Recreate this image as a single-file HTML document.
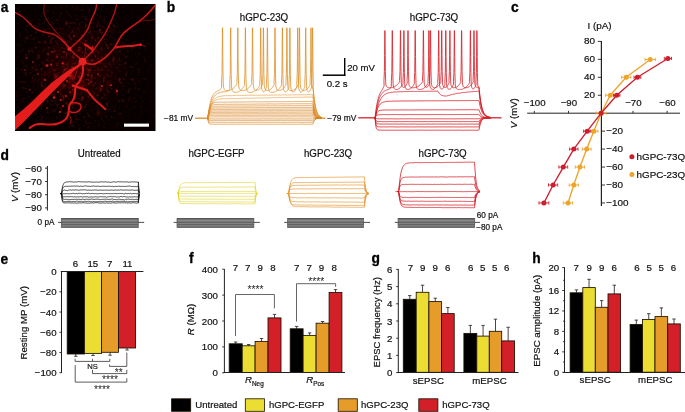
<!DOCTYPE html>
<html><head><meta charset="utf-8"><title>Figure</title>
<style>
html,body{margin:0;padding:0;background:#fff;}
svg{display:block;font-family:"Liberation Sans",sans-serif;}
text{stroke:#111;stroke-width:0.2px;paint-order:stroke;}
</style></head><body>
<svg width="685" height="412" viewBox="0 0 685 412">
<rect x="0" y="0" width="685" height="412" fill="#fff"/>
<defs>
<radialGradient id="glow" cx="80" cy="66" r="58" gradientUnits="userSpaceOnUse"><stop offset="0" stop-color="#4a0000" stop-opacity="0.6"/><stop offset="0.5" stop-color="#300000" stop-opacity="0.4"/><stop offset="1" stop-color="#100000" stop-opacity="0"/></radialGradient>
<filter id="b1" x="-5%" y="-5%" width="110%" height="110%"><feGaussianBlur stdDeviation="0.5"/></filter>
<filter id="b2" x="-5%" y="-5%" width="110%" height="110%"><feGaussianBlur stdDeviation="0.8"/></filter>
<filter id="grain" x="0" y="0" width="100%" height="100%"><feTurbulence type="fractalNoise" baseFrequency="0.32" numOctaves="2" seed="3" result="n"/><feColorMatrix in="n" type="matrix" values="0 0 0 0 0.7  0 0 0 0 0.03  0 0 0 0 0.03  3.2 0 0 0 -1.75"/></filter>
<radialGradient id="gmg" cx="78" cy="70" r="75" gradientUnits="userSpaceOnUse"><stop offset="0" stop-color="#fff"/><stop offset="0.55" stop-color="#999"/><stop offset="1" stop-color="#222"/></radialGradient><mask id="gm"><rect x="15" y="4" width="141" height="127" fill="url(#gmg)"/></mask>
<clipPath id="ca"><rect x="15" y="4" width="140.5" height="127"/></clipPath>
</defs>
<rect x="15" y="4" width="140.5" height="127" fill="#080000"/>
<g clip-path="url(#ca)">
<rect x="15" y="4" width="140.5" height="127" fill="url(#glow)"/>
<rect x="15" y="4" width="140.5" height="127" filter="url(#grain)" opacity="0.5" mask="url(#gm)"/>
<g filter="url(#b2)" fill="#c81818">
<circle cx="65.88" cy="71.01" r="0.4" opacity="0.7"/>
<circle cx="81.72" cy="82.84" r="0.9" opacity="0.28"/>
<circle cx="63.03" cy="78.68" r="0.4" opacity="0.38"/>
<circle cx="69.66" cy="75.9" r="0.4" opacity="0.7"/>
<circle cx="60.27" cy="67.28" r="0.4" opacity="0.57"/>
<circle cx="59.03" cy="83.24" r="0.5" opacity="0.28"/>
<circle cx="78.87" cy="85.84" r="0.4" opacity="0.56"/>
<circle cx="53.53" cy="70.3" r="1.1" opacity="0.35"/>
<circle cx="46.13" cy="97.45" r="0.9" opacity="0.64"/>
<circle cx="52.23" cy="69.39" r="0.9" opacity="0.36"/>
<circle cx="65.16" cy="85.88" r="0.9" opacity="0.76"/>
<circle cx="52.96" cy="93.55" r="0.5" opacity="0.69"/>
<circle cx="64.19" cy="73.45" r="0.9" opacity="0.52"/>
<circle cx="59.14" cy="90.19" r="0.7" opacity="0.41"/>
<circle cx="58.05" cy="81.87" r="0.6" opacity="0.33"/>
<circle cx="68.29" cy="76.1" r="0.4" opacity="0.78"/>
<circle cx="77.58" cy="49.72" r="0.6" opacity="0.44"/>
<circle cx="60.27" cy="87.62" r="0.7" opacity="0.57"/>
<circle cx="117.81" cy="60.94" r="0.7" opacity="0.63"/>
<circle cx="83.18" cy="80.96" r="1.1" opacity="0.64"/>
<circle cx="92.9" cy="34.98" r="0.6" opacity="0.64"/>
<circle cx="122.72" cy="36.62" r="0.6" opacity="0.26"/>
<circle cx="82.05" cy="85.49" r="0.4" opacity="0.37"/>
<circle cx="69.07" cy="79.37" r="1.1" opacity="0.39"/>
<circle cx="107.85" cy="94.25" r="0.7" opacity="0.47"/>
<circle cx="63.84" cy="106.29" r="0.5" opacity="0.7"/>
<circle cx="57.39" cy="82.46" r="0.6" opacity="0.63"/>
<circle cx="57.71" cy="85.98" r="0.5" opacity="0.33"/>
<circle cx="70.94" cy="83.75" r="0.7" opacity="0.71"/>
<circle cx="77.4" cy="90.21" r="0.6" opacity="0.25"/>
<circle cx="48.85" cy="67.86" r="0.5" opacity="0.63"/>
<circle cx="57.14" cy="74.91" r="0.9" opacity="0.61"/>
<circle cx="71.35" cy="74.77" r="1.1" opacity="0.69"/>
<circle cx="46.27" cy="92.56" r="0.7" opacity="0.47"/>
<circle cx="80.11" cy="98.45" r="0.5" opacity="0.49"/>
<circle cx="72.49" cy="77.79" r="0.9" opacity="0.28"/>
<circle cx="82.7" cy="84.18" r="0.6" opacity="0.59"/>
<circle cx="70.02" cy="76.01" r="0.5" opacity="0.59"/>
<circle cx="62.81" cy="84.91" r="0.6" opacity="0.51"/>
<circle cx="82.66" cy="85.75" r="0.7" opacity="0.8"/>
<circle cx="96.61" cy="89.86" r="0.4" opacity="0.66"/>
<circle cx="69.59" cy="70.16" r="0.7" opacity="0.71"/>
<circle cx="73" cy="75.17" r="0.9" opacity="0.45"/>
<circle cx="68.14" cy="71.9" r="0.4" opacity="0.67"/>
<circle cx="79.91" cy="81.55" r="0.6" opacity="0.54"/>
<circle cx="101.7" cy="58.08" r="0.6" opacity="0.67"/>
<circle cx="47.46" cy="111.82" r="0.5" opacity="0.59"/>
<circle cx="72.33" cy="67.76" r="0.5" opacity="0.69"/>
<circle cx="72.75" cy="92.22" r="0.9" opacity="0.52"/>
<circle cx="65.1" cy="40.44" r="0.4" opacity="0.68"/>
<circle cx="55.92" cy="66.48" r="0.6" opacity="0.5"/>
<circle cx="72.9" cy="74.95" r="0.6" opacity="0.78"/>
<circle cx="71.86" cy="87.05" r="0.5" opacity="0.44"/>
<circle cx="55.45" cy="77.38" r="0.9" opacity="0.71"/>
<circle cx="82.22" cy="43.04" r="0.4" opacity="0.71"/>
<circle cx="73.77" cy="79.07" r="0.7" opacity="0.68"/>
<circle cx="70.01" cy="76.02" r="1.1" opacity="0.43"/>
<circle cx="79.88" cy="50.02" r="1.1" opacity="0.47"/>
<circle cx="61.42" cy="29.26" r="0.5" opacity="0.8"/>
<circle cx="108.24" cy="81.81" r="0.9" opacity="0.75"/>
<circle cx="72.49" cy="71.84" r="0.7" opacity="0.61"/>
<circle cx="61.42" cy="86.22" r="0.9" opacity="0.55"/>
<circle cx="62.75" cy="33.84" r="0.4" opacity="0.54"/>
<circle cx="76.06" cy="73.66" r="0.7" opacity="0.79"/>
<circle cx="88.8" cy="78.9" r="0.5" opacity="0.41"/>
<circle cx="73.14" cy="121.85" r="0.9" opacity="0.43"/>
<circle cx="116.67" cy="92.33" r="1.1" opacity="0.44"/>
<circle cx="56.1" cy="79.25" r="0.9" opacity="0.7"/>
<circle cx="107.08" cy="45.02" r="0.5" opacity="0.54"/>
<circle cx="64.62" cy="75.3" r="0.4" opacity="0.73"/>
<circle cx="71.02" cy="70.62" r="0.5" opacity="0.34"/>
<circle cx="33.24" cy="81.37" r="1.1" opacity="0.32"/>
<circle cx="32.03" cy="69.54" r="0.7" opacity="0.68"/>
<circle cx="82.43" cy="84.5" r="0.9" opacity="0.28"/>
<circle cx="72.39" cy="77.46" r="0.7" opacity="0.56"/>
<circle cx="70.47" cy="69.44" r="0.4" opacity="0.49"/>
<circle cx="45.17" cy="74.35" r="1.1" opacity="0.4"/>
<circle cx="48.75" cy="75.05" r="0.7" opacity="0.53"/>
<circle cx="70.35" cy="75.7" r="0.6" opacity="0.76"/>
<circle cx="96.25" cy="57.77" r="0.5" opacity="0.71"/>
<circle cx="61.45" cy="78.83" r="0.4" opacity="0.62"/>
<circle cx="60.4" cy="80.04" r="0.5" opacity="0.62"/>
<circle cx="77.04" cy="84.94" r="1.1" opacity="0.6"/>
<circle cx="31.64" cy="113.27" r="0.6" opacity="0.74"/>
<circle cx="88.19" cy="71.13" r="0.7" opacity="0.74"/>
<circle cx="72.05" cy="78.92" r="1.1" opacity="0.71"/>
<circle cx="54.59" cy="74.68" r="0.6" opacity="0.48"/>
<circle cx="54.53" cy="92.98" r="0.4" opacity="0.65"/>
<circle cx="37.59" cy="87.06" r="0.4" opacity="0.46"/>
<circle cx="65.74" cy="75.59" r="0.6" opacity="0.53"/>
<circle cx="87.57" cy="13.85" r="0.4" opacity="0.3"/>
<circle cx="65.68" cy="103.1" r="0.5" opacity="0.4"/>
<circle cx="86.85" cy="66.88" r="0.6" opacity="0.47"/>
<circle cx="49.53" cy="71.83" r="0.9" opacity="0.56"/>
<circle cx="73.43" cy="77.13" r="1.1" opacity="0.35"/>
<circle cx="79" cy="69.95" r="0.6" opacity="0.77"/>
<circle cx="98.5" cy="90.39" r="0.5" opacity="0.29"/>
<circle cx="94.16" cy="51.49" r="0.7" opacity="0.26"/>
<circle cx="94.73" cy="63.36" r="0.9" opacity="0.32"/>
<circle cx="68.99" cy="75.85" r="0.5" opacity="0.77"/>
<circle cx="78.85" cy="92.66" r="0.6" opacity="0.6"/>
<circle cx="65.94" cy="75.3" r="0.5" opacity="0.41"/>
<circle cx="60.11" cy="88.32" r="0.4" opacity="0.8"/>
<circle cx="70.01" cy="76" r="0.4" opacity="0.65"/>
<circle cx="53.24" cy="78.33" r="0.7" opacity="0.31"/>
<circle cx="72.37" cy="71.55" r="0.7" opacity="0.61"/>
<circle cx="124.49" cy="67.06" r="0.6" opacity="0.63"/>
<circle cx="86.35" cy="74.42" r="0.6" opacity="0.36"/>
<circle cx="91" cy="97.99" r="0.6" opacity="0.79"/>
<circle cx="85.66" cy="53.62" r="0.4" opacity="0.29"/>
<circle cx="70.63" cy="76.9" r="0.4" opacity="0.62"/>
<circle cx="54.49" cy="88.53" r="0.9" opacity="0.62"/>
<circle cx="68.91" cy="79.43" r="0.7" opacity="0.35"/>
<circle cx="67.6" cy="93.39" r="0.4" opacity="0.39"/>
<circle cx="1.21" cy="57.77" r="0.5" opacity="0.27"/>
<circle cx="83.01" cy="65.69" r="0.5" opacity="0.45"/>
<circle cx="43.28" cy="79.73" r="0.9" opacity="0.61"/>
<circle cx="70" cy="76.16" r="0.4" opacity="0.3"/>
<circle cx="64.62" cy="73.16" r="0.7" opacity="0.26"/>
<circle cx="65.31" cy="87.51" r="0.5" opacity="0.3"/>
<circle cx="99.25" cy="113.56" r="1.1" opacity="0.68"/>
<circle cx="58.32" cy="68.95" r="0.6" opacity="0.65"/>
<circle cx="53.43" cy="62.69" r="0.5" opacity="0.27"/>
<circle cx="70.42" cy="75.38" r="0.9" opacity="0.6"/>
<circle cx="73.28" cy="79.41" r="0.9" opacity="0.66"/>
<circle cx="24.36" cy="57.79" r="0.4" opacity="0.7"/>
<circle cx="49.38" cy="36.03" r="1.1" opacity="0.6"/>
<circle cx="95.29" cy="89.02" r="0.4" opacity="0.32"/>
<circle cx="74.28" cy="69.79" r="0.9" opacity="0.28"/>
<circle cx="79.91" cy="77.02" r="0.9" opacity="0.62"/>
<circle cx="70.66" cy="74.14" r="1.1" opacity="0.76"/>
<circle cx="70.12" cy="75.92" r="0.4" opacity="0.61"/>
<circle cx="69.43" cy="111.88" r="0.4" opacity="0.72"/>
<circle cx="71.74" cy="91.74" r="0.5" opacity="0.38"/>
<circle cx="80.18" cy="63.06" r="0.4" opacity="0.51"/>
<circle cx="59.97" cy="56.28" r="0.4" opacity="0.59"/>
<circle cx="74.16" cy="80.81" r="0.6" opacity="0.61"/>
<circle cx="66.96" cy="68.95" r="0.9" opacity="0.56"/>
<circle cx="68.85" cy="84.41" r="1.1" opacity="0.3"/>
<circle cx="70.15" cy="76.65" r="0.7" opacity="0.41"/>
<circle cx="40" cy="81.6" r="0.4" opacity="0.8"/>
<circle cx="66.95" cy="75.16" r="0.6" opacity="0.79"/>
<circle cx="65.38" cy="77.06" r="0.9" opacity="0.78"/>
<circle cx="68.08" cy="76.55" r="0.6" opacity="0.46"/>
<circle cx="119.23" cy="97.68" r="0.4" opacity="0.33"/>
<circle cx="38.45" cy="71.82" r="0.6" opacity="0.32"/>
<circle cx="80.65" cy="68.03" r="1.1" opacity="0.45"/>
<circle cx="40.25" cy="76.34" r="0.7" opacity="0.47"/>
<circle cx="54.78" cy="47.13" r="0.7" opacity="0.42"/>
<circle cx="106.02" cy="114.21" r="0.6" opacity="0.46"/>
<circle cx="61.89" cy="89.93" r="0.6" opacity="0.71"/>
<circle cx="82.43" cy="86.15" r="0.5" opacity="0.64"/>
<circle cx="57.08" cy="87.64" r="0.7" opacity="0.46"/>
<circle cx="79.06" cy="67.61" r="0.4" opacity="0.45"/>
<circle cx="89.01" cy="81.17" r="0.4" opacity="0.28"/>
<circle cx="64.92" cy="68.84" r="1.1" opacity="0.76"/>
<circle cx="69.91" cy="75.99" r="0.5" opacity="0.68"/>
<circle cx="74.75" cy="57.59" r="0.7" opacity="0.74"/>
<circle cx="82.66" cy="69.34" r="0.9" opacity="0.55"/>
<circle cx="63.15" cy="45.22" r="0.4" opacity="0.76"/>
<circle cx="90.82" cy="97.48" r="0.6" opacity="0.52"/>
<circle cx="87.23" cy="66.74" r="0.9" opacity="0.32"/>
<circle cx="62.63" cy="96.72" r="1.1" opacity="0.66"/>
<circle cx="67.47" cy="72.86" r="0.7" opacity="0.61"/>
<circle cx="61.28" cy="81.93" r="0.5" opacity="0.6"/>
<circle cx="99.79" cy="89.23" r="0.9" opacity="0.75"/>
<circle cx="86.18" cy="66.6" r="0.7" opacity="0.49"/>
<circle cx="69.66" cy="75.91" r="0.5" opacity="0.3"/>
<circle cx="70.45" cy="81.72" r="0.6" opacity="0.7"/>
<circle cx="72.99" cy="84.39" r="0.4" opacity="0.66"/>
<circle cx="45.93" cy="72.8" r="0.7" opacity="0.4"/>
<circle cx="70.2" cy="63.08" r="0.7" opacity="0.4"/>
<circle cx="55.98" cy="75.74" r="1.1" opacity="0.68"/>
<circle cx="71.68" cy="73.96" r="0.4" opacity="0.4"/>
<circle cx="69.74" cy="76.08" r="0.6" opacity="0.72"/>
<circle cx="89.45" cy="58.63" r="0.4" opacity="0.32"/>
<circle cx="83.97" cy="41.74" r="0.9" opacity="0.52"/>
<circle cx="89.03" cy="84.19" r="0.9" opacity="0.72"/>
<circle cx="85.91" cy="87.3" r="0.5" opacity="0.33"/>
<circle cx="73.56" cy="75.45" r="0.4" opacity="0.77"/>
<circle cx="70.65" cy="69.9" r="0.7" opacity="0.3"/>
<circle cx="76.59" cy="42.38" r="0.4" opacity="0.68"/>
<circle cx="65.86" cy="71.33" r="0.6" opacity="0.78"/>
<circle cx="26.81" cy="37.74" r="0.9" opacity="0.6"/>
<circle cx="73.86" cy="77.59" r="0.9" opacity="0.77"/>
<circle cx="74.57" cy="86.36" r="0.6" opacity="0.37"/>
<circle cx="68.97" cy="78.66" r="0.7" opacity="0.4"/>
<circle cx="69.04" cy="77.89" r="0.5" opacity="0.51"/>
<circle cx="71.93" cy="75.58" r="1.1" opacity="0.61"/>
<circle cx="89.46" cy="82.13" r="0.5" opacity="0.52"/>
<circle cx="69.4" cy="87.44" r="1.1" opacity="0.48"/>
<circle cx="52.43" cy="92.22" r="0.7" opacity="0.27"/>
<circle cx="63.77" cy="63.99" r="0.5" opacity="0.25"/>
<circle cx="63.58" cy="96.59" r="0.9" opacity="0.29"/>
<circle cx="71.84" cy="60.03" r="0.5" opacity="0.38"/>
<circle cx="70.09" cy="76.43" r="0.6" opacity="0.31"/>
<circle cx="91.5" cy="61.77" r="0.7" opacity="0.48"/>
<circle cx="56.53" cy="56.11" r="0.9" opacity="0.33"/>
<circle cx="84.78" cy="73.89" r="0.5" opacity="0.48"/>
<circle cx="67.04" cy="66.02" r="0.5" opacity="0.47"/>
<circle cx="139.95" cy="115.45" r="0.9" opacity="0.15"/>
<circle cx="26.95" cy="25.7" r="0.5" opacity="0.16"/>
<circle cx="145.15" cy="98.29" r="0.5" opacity="0.19"/>
<circle cx="116.1" cy="109.89" r="0.7" opacity="0.22"/>
<circle cx="31.04" cy="14.78" r="0.5" opacity="0.2"/>
<circle cx="147.86" cy="20.46" r="0.5" opacity="0.21"/>
<circle cx="122.09" cy="43.59" r="0.7" opacity="0.14"/>
<circle cx="113.33" cy="29.46" r="0.9" opacity="0.33"/>
<circle cx="42.64" cy="50.53" r="0.7" opacity="0.13"/>
<circle cx="72.69" cy="106.48" r="0.7" opacity="0.13"/>
<circle cx="20.81" cy="12.82" r="0.5" opacity="0.18"/>
<circle cx="119.13" cy="117.32" r="0.7" opacity="0.2"/>
<circle cx="62.23" cy="124.22" r="0.5" opacity="0.18"/>
<circle cx="114.9" cy="44.56" r="0.7" opacity="0.19"/>
<circle cx="115.58" cy="79.45" r="0.9" opacity="0.34"/>
<circle cx="25.02" cy="108.25" r="0.5" opacity="0.23"/>
<circle cx="148.04" cy="124.24" r="0.7" opacity="0.3"/>
<circle cx="142.07" cy="106.85" r="0.5" opacity="0.33"/>
<circle cx="41.25" cy="105.32" r="0.9" opacity="0.19"/>
<circle cx="111.51" cy="23.91" r="0.5" opacity="0.2"/>
<circle cx="60.1" cy="50.23" r="0.9" opacity="0.14"/>
<circle cx="43.23" cy="99.11" r="0.5" opacity="0.21"/>
<circle cx="105.64" cy="65.21" r="0.9" opacity="0.19"/>
<circle cx="151.28" cy="115.43" r="0.5" opacity="0.18"/>
<circle cx="27.6" cy="17.05" r="0.7" opacity="0.35"/>
<circle cx="150.15" cy="26.65" r="0.5" opacity="0.22"/>
<circle cx="101.6" cy="89.26" r="0.9" opacity="0.24"/>
<circle cx="122.79" cy="99.95" r="0.7" opacity="0.19"/>
<circle cx="94.23" cy="51.62" r="0.9" opacity="0.18"/>
<circle cx="76.64" cy="28.22" r="0.5" opacity="0.16"/>
<circle cx="138.02" cy="77.29" r="0.7" opacity="0.13"/>
<circle cx="50.73" cy="35.74" r="0.9" opacity="0.17"/>
<circle cx="127.57" cy="86.67" r="0.5" opacity="0.14"/>
<circle cx="81.52" cy="107.39" r="0.7" opacity="0.33"/>
<circle cx="21.57" cy="41.71" r="0.5" opacity="0.13"/>
<circle cx="98.87" cy="108.49" r="0.5" opacity="0.33"/>
<circle cx="67.37" cy="113.27" r="0.7" opacity="0.26"/>
<circle cx="122.95" cy="88.09" r="0.5" opacity="0.14"/>
<circle cx="98.27" cy="82.49" r="0.5" opacity="0.13"/>
<circle cx="62.92" cy="10.52" r="0.7" opacity="0.13"/>
<circle cx="117.05" cy="119.24" r="0.5" opacity="0.31"/>
<circle cx="72.44" cy="51.48" r="0.9" opacity="0.19"/>
<circle cx="44.07" cy="104.41" r="0.9" opacity="0.23"/>
<circle cx="72.33" cy="104.48" r="0.9" opacity="0.25"/>
<circle cx="104.21" cy="16.39" r="0.5" opacity="0.21"/>
<circle cx="53.42" cy="128.53" r="0.9" opacity="0.19"/>
<circle cx="147.54" cy="44.05" r="0.9" opacity="0.32"/>
<circle cx="73.14" cy="7.28" r="0.7" opacity="0.27"/>
<circle cx="69.92" cy="55.62" r="0.5" opacity="0.22"/>
<circle cx="37.61" cy="19.19" r="0.5" opacity="0.21"/>
<circle cx="137.83" cy="62.61" r="0.5" opacity="0.15"/>
<circle cx="23.13" cy="22.81" r="0.7" opacity="0.14"/>
<circle cx="101.86" cy="51.36" r="0.9" opacity="0.16"/>
<circle cx="64.02" cy="25.23" r="0.5" opacity="0.33"/>
<circle cx="31.01" cy="66.31" r="0.5" opacity="0.19"/>
<circle cx="131.55" cy="10.44" r="0.7" opacity="0.19"/>
<circle cx="99.85" cy="84.55" r="0.5" opacity="0.33"/>
<circle cx="101.61" cy="108.07" r="0.5" opacity="0.27"/>
<circle cx="134.21" cy="82.63" r="0.9" opacity="0.31"/>
<circle cx="130.43" cy="27.87" r="0.5" opacity="0.13"/>
<circle cx="145.52" cy="24.56" r="0.7" opacity="0.15"/>
<circle cx="50.09" cy="95.61" r="0.5" opacity="0.13"/>
<circle cx="93.6" cy="99.68" r="0.5" opacity="0.27"/>
<circle cx="60.74" cy="53.73" r="0.7" opacity="0.25"/>
<circle cx="102.53" cy="43.28" r="0.7" opacity="0.19"/>
<circle cx="50.4" cy="53.65" r="0.7" opacity="0.22"/>
<circle cx="76.49" cy="7.92" r="0.9" opacity="0.35"/>
<circle cx="80.21" cy="60.85" r="0.9" opacity="0.3"/>
<circle cx="79.24" cy="27.45" r="0.7" opacity="0.21"/>
<circle cx="25.26" cy="49.82" r="0.7" opacity="0.14"/>
</g>
<g filter="url(#b1)">
<path d="M15 12.5 Q20 15 22.15 16.5 Q24.3 18 26.15 20 Q28 22 29.25 23.1 Q30.5 24.2 32.25 26.1 Q34 28 36.15 29.2 Q38.3 30.4 42.15 31.45 Q46 32.5 49.9 33.25 Q53.8 34 55.9 35.5 Q58 37 59.8 38.35 Q61.6 39.7 64.7 42.85 Q67.8 46 68.55 47.5 Q69.3 49 72.65 52 Q76 55 79.25 58 L82.5 61" fill="none" stroke="#dc1a1a" stroke-width="1.5" stroke-linecap="round" opacity="0.81"/>
<path d="M44.5 4 Q43 10.2 44.5 14.85 Q46 19.5 49.15 23.4 Q52.3 27.3 55.4 31.15 Q58.5 35 61.6 38.15 Q64.7 41.3 67 44.4 L69.3 47.5" fill="none" stroke="#dc1a1a" stroke-width="1.12" stroke-linecap="round" opacity="0.49"/>
<path d="M69.3 49 Q75 44 77.75 41.5 Q80.5 39 82.75 36.25 Q85 33.5 86.55 31.15 Q88.1 28.8 89.65 24.15 Q91.2 19.5 93.55 14.85 Q95.9 10.2 96.25 7.1 L96.6 4" fill="none" stroke="#dc1a1a" stroke-width="1.5" stroke-linecap="round" opacity="0.86"/>
<path d="M84 60 Q88 56 90.4 53.3 Q92.8 50.6 95.9 46.7 Q99 42.8 102.1 38.15 Q105.2 33.5 107.5 28.85 Q109.8 24.2 112.15 18.75 Q114.5 13.3 115.65 8.65 L116.8 4" fill="none" stroke="#dc1a1a" stroke-width="1.38" stroke-linecap="round" opacity="0.81"/>
<path d="M85 62.5 Q91.2 65.5 95.85 63.5 Q100.5 61.5 105.15 57.6 Q109.8 53.7 112.9 49.85 Q116 46 118.35 40.75 Q120.7 35.5 124.6 32.15 Q128.5 28.8 133.15 25.7 Q137.8 22.6 142.4 18.75 Q147 14.9 151 10.2 L155 5.5" fill="none" stroke="#dc1a1a" stroke-width="1.62" stroke-linecap="round" opacity="0.92"/>
<path d="M116 47.5 Q124 45.8 128 46 Q132 46.2 135 45.5 Q138 44.8 139.5 44.75 L141 44.7" fill="none" stroke="#dc1a1a" stroke-width="1.88" stroke-linecap="round" opacity="0.97"/>
<path d="M136 23 Q144 20 147 20.25 Q150 20.5 152 20 L154 19.5" fill="none" stroke="#dc1a1a" stroke-width="1" stroke-linecap="round" opacity="0.43"/>
<path d="M141 44.7 L145 46.5" fill="none" stroke="#dc1a1a" stroke-width="1.12" stroke-linecap="round" opacity="0.54"/>
<path d="M85 44.4 Q89 47 90.9 48.4 L92.8 49.8" fill="none" stroke="#dc1a1a" stroke-width="2.25" stroke-linecap="round" opacity="1"/>
<path d="M92.6 46.5 Q92.8 49.8 92.7 50.9 L92.6 52" fill="none" stroke="#dc1a1a" stroke-width="1.38" stroke-linecap="round" opacity="0.86"/>
<path d="M84.5 57 Q86 50 85.5 47.2 L85 44.4" fill="none" stroke="#dc1a1a" stroke-width="0.88" stroke-linecap="round" opacity="0.49"/>
<path d="M82.8 64 Q83.05 69.01 82.89 71.76 Q82.73 74.51 81.7 76.6 Q80.67 78.69 80.14 80.25 Q79.62 81.81 78.13 83.16 Q76.64 84.5 76.17 85.63 Q75.7 86.76 75.31 88.52 Q74.91 90.29 75.05 91.69 Q75.2 93.09 74.72 94.92 Q74.25 96.75 73.82 98.47 Q73.39 100.19 72.13 101.51 Q70.87 102.83 69.95 104.03 Q69.03 105.23 68.99 108.09 Q68.94 110.95 68.16 113.98 Q67.38 117 66.3 118.36 Q65.23 119.72 63.92 120.68 Q62.62 121.65 60.67 122.53 Q58.71 123.4 56.83 123.88 Q54.94 124.37 51.37 124.49 Q47.81 124.6 44.63 124.22 Q41.46 123.83 38.6 124.08 Q35.75 124.33 34.25 125.09 Q32.75 125.84 31.22 126.87 L29.7 127.9" fill="none" stroke="#dc1a1a" stroke-width="2.12" stroke-linecap="round" opacity="1"/>
<path d="M72.6 85.5 Q76 86.6 78.5 87.4 Q81 88.2 83.9 89.15 L86.8 90.1" fill="none" stroke="#dc1a1a" stroke-width="2.38" stroke-linecap="round" opacity="1"/>
<path d="M86.8 90.1 Q90.24 94.3 92.2 96.69 Q94.17 99.07 95.84 100.73 Q97.52 102.38 99.22 103.8 Q100.92 105.22 103.21 107.21 L105.5 109.2" fill="none" stroke="#dc1a1a" stroke-width="2" stroke-linecap="round" opacity="0.97"/>
<path d="M70.5 103 Q78.5 102.1 79.9 104.05 Q81.3 106 80.9 108 Q80.5 110 77.65 111.55 Q74.8 113.1 71.7 112.2 L68.6 111.3" fill="none" stroke="#dc1a1a" stroke-width="1.5" stroke-linecap="round" opacity="0.92"/>
<path d="M78.5 64 Q77 72 75.5 75.5 L74 79" fill="none" stroke="#dc1a1a" stroke-width="1" stroke-linecap="round" opacity="0.49"/>
<path d="M69.8 116 Q72 120 71 122 L70 124" fill="none" stroke="#dc1a1a" stroke-width="1" stroke-linecap="round" opacity="0.65"/>
</g>
<g filter="url(#b1)" fill="#e62020">
<polygon points="15,116.3 23.2,109.5 32.4,101.2 41.6,91.9 50.9,83.6 60.1,76.3 69.3,69.8 75.8,66.1 80.4,63.2 82,64.6 75.8,69.3 69.3,75.4 60.1,84.6 50.9,93.8 41.6,103.6 32.4,113.1 23.2,122.4 15.8,129.6 15,130.4" fill="#e41d1d"/>
<circle cx="82.6" cy="61.6" r="3.9"/>
<circle cx="69.5" cy="49" r="2.1"/>
<circle cx="140.5" cy="44.7" r="1.3"/>
<circle cx="47.1" cy="65.5" r="1.3" opacity="0.9"/>
<circle cx="51.2" cy="64.4" r="1" opacity="0.9"/>
<circle cx="62.6" cy="63.4" r="1.1" opacity="0.9"/>
<circle cx="33" cy="62" r="0.8" opacity="0.9"/>
<circle cx="57" cy="57" r="0.8" opacity="0.9"/>
<circle cx="64" cy="52" r="0.8" opacity="0.9"/>
<circle cx="54" cy="97.5" r="1.3" opacity="0.9"/>
<circle cx="58" cy="92" r="1" opacity="0.9"/>
<circle cx="60.5" cy="100" r="0.9" opacity="0.9"/>
<circle cx="66" cy="96" r="0.9" opacity="0.9"/>
<circle cx="63" cy="106" r="1" opacity="0.9"/>
<circle cx="70" cy="92" r="0.8" opacity="0.9"/>
<circle cx="45" cy="80" r="0.9" opacity="0.9"/>
<circle cx="38" cy="74" r="0.8" opacity="0.9"/>
<circle cx="27" cy="58" r="0.7" opacity="0.9"/>
<circle cx="52" cy="52" r="0.8" opacity="0.9"/>
<circle cx="102" cy="86" r="0.9" opacity="0.9"/>
<circle cx="111" cy="85" r="0.9" opacity="0.9"/>
<circle cx="117" cy="91" r="1.1" opacity="0.9"/>
<circle cx="98" cy="74" r="0.8" opacity="0.9"/>
<circle cx="91" cy="82" r="0.8" opacity="0.9"/>
<circle cx="74" cy="36" r="0.8" opacity="0.9"/>
<circle cx="100" cy="30" r="0.7" opacity="0.9"/>
<circle cx="60" cy="112" r="1" opacity="0.9"/>
<circle cx="47" cy="108" r="0.8" opacity="0.9"/>
<circle cx="67" cy="81" r="0.9" opacity="0.9"/>
<circle cx="70" cy="76" r="0.8" opacity="0.9"/>
<circle cx="88" cy="75" r="0.8" opacity="0.9"/>
<circle cx="90" cy="70" r="0.7" opacity="0.9"/>
<circle cx="30" cy="90" r="0.7" opacity="0.9"/>
<circle cx="25" cy="70" r="0.7" opacity="0.9"/>
</g>
</g>
<rect x="124" y="123.6" width="25" height="3.1" fill="#fff"/>
<text transform="translate(0.7 11.6) scale(1.0 1)" font-size="13.8" font-weight="bold" fill="#000" style="stroke:#000;stroke-width:0.3px">a</text>
<text transform="translate(166.7 11.8) scale(1.0 1)" font-size="13.8" font-weight="bold" fill="#000" style="stroke:#000;stroke-width:0.3px">b</text>
<text transform="translate(239.8 20.7) scale(1 1.03)" font-size="9.8" fill="#111">hGPC-23Q</text>
<text transform="translate(409.8 20.7) scale(1 1.03)" font-size="9.8" fill="#111">hGPC-73Q</text>
<g opacity="0.95">
<path d="M207.3 118.16 L207.8 118.16 L208.3 121.77 L208.8 123.21 L209.3 123.85 L209.8 124.06 L210.3 124.1 L210.8 124.19 L211.3 124.19 L211.8 124.3 L212.3 124.23 L212.8 124.2 L213.3 124.21 L213.8 124.17 L214.3 124.21 L214.8 124.25 L215.3 124.29 L215.8 124.28 L216.3 124.24 L216.8 124.28 L217.3 124.29 L217.8 124.25 L218.3 124.21 L218.8 124.18 L219.3 124.2 L219.8 124.2 L220.3 124.23 L220.8 124.26 L221.3 124.2 L221.8 124.21 L222.3 124.22 L222.8 124.2 L223.3 124.21 L223.8 124.26 L224.3 124.24 L224.8 124.22 L225.3 124.2 L225.8 124.21 L226.3 124.19 L226.8 124.22 L227.3 124.17 L227.8 124.16 L228.3 124.19 L228.8 124.24 L229.3 124.21 L229.8 124.21 L230.3 124.23 L230.8 124.21 L231.3 124.21 L231.8 124.22 L232.3 124.17 L232.8 124.13 L233.3 124.16 L233.8 124.14 L234.3 124.17 L234.8 124.18 L235.3 124.16 L235.8 124.14 L236.3 124.14 L236.8 124.2 L237.3 124.12 L237.8 124.18 L238.3 124.19 L238.8 124.17 L239.3 124.19 L239.8 124.19 L240.3 124.16 L240.8 124.17 L241.3 124.18 L241.8 124.2 L242.3 124.2 L242.8 124.2 L243.3 124.12 L243.8 124.12 L244.3 124.17 L244.8 124.2 L245.3 124.17 L245.8 124.15 L246.3 124.13 L246.8 124.11 L247.3 124.16 L247.8 124.2 L248.3 124.2 L248.8 124.21 L249.3 124.25 L249.8 124.19 L250.3 124.19 L250.8 124.19 L251.3 124.23 L251.8 124.17 L252.3 124.13 L252.8 124.17 L253.3 124.16 L253.8 124.18 L254.3 124.21 L254.8 124.22 L255.3 124.24 L255.8 124.23 L256.3 124.22 L256.8 124.16 L257.3 124.21 L257.8 124.16 L258.3 124.17 L258.8 124.23 L259.3 124.16 L259.8 124.2 L260.3 124.17 L260.8 124.18 L261.3 124.13 L261.8 124.09 L262.3 124.15 L262.8 124.24 L263.3 124.25 L263.8 124.23 L264.3 124.22 L264.8 124.27 L265.3 124.3 L265.8 124.24 L266.3 124.19 L266.8 124.26 L267.3 124.22 L267.8 124.24 L268.3 124.26 L268.8 124.21 L269.3 124.19 L269.8 124.14 L270.3 124.21 L270.8 124.2 L271.3 124.23 L271.8 124.17 L272.3 124.21 L272.8 124.17 L273.3 124.18 L273.8 124.14 L274.3 124.16 L274.8 124.2 L275.3 124.19 L275.8 124.18 L276.3 124.21 L276.8 124.19 L277.3 124.21 L277.8 124.21 L278.3 124.24 L278.8 124.21 L279.3 124.21 L279.8 124.21 L280.3 124.26 L280.8 124.25 L281.3 124.19 L281.8 124.16 L282.3 124.17 L282.8 124.17 L283.3 124.15 L283.8 124.15 L284.3 124.2 L284.8 124.14 L285.3 124.17 L285.8 124.18 L286.3 124.24 L286.8 124.17 L287.3 124.2 L287.8 124.19 L288.3 124.2 L288.8 124.22 L289.3 124.28 L289.8 124.26 L290.3 124.25 L290.8 124.19 L291.3 124.21 L291.8 124.16 L292.3 124.18 L292.8 124.2 L293.3 124.25 L293.8 124.26 L294.3 124.25 L294.8 124.26 L295.3 124.23 L295.8 124.22 L296.3 124.21 L296.8 124.24 L297.3 124.21 L297.8 124.18 L298.3 124.15 L298.8 124.25 L299.3 124.16 L299.8 124.18 L300.3 124.18 L300.8 124.18 L301.3 124.16 L301.8 124.19 L302.3 124.2 L302.8 124.17 L303.3 124.17 L303.8 124.14 L304.3 124.18 L304.8 124.26 L305.3 124.29 L305.8 124.29 L306.3 124.25 L306.8 124.23 L307.3 124.24 L307.8 124.28 L308.3 124.25 L308.8 124.23 L309.3 124.18 L309.8 124.19 L310.3 124.2 L310.8 124.18 L311.3 124.15 L311.8 124.17 L312.3 124.2 L312.8 124.17 L313.3 123.19 L313.8 121.84 L314.3 120.87 L314.8 120.21 L315.3 119.64 L315.8 119.25 L316.3 118.96 L316.8 118.75 L317.3 118.61 L317.8 118.45 L318.3 118.4 L318.8 118.3 L319.3 118.26 L319.8 118.28 L320.3 118.2 L320.8 118.25 L321.3 118.3 L321.8 118.3" fill="none" stroke="#D67A10" stroke-width="0.68" stroke-linejoin="round"/>
<path d="M207.3 118.22 L207.8 118.22 L208.3 120.65 L208.8 121.71 L209.3 122.04 L209.8 122.2 L210.3 122.28 L210.8 122.28 L211.3 122.25 L211.8 122.28 L212.3 122.29 L212.8 122.24 L213.3 122.24 L213.8 122.24 L214.3 122.25 L214.8 122.29 L215.3 122.32 L215.8 122.27 L216.3 122.28 L216.8 122.27 L217.3 122.22 L217.8 122.28 L218.3 122.27 L218.8 122.27 L219.3 122.21 L219.8 122.27 L220.3 122.28 L220.8 122.31 L221.3 122.29 L221.8 122.35 L222.3 122.34 L222.8 122.31 L223.3 122.32 L223.8 122.33 L224.3 122.3 L224.8 122.34 L225.3 122.34 L225.8 122.35 L226.3 122.37 L226.8 122.43 L227.3 122.37 L227.8 122.33 L228.3 122.33 L228.8 122.32 L229.3 122.23 L229.8 122.33 L230.3 122.33 L230.8 122.26 L231.3 122.26 L231.8 122.28 L232.3 122.28 L232.8 122.28 L233.3 122.29 L233.8 122.33 L234.3 122.35 L234.8 122.34 L235.3 122.34 L235.8 122.27 L236.3 122.23 L236.8 122.26 L237.3 122.26 L237.8 122.28 L238.3 122.26 L238.8 122.25 L239.3 122.27 L239.8 122.2 L240.3 122.2 L240.8 122.26 L241.3 122.28 L241.8 122.25 L242.3 122.28 L242.8 122.34 L243.3 122.37 L243.8 122.3 L244.3 122.28 L244.8 122.22 L245.3 122.23 L245.8 122.21 L246.3 122.22 L246.8 122.26 L247.3 122.27 L247.8 122.27 L248.3 122.23 L248.8 122.29 L249.3 122.28 L249.8 122.24 L250.3 122.26 L250.8 122.32 L251.3 122.26 L251.8 122.29 L252.3 122.25 L252.8 122.3 L253.3 122.32 L253.8 122.3 L254.3 122.27 L254.8 122.23 L255.3 122.23 L255.8 122.28 L256.3 122.3 L256.8 122.3 L257.3 122.28 L257.8 122.28 L258.3 122.31 L258.8 122.22 L259.3 122.24 L259.8 122.26 L260.3 122.24 L260.8 122.24 L261.3 122.26 L261.8 122.23 L262.3 122.22 L262.8 122.2 L263.3 122.2 L263.8 122.24 L264.3 122.29 L264.8 122.28 L265.3 122.28 L265.8 122.25 L266.3 122.27 L266.8 122.27 L267.3 122.31 L267.8 122.3 L268.3 122.33 L268.8 122.33 L269.3 122.31 L269.8 122.31 L270.3 122.27 L270.8 122.3 L271.3 122.29 L271.8 122.26 L272.3 122.28 L272.8 122.31 L273.3 122.3 L273.8 122.22 L274.3 122.23 L274.8 122.25 L275.3 122.28 L275.8 122.26 L276.3 122.28 L276.8 122.3 L277.3 122.31 L277.8 122.25 L278.3 122.24 L278.8 122.24 L279.3 122.24 L279.8 122.25 L280.3 122.3 L280.8 122.29 L281.3 122.26 L281.8 122.22 L282.3 122.27 L282.8 122.25 L283.3 122.26 L283.8 122.32 L284.3 122.36 L284.8 122.38 L285.3 122.31 L285.8 122.36 L286.3 122.33 L286.8 122.35 L287.3 122.33 L287.8 122.36 L288.3 122.33 L288.8 122.32 L289.3 122.31 L289.8 122.28 L290.3 122.29 L290.8 122.32 L291.3 122.28 L291.8 122.29 L292.3 122.26 L292.8 122.24 L293.3 122.21 L293.8 122.31 L294.3 122.31 L294.8 122.3 L295.3 122.33 L295.8 122.25 L296.3 122.28 L296.8 122.27 L297.3 122.3 L297.8 122.26 L298.3 122.28 L298.8 122.29 L299.3 122.34 L299.8 122.31 L300.3 122.31 L300.8 122.32 L301.3 122.33 L301.8 122.34 L302.3 122.33 L302.8 122.28 L303.3 122.33 L303.8 122.38 L304.3 122.36 L304.8 122.31 L305.3 122.34 L305.8 122.3 L306.3 122.31 L306.8 122.25 L307.3 122.32 L307.8 122.27 L308.3 122.3 L308.8 122.28 L309.3 122.27 L309.8 122.24 L310.3 122.26 L310.8 122.24 L311.3 122.3 L311.8 122.27 L312.3 122.28 L312.8 122.31 L313.3 121.63 L313.8 120.74 L314.3 120.09 L314.8 119.59 L315.3 119.23 L315.8 118.98 L316.3 118.72 L316.8 118.58 L317.3 118.48 L317.8 118.4 L318.3 118.37 L318.8 118.29 L319.3 118.22 L319.8 118.2 L320.3 118.23 L320.8 118.19 L321.3 118.12 L321.8 118.2" fill="none" stroke="#D67A10" stroke-width="0.68" stroke-linejoin="round"/>
<path d="M207.3 118.24 L207.8 118.25 L208.3 119.54 L208.8 120.05 L209.3 120.22 L209.8 120.29 L210.3 120.37 L210.8 120.37 L211.3 120.43 L211.8 120.41 L212.3 120.33 L212.8 120.37 L213.3 120.43 L213.8 120.43 L214.3 120.4 L214.8 120.38 L215.3 120.41 L215.8 120.38 L216.3 120.35 L216.8 120.37 L217.3 120.39 L217.8 120.37 L218.3 120.35 L218.8 120.38 L219.3 120.33 L219.8 120.33 L220.3 120.34 L220.8 120.43 L221.3 120.38 L221.8 120.41 L222.3 120.4 L222.8 120.44 L223.3 120.48 L223.8 120.44 L224.3 120.43 L224.8 120.39 L225.3 120.38 L225.8 120.42 L226.3 120.37 L226.8 120.35 L227.3 120.37 L227.8 120.38 L228.3 120.37 L228.8 120.31 L229.3 120.34 L229.8 120.36 L230.3 120.37 L230.8 120.39 L231.3 120.42 L231.8 120.49 L232.3 120.41 L232.8 120.37 L233.3 120.4 L233.8 120.33 L234.3 120.32 L234.8 120.32 L235.3 120.31 L235.8 120.31 L236.3 120.3 L236.8 120.31 L237.3 120.36 L237.8 120.43 L238.3 120.36 L238.8 120.39 L239.3 120.41 L239.8 120.42 L240.3 120.47 L240.8 120.46 L241.3 120.48 L241.8 120.42 L242.3 120.37 L242.8 120.43 L243.3 120.43 L243.8 120.37 L244.3 120.38 L244.8 120.42 L245.3 120.38 L245.8 120.41 L246.3 120.36 L246.8 120.4 L247.3 120.41 L247.8 120.4 L248.3 120.39 L248.8 120.39 L249.3 120.44 L249.8 120.47 L250.3 120.37 L250.8 120.35 L251.3 120.36 L251.8 120.38 L252.3 120.35 L252.8 120.4 L253.3 120.49 L253.8 120.42 L254.3 120.37 L254.8 120.39 L255.3 120.43 L255.8 120.45 L256.3 120.44 L256.8 120.44 L257.3 120.43 L257.8 120.42 L258.3 120.4 L258.8 120.39 L259.3 120.41 L259.8 120.4 L260.3 120.41 L260.8 120.39 L261.3 120.45 L261.8 120.44 L262.3 120.43 L262.8 120.47 L263.3 120.45 L263.8 120.44 L264.3 120.43 L264.8 120.36 L265.3 120.41 L265.8 120.36 L266.3 120.42 L266.8 120.44 L267.3 120.41 L267.8 120.37 L268.3 120.41 L268.8 120.39 L269.3 120.45 L269.8 120.42 L270.3 120.42 L270.8 120.41 L271.3 120.37 L271.8 120.33 L272.3 120.38 L272.8 120.4 L273.3 120.4 L273.8 120.38 L274.3 120.41 L274.8 120.38 L275.3 120.42 L275.8 120.42 L276.3 120.38 L276.8 120.37 L277.3 120.37 L277.8 120.37 L278.3 120.39 L278.8 120.36 L279.3 120.35 L279.8 120.33 L280.3 120.33 L280.8 120.37 L281.3 120.4 L281.8 120.32 L282.3 120.36 L282.8 120.33 L283.3 120.36 L283.8 120.39 L284.3 120.45 L284.8 120.42 L285.3 120.43 L285.8 120.39 L286.3 120.32 L286.8 120.29 L287.3 120.36 L287.8 120.33 L288.3 120.35 L288.8 120.4 L289.3 120.43 L289.8 120.39 L290.3 120.38 L290.8 120.34 L291.3 120.42 L291.8 120.37 L292.3 120.38 L292.8 120.39 L293.3 120.39 L293.8 120.43 L294.3 120.36 L294.8 120.34 L295.3 120.37 L295.8 120.38 L296.3 120.42 L296.8 120.36 L297.3 120.4 L297.8 120.37 L298.3 120.37 L298.8 120.45 L299.3 120.45 L299.8 120.38 L300.3 120.42 L300.8 120.39 L301.3 120.43 L301.8 120.44 L302.3 120.43 L302.8 120.4 L303.3 120.4 L303.8 120.32 L304.3 120.36 L304.8 120.42 L305.3 120.4 L305.8 120.36 L306.3 120.38 L306.8 120.42 L307.3 120.41 L307.8 120.34 L308.3 120.35 L308.8 120.37 L309.3 120.41 L309.8 120.35 L310.3 120.37 L310.8 120.43 L311.3 120.48 L311.8 120.4 L312.3 120.36 L312.8 120.37 L313.3 119.99 L313.8 119.5 L314.3 119.16 L314.8 118.93 L315.3 118.72 L315.8 118.55 L316.3 118.43 L316.8 118.36 L317.3 118.3 L317.8 118.28 L318.3 118.38 L318.8 118.35 L319.3 118.29 L319.8 118.27 L320.3 118.2 L320.8 118.16 L321.3 118.2 L321.8 118.24" fill="none" stroke="#D67A10" stroke-width="0.68" stroke-linejoin="round"/>
<path d="M195 118.18 L195.5 118.22 L196 118.22 L196.5 118.21 L197 118.28 L197.5 118.24 L198 118.18 L198.5 118.19 L199 118.19 L199.5 118.26 L200 118.16 L200.5 118.21 L201 118.21 L201.5 118.14 L202 118.19 L202.5 118.19 L203 118.22 L203.5 118.22 L204 118.22 L204.5 118.22 L205 118.26 L205.5 118.25 L206 118.26 L206.5 118.2 L207 118.28 L207.5 118.22 L208 118.47 L208.5 118.76 L209 118.84 L209.5 118.89 L210 118.93 L210.5 118.91 L211 118.86 L211.5 118.86 L212 118.92 L212.5 118.9 L213 118.87 L213.5 118.91 L214 118.95 L214.5 119.01 L215 118.99 L215.5 118.95 L216 118.96 L216.5 118.94 L217 118.88 L217.5 118.95 L218 118.98 L218.5 118.91 L219 118.97 L219.5 118.96 L220 118.92 L220.5 118.86 L221 118.89 L221.5 118.89 L222 118.93 L222.5 118.97 L223 118.99 L223.5 118.93 L224 118.91 L224.5 118.95 L225 118.93 L225.5 118.9 L226 118.89 L226.5 118.92 L227 118.94 L227.5 118.95 L228 118.94 L228.5 118.95 L229 118.96 L229.5 118.98 L230 119 L230.5 118.97 L231 118.94 L231.5 118.93 L232 118.94 L232.5 118.91 L233 118.97 L233.5 118.92 L234 118.92 L234.5 118.9 L235 118.89 L235.5 118.9 L236 118.96 L236.5 118.91 L237 118.88 L237.5 118.86 L238 118.84 L238.5 118.92 L239 118.86 L239.5 118.88 L240 118.91 L240.5 118.92 L241 118.97 L241.5 118.96 L242 118.92 L242.5 118.9 L243 118.92 L243.5 118.89 L244 118.88 L244.5 118.9 L245 118.89 L245.5 118.96 L246 118.93 L246.5 118.93 L247 118.89 L247.5 118.9 L248 118.91 L248.5 118.9 L249 118.91 L249.5 118.9 L250 118.94 L250.5 118.89 L251 118.91 L251.5 118.94 L252 118.92 L252.5 118.94 L253 118.93 L253.5 118.95 L254 119.05 L254.5 118.99 L255 118.97 L255.5 118.93 L256 118.9 L256.5 118.97 L257 119 L257.5 118.98 L258 118.92 L258.5 119.01 L259 119.03 L259.5 118.98 L260 118.94 L260.5 118.94 L261 118.99 L261.5 118.95 L262 118.91 L262.5 118.9 L263 118.83 L263.5 118.89 L264 118.9 L264.5 118.95 L265 118.94 L265.5 118.94 L266 118.93 L266.5 118.86 L267 118.88 L267.5 118.9 L268 118.94 L268.5 118.95 L269 118.9 L269.5 118.9 L270 118.91 L270.5 118.96 L271 118.92 L271.5 118.85 L272 118.85 L272.5 118.86 L273 118.93 L273.5 118.94 L274 118.88 L274.5 118.92 L275 118.97 L275.5 118.96 L276 118.9 L276.5 118.96 L277 118.96 L277.5 118.91 L278 118.98 L278.5 118.96 L279 118.86 L279.5 118.89 L280 118.89 L280.5 118.92 L281 118.93 L281.5 118.89 L282 118.91 L282.5 118.93 L283 118.92 L283.5 118.91 L284 118.87 L284.5 118.88 L285 118.87 L285.5 118.88 L286 118.87 L286.5 118.82 L287 118.87 L287.5 118.86 L288 118.87 L288.5 118.85 L289 118.87 L289.5 118.87 L290 118.94 L290.5 118.86 L291 118.84 L291.5 118.86 L292 118.84 L292.5 118.85 L293 118.96 L293.5 118.95 L294 118.93 L294.5 118.94 L295 118.95 L295.5 118.94 L296 118.93 L296.5 118.91 L297 118.95 L297.5 118.96 L298 118.94 L298.5 118.93 L299 118.88 L299.5 118.86 L300 118.82 L300.5 118.85 L301 118.92 L301.5 118.96 L302 118.93 L302.5 118.91 L303 118.93 L303.5 118.95 L304 118.9 L304.5 118.9 L305 118.93 L305.5 118.94 L306 118.95 L306.5 118.97 L307 118.95 L307.5 118.92 L308 118.86 L308.5 118.85 L309 118.9 L309.5 118.96 L310 118.97 L310.5 118.93 L311 118.86 L311.5 118.91 L312 118.87 L312.5 118.88 L313 118.94 L313.5 118.72 L314 118.56 L314.5 118.49 L315 118.39 L315.5 118.37 L316 118.39 L316.5 118.32 L317 118.34 L317.5 118.26 L318 118.25 L318.5 118.22 L319 118.13 L319.5 118.15 L320 118.2 L320.5 118.19 L321 118.15 L321.5 118.19 L322 118.17 L322.5 118.21 L323 118.24 L323.5 118.24 L324 118.22 L324.5 118.21 L325 118.27 L325.5 118.31" fill="none" stroke="#D67A10" stroke-width="0.68" stroke-linejoin="round"/>
<path d="M207.3 118.21 L207.8 118.13 L208.3 117.41 L208.8 117.08 L209.3 117.02 L209.8 116.91 L210.3 116.95 L210.8 116.93 L211.3 116.91 L211.8 116.96 L212.3 116.93 L212.8 116.96 L213.3 116.98 L213.8 116.93 L214.3 116.92 L214.8 116.95 L215.3 116.85 L215.8 116.91 L216.3 116.9 L216.8 116.93 L217.3 116.91 L217.8 116.89 L218.3 116.82 L218.8 116.8 L219.3 116.81 L219.8 116.85 L220.3 116.83 L220.8 116.86 L221.3 116.89 L221.8 116.91 L222.3 116.92 L222.8 116.94 L223.3 116.9 L223.8 116.91 L224.3 116.91 L224.8 116.92 L225.3 116.85 L225.8 116.85 L226.3 116.83 L226.8 116.83 L227.3 116.85 L227.8 116.85 L228.3 116.86 L228.8 116.84 L229.3 116.82 L229.8 116.84 L230.3 116.83 L230.8 116.86 L231.3 116.88 L231.8 116.91 L232.3 116.87 L232.8 116.88 L233.3 116.88 L233.8 116.89 L234.3 116.85 L234.8 116.93 L235.3 116.92 L235.8 116.96 L236.3 116.9 L236.8 116.9 L237.3 116.93 L237.8 116.92 L238.3 116.91 L238.8 116.89 L239.3 116.96 L239.8 116.96 L240.3 116.93 L240.8 116.92 L241.3 116.88 L241.8 116.91 L242.3 116.91 L242.8 116.89 L243.3 116.91 L243.8 116.99 L244.3 116.95 L244.8 116.91 L245.3 116.89 L245.8 116.92 L246.3 116.89 L246.8 116.85 L247.3 116.91 L247.8 116.85 L248.3 116.81 L248.8 116.84 L249.3 116.86 L249.8 116.82 L250.3 116.79 L250.8 116.84 L251.3 116.85 L251.8 116.79 L252.3 116.89 L252.8 116.94 L253.3 116.98 L253.8 116.95 L254.3 116.9 L254.8 116.88 L255.3 116.93 L255.8 116.91 L256.3 116.85 L256.8 116.9 L257.3 116.93 L257.8 116.89 L258.3 116.86 L258.8 116.9 L259.3 116.85 L259.8 116.88 L260.3 116.88 L260.8 116.92 L261.3 116.88 L261.8 116.88 L262.3 116.86 L262.8 116.93 L263.3 116.94 L263.8 116.89 L264.3 116.87 L264.8 116.89 L265.3 116.89 L265.8 116.91 L266.3 116.87 L266.8 116.86 L267.3 116.94 L267.8 116.97 L268.3 116.91 L268.8 116.97 L269.3 116.99 L269.8 116.88 L270.3 116.9 L270.8 116.93 L271.3 116.92 L271.8 116.91 L272.3 116.95 L272.8 116.94 L273.3 116.85 L273.8 116.87 L274.3 116.89 L274.8 116.85 L275.3 116.91 L275.8 116.91 L276.3 116.85 L276.8 116.86 L277.3 116.85 L277.8 116.89 L278.3 116.87 L278.8 116.86 L279.3 116.93 L279.8 116.9 L280.3 116.88 L280.8 116.89 L281.3 116.87 L281.8 116.91 L282.3 116.86 L282.8 116.86 L283.3 116.94 L283.8 116.86 L284.3 116.84 L284.8 116.87 L285.3 116.8 L285.8 116.76 L286.3 116.79 L286.8 116.87 L287.3 116.89 L287.8 116.87 L288.3 116.84 L288.8 116.95 L289.3 116.95 L289.8 116.89 L290.3 116.95 L290.8 116.98 L291.3 116.92 L291.8 116.85 L292.3 116.95 L292.8 116.92 L293.3 116.9 L293.8 116.91 L294.3 116.89 L294.8 116.94 L295.3 116.9 L295.8 116.9 L296.3 116.92 L296.8 116.96 L297.3 116.91 L297.8 116.89 L298.3 116.94 L298.8 116.92 L299.3 116.95 L299.8 116.94 L300.3 116.93 L300.8 116.89 L301.3 116.89 L301.8 116.89 L302.3 116.87 L302.8 116.95 L303.3 116.88 L303.8 116.86 L304.3 116.89 L304.8 116.93 L305.3 116.89 L305.8 116.89 L306.3 116.87 L306.8 116.85 L307.3 116.91 L307.8 116.91 L308.3 116.89 L308.8 116.9 L309.3 116.93 L309.8 116.97 L310.3 116.95 L310.8 116.94 L311.3 116.95 L311.8 116.96 L312.3 116.96 L312.8 116.89 L313.3 117.11 L313.8 117.38 L314.3 117.66 L314.8 117.8 L315.3 117.87 L315.8 118.01 L316.3 118.04 L316.8 118.09 L317.3 118.12 L317.8 118.15 L318.3 118.2 L318.8 118.17 L319.3 118.15 L319.8 118.2 L320.3 118.19 L320.8 118.2 L321.3 118.23 L321.8 118.19" fill="none" stroke="#D67A10" stroke-width="0.68" stroke-linejoin="round"/>
<path d="M207.3 118.24 L207.8 118.21 L208.3 116.8 L208.8 116.06 L209.3 115.77 L209.8 115.57 L210.3 115.47 L210.8 115.37 L211.3 115.39 L211.8 115.31 L212.3 115.29 L212.8 115.34 L213.3 115.36 L213.8 115.33 L214.3 115.34 L214.8 115.32 L215.3 115.27 L215.8 115.32 L216.3 115.31 L216.8 115.34 L217.3 115.35 L217.8 115.3 L218.3 115.31 L218.8 115.28 L219.3 115.3 L219.8 115.33 L220.3 115.35 L220.8 115.42 L221.3 115.36 L221.8 115.38 L222.3 115.38 L222.8 115.38 L223.3 115.32 L223.8 115.33 L224.3 115.34 L224.8 115.33 L225.3 115.33 L225.8 115.29 L226.3 115.3 L226.8 115.32 L227.3 115.31 L227.8 115.33 L228.3 115.37 L228.8 115.35 L229.3 115.32 L229.8 115.33 L230.3 115.31 L230.8 115.29 L231.3 115.29 L231.8 115.36 L232.3 115.36 L232.8 115.36 L233.3 115.37 L233.8 115.29 L234.3 115.31 L234.8 115.33 L235.3 115.31 L235.8 115.28 L236.3 115.31 L236.8 115.3 L237.3 115.34 L237.8 115.31 L238.3 115.31 L238.8 115.35 L239.3 115.36 L239.8 115.38 L240.3 115.34 L240.8 115.4 L241.3 115.33 L241.8 115.3 L242.3 115.3 L242.8 115.35 L243.3 115.35 L243.8 115.4 L244.3 115.39 L244.8 115.38 L245.3 115.32 L245.8 115.31 L246.3 115.31 L246.8 115.27 L247.3 115.26 L247.8 115.24 L248.3 115.25 L248.8 115.3 L249.3 115.32 L249.8 115.32 L250.3 115.33 L250.8 115.29 L251.3 115.29 L251.8 115.28 L252.3 115.26 L252.8 115.26 L253.3 115.25 L253.8 115.27 L254.3 115.31 L254.8 115.32 L255.3 115.31 L255.8 115.33 L256.3 115.31 L256.8 115.28 L257.3 115.22 L257.8 115.3 L258.3 115.31 L258.8 115.23 L259.3 115.27 L259.8 115.27 L260.3 115.28 L260.8 115.3 L261.3 115.28 L261.8 115.24 L262.3 115.24 L262.8 115.29 L263.3 115.27 L263.8 115.23 L264.3 115.26 L264.8 115.34 L265.3 115.3 L265.8 115.34 L266.3 115.33 L266.8 115.33 L267.3 115.37 L267.8 115.31 L268.3 115.3 L268.8 115.29 L269.3 115.32 L269.8 115.31 L270.3 115.32 L270.8 115.34 L271.3 115.32 L271.8 115.32 L272.3 115.29 L272.8 115.34 L273.3 115.35 L273.8 115.39 L274.3 115.31 L274.8 115.28 L275.3 115.29 L275.8 115.33 L276.3 115.3 L276.8 115.27 L277.3 115.35 L277.8 115.33 L278.3 115.32 L278.8 115.29 L279.3 115.36 L279.8 115.35 L280.3 115.32 L280.8 115.31 L281.3 115.3 L281.8 115.32 L282.3 115.32 L282.8 115.29 L283.3 115.34 L283.8 115.3 L284.3 115.34 L284.8 115.35 L285.3 115.29 L285.8 115.33 L286.3 115.33 L286.8 115.29 L287.3 115.37 L287.8 115.39 L288.3 115.28 L288.8 115.32 L289.3 115.29 L289.8 115.24 L290.3 115.29 L290.8 115.25 L291.3 115.26 L291.8 115.28 L292.3 115.28 L292.8 115.25 L293.3 115.19 L293.8 115.23 L294.3 115.3 L294.8 115.34 L295.3 115.38 L295.8 115.36 L296.3 115.35 L296.8 115.3 L297.3 115.21 L297.8 115.22 L298.3 115.22 L298.8 115.22 L299.3 115.25 L299.8 115.28 L300.3 115.27 L300.8 115.31 L301.3 115.31 L301.8 115.34 L302.3 115.36 L302.8 115.38 L303.3 115.33 L303.8 115.3 L304.3 115.3 L304.8 115.34 L305.3 115.25 L305.8 115.3 L306.3 115.28 L306.8 115.31 L307.3 115.32 L307.8 115.3 L308.3 115.27 L308.8 115.27 L309.3 115.3 L309.8 115.26 L310.3 115.28 L310.8 115.26 L311.3 115.26 L311.8 115.23 L312.3 115.2 L312.8 115.26 L313.3 115.74 L313.8 116.34 L314.3 116.8 L314.8 117.18 L315.3 117.44 L315.8 117.64 L316.3 117.77 L316.8 117.9 L317.3 117.96 L317.8 117.98 L318.3 118.06 L318.8 118.12 L319.3 118.1 L319.8 118.14 L320.3 118.16 L320.8 118.18 L321.3 118.29 L321.8 118.26" fill="none" stroke="#D67A10" stroke-width="0.68" stroke-linejoin="round"/>
<path d="M207.3 118.2 L207.8 118.19 L208.3 116.26 L208.8 115.1 L209.3 114.52 L209.8 114.2 L210.3 113.99 L210.8 113.91 L211.3 113.87 L211.8 113.88 L212.3 113.93 L212.8 113.88 L213.3 113.82 L213.8 113.77 L214.3 113.83 L214.8 113.8 L215.3 113.8 L215.8 113.83 L216.3 113.82 L216.8 113.82 L217.3 113.82 L217.8 113.75 L218.3 113.76 L218.8 113.8 L219.3 113.76 L219.8 113.72 L220.3 113.77 L220.8 113.77 L221.3 113.8 L221.8 113.73 L222.3 113.76 L222.8 113.74 L223.3 113.79 L223.8 113.86 L224.3 113.82 L224.8 113.84 L225.3 113.79 L225.8 113.79 L226.3 113.8 L226.8 113.78 L227.3 113.83 L227.8 113.83 L228.3 113.77 L228.8 113.74 L229.3 113.74 L229.8 113.69 L230.3 113.77 L230.8 113.77 L231.3 113.76 L231.8 113.78 L232.3 113.77 L232.8 113.83 L233.3 113.86 L233.8 113.86 L234.3 113.86 L234.8 113.87 L235.3 113.86 L235.8 113.83 L236.3 113.85 L236.8 113.84 L237.3 113.85 L237.8 113.88 L238.3 113.91 L238.8 113.87 L239.3 113.88 L239.8 113.8 L240.3 113.77 L240.8 113.8 L241.3 113.78 L241.8 113.75 L242.3 113.74 L242.8 113.78 L243.3 113.74 L243.8 113.78 L244.3 113.82 L244.8 113.75 L245.3 113.78 L245.8 113.82 L246.3 113.77 L246.8 113.8 L247.3 113.78 L247.8 113.81 L248.3 113.83 L248.8 113.84 L249.3 113.73 L249.8 113.78 L250.3 113.85 L250.8 113.79 L251.3 113.88 L251.8 113.84 L252.3 113.77 L252.8 113.74 L253.3 113.81 L253.8 113.83 L254.3 113.79 L254.8 113.78 L255.3 113.71 L255.8 113.71 L256.3 113.69 L256.8 113.74 L257.3 113.76 L257.8 113.8 L258.3 113.81 L258.8 113.8 L259.3 113.82 L259.8 113.86 L260.3 113.82 L260.8 113.82 L261.3 113.79 L261.8 113.77 L262.3 113.75 L262.8 113.75 L263.3 113.73 L263.8 113.75 L264.3 113.75 L264.8 113.78 L265.3 113.82 L265.8 113.88 L266.3 113.83 L266.8 113.81 L267.3 113.83 L267.8 113.79 L268.3 113.83 L268.8 113.84 L269.3 113.83 L269.8 113.86 L270.3 113.81 L270.8 113.8 L271.3 113.78 L271.8 113.78 L272.3 113.74 L272.8 113.76 L273.3 113.81 L273.8 113.82 L274.3 113.85 L274.8 113.85 L275.3 113.86 L275.8 113.8 L276.3 113.79 L276.8 113.73 L277.3 113.84 L277.8 113.9 L278.3 113.85 L278.8 113.82 L279.3 113.83 L279.8 113.79 L280.3 113.83 L280.8 113.9 L281.3 113.8 L281.8 113.78 L282.3 113.83 L282.8 113.86 L283.3 113.86 L283.8 113.85 L284.3 113.82 L284.8 113.82 L285.3 113.79 L285.8 113.78 L286.3 113.77 L286.8 113.84 L287.3 113.76 L287.8 113.81 L288.3 113.75 L288.8 113.72 L289.3 113.68 L289.8 113.7 L290.3 113.75 L290.8 113.76 L291.3 113.77 L291.8 113.75 L292.3 113.78 L292.8 113.73 L293.3 113.77 L293.8 113.76 L294.3 113.74 L294.8 113.8 L295.3 113.86 L295.8 113.82 L296.3 113.86 L296.8 113.85 L297.3 113.86 L297.8 113.86 L298.3 113.84 L298.8 113.81 L299.3 113.85 L299.8 113.81 L300.3 113.8 L300.8 113.83 L301.3 113.75 L301.8 113.79 L302.3 113.78 L302.8 113.78 L303.3 113.8 L303.8 113.81 L304.3 113.81 L304.8 113.78 L305.3 113.76 L305.8 113.77 L306.3 113.77 L306.8 113.75 L307.3 113.81 L307.8 113.86 L308.3 113.79 L308.8 113.78 L309.3 113.82 L309.8 113.73 L310.3 113.79 L310.8 113.8 L311.3 113.82 L311.8 113.85 L312.3 113.87 L312.8 113.8 L313.3 114.49 L313.8 115.38 L314.3 116.08 L314.8 116.53 L315.3 116.91 L315.8 117.25 L316.3 117.52 L316.8 117.73 L317.3 117.78 L317.8 117.92 L318.3 117.97 L318.8 118.02 L319.3 118.05 L319.8 118.11 L320.3 118.17 L320.8 118.14 L321.3 118.17 L321.8 118.18" fill="none" stroke="#D67A10" stroke-width="0.68" stroke-linejoin="round"/>
<path d="M207.3 118.17 L207.8 118.52 L208.3 116.1 L208.8 114.63 L209.3 113.76 L209.8 113.23 L210.3 112.87 L210.8 112.67 L211.3 112.6 L211.8 112.52 L212.3 112.48 L212.8 112.44 L213.3 112.45 L213.8 112.47 L214.3 112.43 L214.8 112.44 L215.3 112.39 L215.8 112.39 L216.3 112.34 L216.8 112.34 L217.3 112.46 L217.8 112.4 L218.3 112.43 L218.8 112.42 L219.3 112.41 L219.8 112.32 L220.3 112.35 L220.8 112.31 L221.3 112.31 L221.8 112.3 L222.3 112.31 L222.8 112.39 L223.3 112.44 L223.8 112.35 L224.3 112.34 L224.8 112.32 L225.3 112.34 L225.8 112.28 L226.3 112.26 L226.8 112.29 L227.3 112.29 L227.8 112.35 L228.3 112.33 L228.8 112.34 L229.3 112.33 L229.8 112.36 L230.3 112.39 L230.8 112.37 L231.3 112.34 L231.8 112.35 L232.3 112.35 L232.8 112.37 L233.3 112.36 L233.8 112.35 L234.3 112.37 L234.8 112.32 L235.3 112.28 L235.8 112.31 L236.3 112.31 L236.8 112.33 L237.3 112.35 L237.8 112.35 L238.3 112.32 L238.8 112.37 L239.3 112.27 L239.8 112.26 L240.3 112.24 L240.8 112.33 L241.3 112.31 L241.8 112.3 L242.3 112.32 L242.8 112.35 L243.3 112.37 L243.8 112.34 L244.3 112.33 L244.8 112.28 L245.3 112.29 L245.8 112.28 L246.3 112.21 L246.8 112.25 L247.3 112.26 L247.8 112.3 L248.3 112.31 L248.8 112.3 L249.3 112.29 L249.8 112.34 L250.3 112.32 L250.8 112.34 L251.3 112.33 L251.8 112.35 L252.3 112.35 L252.8 112.28 L253.3 112.3 L253.8 112.34 L254.3 112.36 L254.8 112.31 L255.3 112.35 L255.8 112.34 L256.3 112.33 L256.8 112.28 L257.3 112.29 L257.8 112.29 L258.3 112.21 L258.8 112.21 L259.3 112.18 L259.8 112.15 L260.3 112.2 L260.8 112.25 L261.3 112.25 L261.8 112.2 L262.3 112.17 L262.8 112.23 L263.3 112.23 L263.8 112.24 L264.3 112.23 L264.8 112.24 L265.3 112.22 L265.8 112.2 L266.3 112.17 L266.8 112.19 L267.3 112.21 L267.8 112.25 L268.3 112.32 L268.8 112.29 L269.3 112.17 L269.8 112.15 L270.3 112.22 L270.8 112.24 L271.3 112.23 L271.8 112.19 L272.3 112.22 L272.8 112.23 L273.3 112.26 L273.8 112.29 L274.3 112.31 L274.8 112.3 L275.3 112.23 L275.8 112.24 L276.3 112.19 L276.8 112.17 L277.3 112.16 L277.8 112.13 L278.3 112.13 L278.8 112.21 L279.3 112.2 L279.8 112.25 L280.3 112.23 L280.8 112.16 L281.3 112.15 L281.8 112.22 L282.3 112.24 L282.8 112.22 L283.3 112.2 L283.8 112.23 L284.3 112.23 L284.8 112.2 L285.3 112.23 L285.8 112.21 L286.3 112.16 L286.8 112.12 L287.3 112.07 L287.8 112.19 L288.3 112.19 L288.8 112.24 L289.3 112.22 L289.8 112.2 L290.3 112.19 L290.8 112.19 L291.3 112.13 L291.8 112.14 L292.3 112.18 L292.8 112.25 L293.3 112.2 L293.8 112.19 L294.3 112.2 L294.8 112.23 L295.3 112.22 L295.8 112.18 L296.3 112.23 L296.8 112.2 L297.3 112.18 L297.8 112.27 L298.3 112.17 L298.8 112.16 L299.3 112.11 L299.8 112.17 L300.3 112.13 L300.8 112.14 L301.3 112.15 L301.8 112.13 L302.3 112.13 L302.8 112.12 L303.3 112.1 L303.8 112.08 L304.3 112.11 L304.8 112.1 L305.3 112.08 L305.8 112.08 L306.3 112.17 L306.8 112.11 L307.3 112.09 L307.8 112.08 L308.3 112.09 L308.8 112.13 L309.3 112.1 L309.8 112.11 L310.3 112.13 L310.8 112.17 L311.3 112.13 L311.8 112.09 L312.3 112.12 L312.8 112.11 L313.3 112.98 L313.8 114.18 L314.3 115.15 L314.8 115.8 L315.3 116.35 L315.8 116.84 L316.3 117.16 L316.8 117.37 L317.3 117.54 L317.8 117.73 L318.3 117.85 L318.8 117.91 L319.3 117.96 L319.8 117.98 L320.3 117.99 L320.8 118.07 L321.3 118.12 L321.8 118.12" fill="none" stroke="#D67A10" stroke-width="0.68" stroke-linejoin="round"/>
<path d="M207.3 118.22 L207.8 118.57 L208.3 115.85 L208.8 114.03 L209.3 112.96 L209.8 112.31 L210.3 111.85 L210.8 111.53 L211.3 111.34 L211.8 111.21 L212.3 111.12 L212.8 111.06 L213.3 111.04 L213.8 111 L214.3 110.98 L214.8 110.95 L215.3 110.98 L215.8 111.01 L216.3 111.01 L216.8 111 L217.3 111.03 L217.8 110.97 L218.3 111.03 L218.8 110.93 L219.3 110.95 L219.8 110.95 L220.3 110.96 L220.8 110.9 L221.3 110.95 L221.8 110.95 L222.3 110.94 L222.8 110.97 L223.3 110.96 L223.8 110.95 L224.3 110.97 L224.8 110.94 L225.3 110.94 L225.8 110.92 L226.3 110.9 L226.8 110.9 L227.3 110.88 L227.8 110.9 L228.3 110.89 L228.8 110.88 L229.3 110.88 L229.8 110.85 L230.3 110.89 L230.8 110.91 L231.3 110.83 L231.8 110.85 L232.3 110.85 L232.8 110.89 L233.3 110.96 L233.8 110.91 L234.3 110.9 L234.8 110.86 L235.3 110.88 L235.8 110.9 L236.3 110.9 L236.8 110.89 L237.3 110.85 L237.8 110.85 L238.3 110.83 L238.8 110.83 L239.3 110.9 L239.8 110.89 L240.3 110.85 L240.8 110.82 L241.3 110.78 L241.8 110.79 L242.3 110.89 L242.8 110.87 L243.3 110.85 L243.8 110.82 L244.3 110.81 L244.8 110.86 L245.3 110.89 L245.8 110.86 L246.3 110.83 L246.8 110.85 L247.3 110.92 L247.8 110.99 L248.3 110.97 L248.8 110.92 L249.3 110.9 L249.8 110.86 L250.3 110.82 L250.8 110.8 L251.3 110.81 L251.8 110.84 L252.3 110.88 L252.8 110.9 L253.3 110.88 L253.8 110.78 L254.3 110.84 L254.8 110.84 L255.3 110.81 L255.8 110.85 L256.3 110.8 L256.8 110.79 L257.3 110.8 L257.8 110.8 L258.3 110.79 L258.8 110.73 L259.3 110.7 L259.8 110.74 L260.3 110.78 L260.8 110.78 L261.3 110.74 L261.8 110.72 L262.3 110.7 L262.8 110.77 L263.3 110.74 L263.8 110.78 L264.3 110.74 L264.8 110.72 L265.3 110.72 L265.8 110.78 L266.3 110.75 L266.8 110.75 L267.3 110.73 L267.8 110.73 L268.3 110.77 L268.8 110.74 L269.3 110.74 L269.8 110.7 L270.3 110.7 L270.8 110.72 L271.3 110.78 L271.8 110.83 L272.3 110.75 L272.8 110.74 L273.3 110.68 L273.8 110.69 L274.3 110.71 L274.8 110.74 L275.3 110.76 L275.8 110.71 L276.3 110.68 L276.8 110.65 L277.3 110.73 L277.8 110.69 L278.3 110.73 L278.8 110.74 L279.3 110.76 L279.8 110.69 L280.3 110.71 L280.8 110.73 L281.3 110.72 L281.8 110.73 L282.3 110.68 L282.8 110.74 L283.3 110.69 L283.8 110.69 L284.3 110.72 L284.8 110.73 L285.3 110.77 L285.8 110.74 L286.3 110.68 L286.8 110.7 L287.3 110.71 L287.8 110.65 L288.3 110.69 L288.8 110.73 L289.3 110.68 L289.8 110.71 L290.3 110.7 L290.8 110.73 L291.3 110.69 L291.8 110.71 L292.3 110.72 L292.8 110.7 L293.3 110.68 L293.8 110.67 L294.3 110.69 L294.8 110.73 L295.3 110.7 L295.8 110.71 L296.3 110.69 L296.8 110.75 L297.3 110.75 L297.8 110.74 L298.3 110.72 L298.8 110.67 L299.3 110.61 L299.8 110.65 L300.3 110.62 L300.8 110.61 L301.3 110.66 L301.8 110.66 L302.3 110.61 L302.8 110.66 L303.3 110.64 L303.8 110.67 L304.3 110.62 L304.8 110.57 L305.3 110.57 L305.8 110.62 L306.3 110.55 L306.8 110.54 L307.3 110.6 L307.8 110.7 L308.3 110.66 L308.8 110.61 L309.3 110.59 L309.8 110.57 L310.3 110.64 L310.8 110.65 L311.3 110.6 L311.8 110.63 L312.3 110.54 L312.8 110.57 L313.3 111.65 L313.8 113.11 L314.3 114.21 L314.8 115.09 L315.3 115.73 L315.8 116.31 L316.3 116.71 L316.8 117.07 L317.3 117.35 L317.8 117.52 L318.3 117.63 L318.8 117.77 L319.3 117.89 L319.8 117.91 L320.3 117.98 L320.8 118 L321.3 118.11 L321.8 118.14" fill="none" stroke="#D67A10" stroke-width="0.68" stroke-linejoin="round"/>
<path d="M207.3 118.14 L207.8 118.61 L208.3 115.57 L208.8 113.53 L209.3 112.18 L209.8 111.29 L210.3 110.68 L210.8 110.26 L211.3 110.04 L211.8 109.87 L212.3 109.71 L212.8 109.61 L213.3 109.53 L213.8 109.45 L214.3 109.43 L214.8 109.43 L215.3 109.42 L215.8 109.39 L216.3 109.29 L216.8 109.28 L217.3 109.36 L217.8 109.32 L218.3 109.38 L218.8 109.41 L219.3 109.41 L219.8 109.41 L220.3 109.43 L220.8 109.42 L221.3 109.41 L221.8 109.43 L222.3 109.41 L222.8 109.47 L223.3 109.4 L223.8 109.38 L224.3 109.37 L224.8 109.38 L225.3 109.36 L225.8 109.43 L226.3 109.43 L226.8 109.34 L227.3 109.35 L227.8 109.38 L228.3 109.42 L228.8 109.41 L229.3 109.36 L229.8 109.39 L230.3 109.33 L230.8 109.34 L231.3 109.31 L231.8 109.37 L232.3 109.39 L232.8 109.45 L233.3 109.39 L233.8 109.37 L234.3 109.34 L234.8 109.38 L235.3 109.32 L235.8 109.35 L236.3 109.33 L236.8 109.36 L237.3 109.35 L237.8 109.31 L238.3 109.3 L238.8 109.25 L239.3 109.24 L239.8 109.25 L240.3 109.31 L240.8 109.3 L241.3 109.31 L241.8 109.3 L242.3 109.26 L242.8 109.3 L243.3 109.36 L243.8 109.36 L244.3 109.38 L244.8 109.36 L245.3 109.37 L245.8 109.41 L246.3 109.3 L246.8 109.27 L247.3 109.22 L247.8 109.25 L248.3 109.25 L248.8 109.23 L249.3 109.27 L249.8 109.33 L250.3 109.36 L250.8 109.38 L251.3 109.34 L251.8 109.33 L252.3 109.35 L252.8 109.35 L253.3 109.35 L253.8 109.3 L254.3 109.27 L254.8 109.24 L255.3 109.29 L255.8 109.24 L256.3 109.25 L256.8 109.26 L257.3 109.25 L257.8 109.23 L258.3 109.25 L258.8 109.22 L259.3 109.23 L259.8 109.27 L260.3 109.24 L260.8 109.27 L261.3 109.3 L261.8 109.33 L262.3 109.25 L262.8 109.3 L263.3 109.3 L263.8 109.32 L264.3 109.31 L264.8 109.26 L265.3 109.27 L265.8 109.25 L266.3 109.22 L266.8 109.19 L267.3 109.18 L267.8 109.18 L268.3 109.13 L268.8 109.17 L269.3 109.13 L269.8 109.17 L270.3 109.23 L270.8 109.25 L271.3 109.28 L271.8 109.29 L272.3 109.33 L272.8 109.26 L273.3 109.2 L273.8 109.18 L274.3 109.14 L274.8 109.2 L275.3 109.1 L275.8 109.13 L276.3 109.17 L276.8 109.19 L277.3 109.2 L277.8 109.15 L278.3 109.13 L278.8 109.13 L279.3 109.16 L279.8 109.17 L280.3 109.21 L280.8 109.14 L281.3 109.15 L281.8 109.22 L282.3 109.23 L282.8 109.2 L283.3 109.2 L283.8 109.16 L284.3 109.2 L284.8 109.15 L285.3 109.17 L285.8 109.16 L286.3 109.11 L286.8 109.12 L287.3 109.12 L287.8 109.09 L288.3 109.1 L288.8 109.07 L289.3 109.13 L289.8 109.13 L290.3 109.15 L290.8 109.16 L291.3 109.14 L291.8 109.07 L292.3 109.07 L292.8 109.08 L293.3 109.06 L293.8 109.07 L294.3 109.06 L294.8 109.05 L295.3 109.03 L295.8 109.03 L296.3 109.01 L296.8 109.07 L297.3 109.08 L297.8 109.09 L298.3 109.11 L298.8 109.08 L299.3 109.11 L299.8 109.03 L300.3 109.02 L300.8 109.03 L301.3 109.1 L301.8 109.12 L302.3 109.12 L302.8 109.12 L303.3 109.07 L303.8 109.05 L304.3 109.02 L304.8 109.03 L305.3 108.99 L305.8 109 L306.3 108.99 L306.8 109.02 L307.3 109 L307.8 109.02 L308.3 109.04 L308.8 109.05 L309.3 109.06 L309.8 109.01 L310.3 109.02 L310.8 109.01 L311.3 109.04 L311.8 109.01 L312.3 109.02 L312.8 108.97 L313.3 110.22 L313.8 111.92 L314.3 113.28 L314.8 114.33 L315.3 115.17 L315.8 115.83 L316.3 116.31 L316.8 116.75 L317.3 117.04 L317.8 117.37 L318.3 117.57 L318.8 117.72 L319.3 117.81 L319.8 117.94 L320.3 117.99 L320.8 117.97 L321.3 118.05 L321.8 118.09" fill="none" stroke="#D67A10" stroke-width="0.68" stroke-linejoin="round"/>
<path d="M207.3 118.12 L207.8 118.63 L208.3 115.4 L208.8 113.11 L209.3 111.5 L209.8 110.34 L210.3 109.57 L210.8 109.12 L211.3 108.67 L211.8 108.46 L212.3 108.38 L212.8 108.23 L213.3 108.1 L213.8 108.06 L214.3 108.03 L214.8 108 L215.3 107.96 L215.8 107.89 L216.3 107.91 L216.8 107.93 L217.3 107.93 L217.8 107.93 L218.3 107.92 L218.8 107.93 L219.3 108.03 L219.8 107.95 L220.3 107.93 L220.8 107.87 L221.3 107.81 L221.8 107.83 L222.3 107.89 L222.8 107.85 L223.3 107.84 L223.8 107.83 L224.3 107.79 L224.8 107.76 L225.3 107.8 L225.8 107.8 L226.3 107.81 L226.8 107.79 L227.3 107.86 L227.8 107.92 L228.3 107.86 L228.8 107.8 L229.3 107.85 L229.8 107.89 L230.3 107.93 L230.8 107.86 L231.3 107.84 L231.8 107.76 L232.3 107.8 L232.8 107.76 L233.3 107.72 L233.8 107.78 L234.3 107.8 L234.8 107.73 L235.3 107.73 L235.8 107.84 L236.3 107.74 L236.8 107.74 L237.3 107.83 L237.8 107.87 L238.3 107.84 L238.8 107.79 L239.3 107.8 L239.8 107.77 L240.3 107.78 L240.8 107.81 L241.3 107.8 L241.8 107.82 L242.3 107.84 L242.8 107.78 L243.3 107.76 L243.8 107.72 L244.3 107.75 L244.8 107.69 L245.3 107.67 L245.8 107.63 L246.3 107.69 L246.8 107.67 L247.3 107.74 L247.8 107.76 L248.3 107.77 L248.8 107.72 L249.3 107.67 L249.8 107.65 L250.3 107.68 L250.8 107.69 L251.3 107.69 L251.8 107.7 L252.3 107.75 L252.8 107.77 L253.3 107.7 L253.8 107.73 L254.3 107.68 L254.8 107.7 L255.3 107.7 L255.8 107.73 L256.3 107.74 L256.8 107.68 L257.3 107.68 L257.8 107.69 L258.3 107.68 L258.8 107.73 L259.3 107.66 L259.8 107.68 L260.3 107.68 L260.8 107.66 L261.3 107.66 L261.8 107.65 L262.3 107.66 L262.8 107.64 L263.3 107.63 L263.8 107.73 L264.3 107.68 L264.8 107.68 L265.3 107.7 L265.8 107.65 L266.3 107.67 L266.8 107.63 L267.3 107.55 L267.8 107.58 L268.3 107.49 L268.8 107.54 L269.3 107.6 L269.8 107.67 L270.3 107.67 L270.8 107.68 L271.3 107.68 L271.8 107.65 L272.3 107.67 L272.8 107.63 L273.3 107.63 L273.8 107.59 L274.3 107.58 L274.8 107.6 L275.3 107.53 L275.8 107.53 L276.3 107.52 L276.8 107.54 L277.3 107.62 L277.8 107.57 L278.3 107.57 L278.8 107.56 L279.3 107.53 L279.8 107.52 L280.3 107.57 L280.8 107.56 L281.3 107.53 L281.8 107.5 L282.3 107.49 L282.8 107.55 L283.3 107.51 L283.8 107.46 L284.3 107.46 L284.8 107.49 L285.3 107.52 L285.8 107.53 L286.3 107.56 L286.8 107.5 L287.3 107.48 L287.8 107.48 L288.3 107.5 L288.8 107.43 L289.3 107.46 L289.8 107.42 L290.3 107.49 L290.8 107.5 L291.3 107.56 L291.8 107.6 L292.3 107.58 L292.8 107.54 L293.3 107.48 L293.8 107.46 L294.3 107.51 L294.8 107.51 L295.3 107.5 L295.8 107.44 L296.3 107.45 L296.8 107.52 L297.3 107.49 L297.8 107.53 L298.3 107.42 L298.8 107.49 L299.3 107.44 L299.8 107.4 L300.3 107.41 L300.8 107.4 L301.3 107.47 L301.8 107.45 L302.3 107.44 L302.8 107.42 L303.3 107.45 L303.8 107.49 L304.3 107.5 L304.8 107.42 L305.3 107.41 L305.8 107.44 L306.3 107.36 L306.8 107.38 L307.3 107.43 L307.8 107.48 L308.3 107.47 L308.8 107.47 L309.3 107.48 L309.8 107.46 L310.3 107.37 L310.8 107.45 L311.3 107.45 L311.8 107.43 L312.3 107.39 L312.8 107.47 L313.3 108.86 L313.8 110.83 L314.3 112.34 L314.8 113.56 L315.3 114.52 L315.8 115.32 L316.3 115.85 L316.8 116.4 L317.3 116.77 L317.8 117.09 L318.3 117.35 L318.8 117.49 L319.3 117.66 L319.8 117.73 L320.3 117.84 L320.8 117.88 L321.3 117.99 L321.8 118.08" fill="none" stroke="#D67A10" stroke-width="0.68" stroke-linejoin="round"/>
<path d="M207.3 118.16 L207.8 118.81 L208.3 115.21 L208.8 112.6 L209.3 110.79 L209.8 109.53 L210.3 108.62 L210.8 107.91 L211.3 107.41 L211.8 107.12 L212.3 106.85 L212.8 106.72 L213.3 106.62 L213.8 106.5 L214.3 106.37 L214.8 106.3 L215.3 106.29 L215.8 106.25 L216.3 106.23 L216.8 106.22 L217.3 106.15 L217.8 106.14 L218.3 106.14 L218.8 106.11 L219.3 106.14 L219.8 106.13 L220.3 106.12 L220.8 106.18 L221.3 106.21 L221.8 106.18 L222.3 106.14 L222.8 106.08 L223.3 106.04 L223.8 106.12 L224.3 106.12 L224.8 106.09 L225.3 106.05 L225.8 106.12 L226.3 106.1 L226.8 106.13 L227.3 106.15 L227.8 106.1 L228.3 106.05 L228.8 106.06 L229.3 106.09 L229.8 106.08 L230.3 106.08 L230.8 106.09 L231.3 106.05 L231.8 106.09 L232.3 106.11 L232.8 106.06 L233.3 106.03 L233.8 106.03 L234.3 106.02 L234.8 106.03 L235.3 106.07 L235.8 106.02 L236.3 106.04 L236.8 106.03 L237.3 106.01 L237.8 105.97 L238.3 105.93 L238.8 105.97 L239.3 106.04 L239.8 106.01 L240.3 106.04 L240.8 105.99 L241.3 106.02 L241.8 106.01 L242.3 106 L242.8 105.95 L243.3 105.95 L243.8 105.96 L244.3 106.02 L244.8 106.03 L245.3 106.03 L245.8 105.99 L246.3 106 L246.8 106.02 L247.3 106.05 L247.8 106.05 L248.3 106.09 L248.8 106.04 L249.3 105.98 L249.8 106.02 L250.3 106.06 L250.8 106.05 L251.3 106.02 L251.8 106 L252.3 105.97 L252.8 105.95 L253.3 105.95 L253.8 105.96 L254.3 105.91 L254.8 105.94 L255.3 105.94 L255.8 105.93 L256.3 105.94 L256.8 105.92 L257.3 105.93 L257.8 105.98 L258.3 105.94 L258.8 105.96 L259.3 105.92 L259.8 105.91 L260.3 105.92 L260.8 105.89 L261.3 105.93 L261.8 105.86 L262.3 105.87 L262.8 105.88 L263.3 105.89 L263.8 105.88 L264.3 105.85 L264.8 105.86 L265.3 105.91 L265.8 105.92 L266.3 105.89 L266.8 105.84 L267.3 105.82 L267.8 105.86 L268.3 105.84 L268.8 105.84 L269.3 105.92 L269.8 105.81 L270.3 105.86 L270.8 105.77 L271.3 105.75 L271.8 105.88 L272.3 105.9 L272.8 105.89 L273.3 105.89 L273.8 105.9 L274.3 105.85 L274.8 105.79 L275.3 105.77 L275.8 105.8 L276.3 105.82 L276.8 105.85 L277.3 105.83 L277.8 105.84 L278.3 105.82 L278.8 105.77 L279.3 105.76 L279.8 105.78 L280.3 105.78 L280.8 105.76 L281.3 105.77 L281.8 105.82 L282.3 105.77 L282.8 105.69 L283.3 105.72 L283.8 105.65 L284.3 105.75 L284.8 105.73 L285.3 105.74 L285.8 105.73 L286.3 105.74 L286.8 105.75 L287.3 105.79 L287.8 105.73 L288.3 105.72 L288.8 105.71 L289.3 105.71 L289.8 105.73 L290.3 105.66 L290.8 105.61 L291.3 105.65 L291.8 105.69 L292.3 105.72 L292.8 105.75 L293.3 105.78 L293.8 105.72 L294.3 105.7 L294.8 105.7 L295.3 105.72 L295.8 105.72 L296.3 105.72 L296.8 105.67 L297.3 105.75 L297.8 105.72 L298.3 105.72 L298.8 105.66 L299.3 105.68 L299.8 105.66 L300.3 105.7 L300.8 105.72 L301.3 105.67 L301.8 105.67 L302.3 105.66 L302.8 105.67 L303.3 105.71 L303.8 105.66 L304.3 105.74 L304.8 105.67 L305.3 105.61 L305.8 105.64 L306.3 105.59 L306.8 105.65 L307.3 105.65 L307.8 105.63 L308.3 105.65 L308.8 105.64 L309.3 105.6 L309.8 105.59 L310.3 105.66 L310.8 105.65 L311.3 105.64 L311.8 105.59 L312.3 105.66 L312.8 105.66 L313.3 107.21 L313.8 109.41 L314.3 111.15 L314.8 112.61 L315.3 113.76 L315.8 114.61 L316.3 115.32 L316.8 115.88 L317.3 116.36 L317.8 116.8 L318.3 117.06 L318.8 117.29 L319.3 117.45 L319.8 117.59 L320.3 117.73 L320.8 117.86 L321.3 117.88 L321.8 117.92" fill="none" stroke="#D67A10" stroke-width="0.68" stroke-linejoin="round"/>
<path d="M207.3 118.19 L207.8 118.88 L208.3 115.13 L208.8 112.33 L209.3 110.28 L209.8 108.74 L210.3 107.55 L210.8 106.75 L211.3 106.12 L211.8 105.64 L212.3 105.28 L212.8 105.01 L213.3 104.83 L213.8 104.72 L214.3 104.67 L214.8 104.56 L215.3 104.54 L215.8 104.5 L216.3 104.48 L216.8 104.44 L217.3 104.37 L217.8 104.41 L218.3 104.41 L218.8 104.34 L219.3 104.34 L219.8 104.33 L220.3 104.41 L220.8 104.43 L221.3 104.4 L221.8 104.36 L222.3 104.37 L222.8 104.36 L223.3 104.36 L223.8 104.33 L224.3 104.28 L224.8 104.22 L225.3 104.2 L225.8 104.18 L226.3 104.22 L226.8 104.27 L227.3 104.33 L227.8 104.32 L228.3 104.38 L228.8 104.39 L229.3 104.34 L229.8 104.29 L230.3 104.29 L230.8 104.26 L231.3 104.24 L231.8 104.25 L232.3 104.26 L232.8 104.19 L233.3 104.21 L233.8 104.22 L234.3 104.25 L234.8 104.21 L235.3 104.24 L235.8 104.2 L236.3 104.17 L236.8 104.16 L237.3 104.19 L237.8 104.18 L238.3 104.24 L238.8 104.24 L239.3 104.22 L239.8 104.24 L240.3 104.28 L240.8 104.25 L241.3 104.29 L241.8 104.26 L242.3 104.24 L242.8 104.18 L243.3 104.22 L243.8 104.23 L244.3 104.22 L244.8 104.23 L245.3 104.28 L245.8 104.29 L246.3 104.21 L246.8 104.17 L247.3 104.21 L247.8 104.22 L248.3 104.23 L248.8 104.14 L249.3 104.16 L249.8 104.17 L250.3 104.13 L250.8 104.19 L251.3 104.19 L251.8 104.2 L252.3 104.22 L252.8 104.17 L253.3 104.16 L253.8 104.14 L254.3 104.16 L254.8 104.17 L255.3 104.11 L255.8 104.07 L256.3 104.04 L256.8 104.07 L257.3 104.03 L257.8 104.02 L258.3 104.09 L258.8 104.05 L259.3 104.08 L259.8 104 L260.3 104.05 L260.8 104.01 L261.3 104.08 L261.8 104.07 L262.3 104.08 L262.8 104.04 L263.3 104.05 L263.8 104.03 L264.3 104.07 L264.8 104.04 L265.3 104.02 L265.8 104 L266.3 103.99 L266.8 104.03 L267.3 104.02 L267.8 104.03 L268.3 103.92 L268.8 103.99 L269.3 103.95 L269.8 103.9 L270.3 103.94 L270.8 103.89 L271.3 103.99 L271.8 103.98 L272.3 103.97 L272.8 104 L273.3 103.98 L273.8 103.98 L274.3 103.98 L274.8 104.04 L275.3 104.04 L275.8 103.99 L276.3 103.98 L276.8 103.91 L277.3 103.97 L277.8 103.92 L278.3 103.91 L278.8 103.91 L279.3 103.93 L279.8 103.9 L280.3 103.89 L280.8 103.87 L281.3 103.8 L281.8 103.82 L282.3 103.88 L282.8 103.93 L283.3 103.89 L283.8 103.86 L284.3 103.9 L284.8 103.88 L285.3 103.93 L285.8 103.88 L286.3 103.9 L286.8 103.89 L287.3 103.89 L287.8 103.91 L288.3 103.9 L288.8 103.88 L289.3 103.87 L289.8 103.92 L290.3 103.91 L290.8 103.89 L291.3 103.82 L291.8 103.85 L292.3 103.82 L292.8 103.77 L293.3 103.8 L293.8 103.78 L294.3 103.8 L294.8 103.82 L295.3 103.81 L295.8 103.79 L296.3 103.79 L296.8 103.89 L297.3 103.82 L297.8 103.78 L298.3 103.76 L298.8 103.73 L299.3 103.75 L299.8 103.73 L300.3 103.77 L300.8 103.78 L301.3 103.81 L301.8 103.8 L302.3 103.8 L302.8 103.8 L303.3 103.69 L303.8 103.72 L304.3 103.72 L304.8 103.71 L305.3 103.73 L305.8 103.71 L306.3 103.75 L306.8 103.76 L307.3 103.71 L307.8 103.74 L308.3 103.68 L308.8 103.72 L309.3 103.79 L309.8 103.8 L310.3 103.73 L310.8 103.78 L311.3 103.81 L311.8 103.78 L312.3 103.76 L312.8 103.8 L313.3 105.53 L313.8 107.92 L314.3 109.91 L314.8 111.52 L315.3 112.84 L315.8 113.94 L316.3 114.77 L316.8 115.46 L317.3 115.93 L317.8 116.34 L318.3 116.71 L318.8 117.02 L319.3 117.33 L319.8 117.53 L320.3 117.6 L320.8 117.75 L321.3 117.8 L321.8 117.87" fill="none" stroke="#D67A10" stroke-width="0.68" stroke-linejoin="round"/>
<path d="M207.3 118.21 L207.8 119.05 L208.3 115 L208.8 111.89 L209.3 109.59 L209.8 107.8 L210.3 106.44 L210.8 105.4 L211.3 104.64 L211.8 104.02 L212.3 103.56 L212.8 103.27 L213.3 103.02 L213.8 102.83 L214.3 102.68 L214.8 102.52 L215.3 102.4 L215.8 102.39 L216.3 102.34 L216.8 102.31 L217.3 102.28 L217.8 102.28 L218.3 102.2 L218.8 102.23 L219.3 102.13 L219.8 102.15 L220.3 102.2 L220.8 102.19 L221.3 102.18 L221.8 102.14 L222.3 102.17 L222.8 102.15 L223.3 102.17 L223.8 102.17 L224.3 102.14 L224.8 102.11 L225.3 102.13 L225.8 102.14 L226.3 102.13 L226.8 102.13 L227.3 102.1 L227.8 102.09 L228.3 102.11 L228.8 102.11 L229.3 102.01 L229.8 102.05 L230.3 102.04 L230.8 102.04 L231.3 102.05 L231.8 102.1 L232.3 102.01 L232.8 101.99 L233.3 102.08 L233.8 102.04 L234.3 102.1 L234.8 102.12 L235.3 102.05 L235.8 102.03 L236.3 102.05 L236.8 102.1 L237.3 102.06 L237.8 102.05 L238.3 102.02 L238.8 102.08 L239.3 101.99 L239.8 102 L240.3 102.02 L240.8 102.02 L241.3 101.99 L241.8 102 L242.3 101.97 L242.8 101.93 L243.3 102.01 L243.8 102.06 L244.3 101.99 L244.8 101.97 L245.3 102.01 L245.8 101.98 L246.3 101.95 L246.8 101.94 L247.3 101.87 L247.8 101.9 L248.3 101.88 L248.8 101.88 L249.3 101.84 L249.8 101.87 L250.3 101.87 L250.8 101.86 L251.3 101.9 L251.8 101.81 L252.3 101.83 L252.8 101.78 L253.3 101.77 L253.8 101.86 L254.3 101.87 L254.8 101.89 L255.3 101.81 L255.8 101.79 L256.3 101.83 L256.8 101.85 L257.3 101.88 L257.8 101.87 L258.3 101.87 L258.8 101.87 L259.3 101.85 L259.8 101.79 L260.3 101.83 L260.8 101.81 L261.3 101.81 L261.8 101.8 L262.3 101.82 L262.8 101.8 L263.3 101.76 L263.8 101.78 L264.3 101.82 L264.8 101.79 L265.3 101.83 L265.8 101.8 L266.3 101.8 L266.8 101.85 L267.3 101.86 L267.8 101.95 L268.3 101.84 L268.8 101.81 L269.3 101.81 L269.8 101.78 L270.3 101.73 L270.8 101.75 L271.3 101.74 L271.8 101.72 L272.3 101.71 L272.8 101.73 L273.3 101.72 L273.8 101.71 L274.3 101.69 L274.8 101.68 L275.3 101.64 L275.8 101.67 L276.3 101.67 L276.8 101.66 L277.3 101.67 L277.8 101.69 L278.3 101.7 L278.8 101.68 L279.3 101.7 L279.8 101.72 L280.3 101.63 L280.8 101.6 L281.3 101.64 L281.8 101.65 L282.3 101.67 L282.8 101.7 L283.3 101.64 L283.8 101.64 L284.3 101.67 L284.8 101.62 L285.3 101.67 L285.8 101.58 L286.3 101.58 L286.8 101.67 L287.3 101.63 L287.8 101.62 L288.3 101.63 L288.8 101.6 L289.3 101.62 L289.8 101.61 L290.3 101.57 L290.8 101.66 L291.3 101.65 L291.8 101.59 L292.3 101.51 L292.8 101.52 L293.3 101.55 L293.8 101.5 L294.3 101.5 L294.8 101.51 L295.3 101.52 L295.8 101.58 L296.3 101.5 L296.8 101.48 L297.3 101.57 L297.8 101.49 L298.3 101.51 L298.8 101.52 L299.3 101.55 L299.8 101.5 L300.3 101.52 L300.8 101.56 L301.3 101.53 L301.8 101.54 L302.3 101.49 L302.8 101.51 L303.3 101.49 L303.8 101.47 L304.3 101.46 L304.8 101.41 L305.3 101.38 L305.8 101.42 L306.3 101.43 L306.8 101.43 L307.3 101.38 L307.8 101.41 L308.3 101.41 L308.8 101.37 L309.3 101.43 L309.8 101.5 L310.3 101.47 L310.8 101.42 L311.3 101.34 L311.8 101.4 L312.3 101.41 L312.8 101.44 L313.3 103.44 L313.8 106.14 L314.3 108.37 L314.8 110.24 L315.3 111.67 L315.8 112.91 L316.3 113.89 L316.8 114.66 L317.3 115.32 L317.8 115.88 L318.3 116.3 L318.8 116.66 L319.3 116.96 L319.8 117.21 L320.3 117.37 L320.8 117.53 L321.3 117.58 L321.8 117.66" fill="none" stroke="#D67A10" stroke-width="0.68" stroke-linejoin="round"/>
<path d="M207.3 118.13 L207.8 120.03 L208.3 116.78 L208.8 113.96 L209.3 111.71 L209.8 109.82 L210.3 108.23 L210.8 106.76 L211.3 105.55 L211.8 104.55 L212.3 103.77 L212.8 102.92 L213.3 102.31 L213.8 101.64 L214.3 101.12 L214.8 100.68 L215.3 100.47 L215.8 100.2 L216.3 99.99 L216.8 99.72 L217.3 99.58 L217.8 99.6 L218.3 99.3 L218.8 99.13 L219.3 99.16 L219.8 99 L220.3 98.97 L220.8 98.94 L221.3 98.77 L221.8 98.75 L222.3 98.75 L222.8 98.77 L223.3 98.79 L223.8 98.75 L224.3 98.71 L224.8 98.67 L225.3 98.66 L225.8 98.7 L226.3 98.6 L226.8 98.36 L227.3 98.48 L227.8 98.51 L228.3 98.72 L228.8 98.56 L229.3 98.58 L229.8 98.61 L230.3 98.49 L230.8 98.48 L231.3 98.4 L231.8 98.47 L232.3 98.46 L232.8 98.48 L233.3 98.5 L233.8 98.5 L234.3 98.56 L234.8 98.56 L235.3 98.47 L235.8 98.38 L236.3 98.41 L236.8 98.27 L237.3 98.26 L237.8 98.37 L238.3 98.43 L238.8 98.56 L239.3 98.44 L239.8 98.38 L240.3 98.42 L240.8 98.47 L241.3 98.3 L241.8 98.38 L242.3 98.35 L242.8 98.46 L243.3 98.39 L243.8 98.29 L244.3 98.22 L244.8 98.2 L245.3 98.17 L245.8 98.04 L246.3 98.12 L246.8 98.09 L247.3 98.22 L247.8 98.27 L248.3 98.18 L248.8 98.15 L249.3 98.19 L249.8 98.26 L250.3 98.3 L250.8 98.29 L251.3 98.22 L251.8 98.23 L252.3 98.09 L252.8 98.13 L253.3 98.1 L253.8 98.07 L254.3 98.05 L254.8 97.99 L255.3 97.98 L255.8 98.11 L256.3 98.03 L256.8 97.92 L257.3 97.99 L257.8 97.96 L258.3 97.92 L258.8 98.05 L259.3 98.01 L259.8 98.03 L260.3 98.02 L260.8 98.12 L261.3 98.1 L261.8 97.91 L262.3 98.05 L262.8 97.95 L263.3 97.9 L263.8 97.96 L264.3 97.92 L264.8 97.87 L265.3 97.83 L265.8 97.82 L266.3 97.91 L266.8 97.91 L267.3 97.98 L267.8 98.06 L268.3 98.02 L268.8 97.86 L269.3 97.84 L269.8 97.85 L270.3 97.72 L270.8 97.73 L271.3 97.65 L271.8 97.78 L272.3 97.62 L272.8 97.63 L273.3 97.69 L273.8 97.71 L274.3 97.63 L274.8 97.71 L275.3 97.69 L275.8 97.8 L276.3 97.75 L276.8 97.78 L277.3 97.6 L277.8 97.63 L278.3 97.63 L278.8 97.54 L279.3 97.39 L279.8 97.53 L280.3 97.65 L280.8 97.57 L281.3 97.64 L281.8 97.66 L282.3 97.57 L282.8 97.51 L283.3 97.73 L283.8 97.7 L284.3 97.66 L284.8 97.57 L285.3 97.43 L285.8 97.47 L286.3 97.46 L286.8 97.49 L287.3 97.48 L287.8 97.33 L288.3 97.34 L288.8 97.39 L289.3 97.37 L289.8 97.41 L290.3 97.43 L290.8 97.41 L291.3 97.36 L291.8 97.5 L292.3 97.47 L292.8 97.45 L293.3 97.45 L293.8 97.43 L294.3 97.24 L294.8 97.24 L295.3 97.29 L295.8 97.34 L296.3 97.33 L296.8 97.22 L297.3 97.22 L297.8 97.27 L298.3 97.27 L298.8 97.48 L299.3 97.43 L299.8 97.39 L300.3 97.31 L300.8 97.1 L301.3 97.21 L301.8 97.15 L302.3 97.27 L302.8 97.2 L303.3 97.16 L303.8 97.25 L304.3 97.18 L304.8 97.03 L305.3 97.11 L305.8 97.15 L306.3 97.17 L306.8 97.13 L307.3 97.14 L307.8 97.05 L308.3 97.06 L308.8 97.12 L309.3 96.86 L309.8 96.98 L310.3 97.09 L310.8 97.19 L311.3 97.1 L311.8 97.11 L312.3 97.06 L312.8 96.96 L313.3 99.71 L313.8 103.54 L314.3 106.58 L314.8 108.77 L315.3 110.69 L315.8 112.22 L316.3 113.46 L316.8 114.31 L317.3 115.29 L317.8 115.74 L318.3 116.18 L318.8 116.75 L319.3 117.06 L319.8 117.22 L320.3 117.37 L320.8 117.61 L321.3 117.68 L321.8 117.85" fill="none" stroke="#E3922A" stroke-width="0.65" stroke-linejoin="round"/>
<path d="M207.3 118.23 L207.8 119.43 L208.3 116.23 L208.8 113.37 L209.3 110.87 L209.8 108.72 L210.3 106.98 L210.8 105.42 L211.3 104.21 L211.8 102.98 L212.3 102.09 L212.8 101.19 L213.3 100.43 L213.8 99.66 L214.3 99.14 L214.8 98.77 L215.3 98.24 L215.8 97.98 L216.3 97.7 L216.8 97.45 L217.3 97.12 L217.8 97.01 L218.3 96.73 L218.8 96.68 L219.3 96.58 L219.8 96.31 L220.3 96.31 L220.8 96.3 L221.3 96.16 L221.8 95.97 L222.3 95.92 L222.8 95.86 L223.3 95.88 L223.8 95.78 L224.3 95.7 L224.8 95.72 L225.3 95.72 L225.8 95.6 L226.3 95.64 L226.8 95.61 L227.3 95.58 L227.8 95.63 L228.3 95.65 L228.8 95.65 L229.3 95.72 L229.8 95.67 L230.3 95.62 L230.8 95.61 L231.3 95.67 L231.8 95.65 L232.3 95.61 L232.8 95.63 L233.3 95.49 L233.8 95.55 L234.3 95.57 L234.8 95.52 L235.3 95.41 L235.8 95.34 L236.3 95.26 L236.8 95.36 L237.3 95.39 L237.8 95.36 L238.3 95.44 L238.8 95.38 L239.3 95.46 L239.8 95.49 L240.3 95.49 L240.8 95.39 L241.3 95.33 L241.8 95.36 L242.3 95.44 L242.8 95.35 L243.3 95.38 L243.8 95.43 L244.3 95.3 L244.8 95.44 L245.3 95.39 L245.8 95.35 L246.3 95.36 L246.8 95.34 L247.3 95.28 L247.8 95.26 L248.3 95.27 L248.8 95.23 L249.3 95.32 L249.8 95.35 L250.3 95.37 L250.8 95.24 L251.3 95.23 L251.8 95.28 L252.3 95.28 L252.8 95.16 L253.3 95.23 L253.8 95.36 L254.3 95.38 L254.8 95.32 L255.3 95.22 L255.8 95.29 L256.3 95.3 L256.8 95.25 L257.3 95.22 L257.8 95.27 L258.3 95.24 L258.8 95.18 L259.3 95.12 L259.8 95.13 L260.3 95.13 L260.8 95.12 L261.3 95.4 L261.8 95.23 L262.3 95.11 L262.8 95.09 L263.3 95.16 L263.8 95.28 L264.3 95.12 L264.8 95.1 L265.3 95.15 L265.8 95.09 L266.3 95.14 L266.8 95.11 L267.3 95.18 L267.8 95.16 L268.3 95.23 L268.8 95.1 L269.3 95.16 L269.8 95.11 L270.3 95.16 L270.8 95.09 L271.3 95.13 L271.8 95.17 L272.3 95.14 L272.8 95.04 L273.3 95 L273.8 94.99 L274.3 94.99 L274.8 95.06 L275.3 94.98 L275.8 94.98 L276.3 95 L276.8 95 L277.3 94.95 L277.8 95.04 L278.3 95.02 L278.8 94.96 L279.3 94.96 L279.8 95.03 L280.3 95.04 L280.8 95.08 L281.3 95.06 L281.8 94.99 L282.3 94.89 L282.8 94.85 L283.3 94.88 L283.8 94.8 L284.3 94.83 L284.8 94.82 L285.3 94.92 L285.8 94.8 L286.3 94.97 L286.8 94.98 L287.3 94.92 L287.8 94.91 L288.3 94.99 L288.8 94.98 L289.3 94.92 L289.8 94.86 L290.3 94.77 L290.8 94.82 L291.3 94.88 L291.8 94.86 L292.3 94.85 L292.8 94.79 L293.3 94.81 L293.8 94.84 L294.3 94.76 L294.8 94.82 L295.3 94.79 L295.8 94.82 L296.3 94.81 L296.8 94.82 L297.3 94.82 L297.8 94.84 L298.3 94.77 L298.8 94.76 L299.3 94.69 L299.8 94.72 L300.3 94.79 L300.8 94.76 L301.3 94.81 L301.8 94.75 L302.3 94.76 L302.8 94.81 L303.3 94.79 L303.8 94.78 L304.3 94.83 L304.8 94.81 L305.3 94.82 L305.8 94.75 L306.3 94.68 L306.8 94.72 L307.3 94.64 L307.8 94.72 L308.3 94.66 L308.8 94.67 L309.3 94.71 L309.8 94.62 L310.3 94.74 L310.8 94.69 L311.3 94.65 L311.8 94.58 L312.3 94.49 L312.8 94.44 L313.3 97.33 L313.8 101.48 L314.3 104.73 L314.8 107.45 L315.3 109.49 L315.8 111.11 L316.3 112.55 L316.8 113.65 L317.3 114.47 L317.8 115.3 L318.3 115.88 L318.8 116.25 L319.3 116.62 L319.8 116.89 L320.3 117.23 L320.8 117.39 L321.3 117.52 L321.8 117.68" fill="none" stroke="#E3922A" stroke-width="0.65" stroke-linejoin="round"/>
<path d="M207.3 118.2 L207.55 118.2 L207.8 118.2 L208.05 116.05 L208.3 114.06 L208.55 112.22 L208.8 110.52 L209.05 108.95 L209.3 107.5 L209.55 106.15 L209.8 104.91 L210.05 103.76 L210.3 102.69 L210.55 101.71 L210.8 100.8 L211.05 99.96 L211.3 99.18 L211.55 98.46 L211.8 97.79 L212.05 97.18 L212.3 96.61 L212.55 96.08 L212.8 95.59 L213.05 95.14 L213.3 94.73 L213.55 94.34 L213.8 93.99 L214.05 93.66 L214.3 93.35 L214.55 93.07 L214.8 92.81 L215.05 92.57 L215.3 92.34 L215.55 92.14 L215.8 91.95 L216.05 91.77 L216.3 91.61 L216.55 91.46 L216.8 91.32 L217.05 91.19 L217.3 91.07 L217.55 90.96 L217.8 90.86 L218.05 90.76 L218.3 90.67 L218.55 90.59 L218.8 90.49 L219.05 90.37 L219.3 90.21 L219.55 90.02 L219.8 89.8 L220.05 89.55 L220.3 89.27 L220.55 88.96 L220.8 88.61 L221.05 88.23 L221.3 87.83 L221.55 87.38 L221.55 82.5 L222 73.5 L222.18 57.5 L222.4 27.8 L222.6 27.8 L222.82 57.5 L223 73.5 L223.3 84.5 L223.5 86.9 L223.75 87.89 L224 88.62 L224.25 89.15 L224.5 89.54 L224.75 89.82 L225 90.03 L225.25 90.18 L225.5 90.3 L225.75 90.38 L226 90.44 L226.25 90.48 L226.5 90.51 L226.75 90.53 L227 90.55 L227.25 90.55 L227.5 90.55 L227.75 90.55 L228 90.53 L228.25 90.51 L228.5 90.49 L228.75 90.45 L229 90.41 L229.25 90.37 L229.5 90.31 L229.75 90.25 L230 90.18 L230.25 90.1 L230.5 90.01 L230.75 89.92 L231 89.82 L231.25 89.7 L231.5 89.58 L231.75 89.44 L232 89.3 L232.25 89.15 L232.5 88.98 L232.75 88.81 L233 88.62 L233.25 88.42 L233.5 88.21 L233.75 87.99 L234 87.75 L234.25 87.51 L234.5 87.25 L234.75 86.97 L235 86.69 L235.25 86.39 L235.5 86.07 L235.75 85.74 L236 85.4 L236.25 85.05 L236.5 84.67 L236.75 84.29 L237 83.89 L236.85 82.5 L237.3 73.5 L237.48 57.5 L237.7 27.8 L237.9 27.8 L238.12 57.5 L238.3 73.5 L238.6 84.5 L238.8 86.9 L239.05 87.89 L239.3 88.62 L239.55 89.15 L239.8 89.54 L240.05 89.82 L240.3 90.03 L240.55 90.18 L240.8 90.3 L241.05 90.38 L241.3 90.44 L241.55 90.48 L241.8 90.51 L242.05 90.53 L242.3 90.54 L242.55 90.55 L242.8 90.54 L243.05 90.53 L243.3 90.51 L243.55 90.48 L243.8 90.45 L244.05 90.41 L244.3 90.36 L244.55 90.3 L244.8 90.24 L245.05 90.17 L245.3 90.08 L245.55 89.99 L245.8 89.89 L246.05 89.78 L246.3 89.65 L246.55 89.52 L246.8 89.38 L247.05 89.22 L247.3 89.06 L247.55 88.88 L247.8 88.69 L248.05 88.49 L248.3 88.27 L248.55 88.04 L248.8 87.8 L249.05 87.55 L249.3 87.28 L249.55 87 L249.8 86.7 L250.05 86.39 L250.3 86.06 L250.55 85.72 L250.8 85.36 L251.05 84.99 L251.3 84.6 L251.55 84.19 L251.8 83.77 L251.55 82.5 L252 73.5 L252.18 57.5 L252.4 27.8 L252.6 27.8 L252.82 57.5 L253 73.5 L253.3 84.5 L253.5 86.9 L253.75 87.89 L254 88.62 L254.25 89.15 L254.5 89.54 L254.75 89.82 L255 90.03 L255.25 90.18 L255.5 90.3 L255.75 90.37 L256 90.42 L256.25 90.44 L256.5 90.45 L256.75 90.43 L257 90.4 L257.25 90.35 L257.5 90.28 L257.75 90.2 L258 90.1 L258.25 89.98 L258.5 89.84 L258.75 89.69 L259 89.51 L259.25 89.31 L259.5 89.1 L259.75 88.86 L260 88.6 L260.25 88.31 L260.5 88.01 L260.75 87.67 L261 87.32 L261.25 86.94 L261.5 86.53 L261.75 86.09 L262 85.63 L262.25 85.14 L262.5 84.62 L262.75 84.07 L262.45 82.5 L262.9 73.5 L263.08 57.5 L263.3 27.8 L263.5 27.8 L263.72 57.5 L263.9 73.5 L264.2 84.5 L264.4 86.9 L264.65 87.89 L264.9 88.62 L265.15 89.15 L265.4 89.54 L265.65 89.82 L265.9 90.03 L266.15 90.18 L266.4 90.3 L266.65 90.38 L266.9 90.43 L267.15 90.46 L267.4 90.48 L267.65 90.47 L267.9 90.45 L268.15 90.42 L268.4 90.37 L268.65 90.31 L268.9 90.24 L269.15 90.15 L269.4 90.04 L269.65 89.92 L269.9 89.78 L270.15 89.62 L270.4 89.45 L270.65 89.26 L270.9 89.05 L271.15 88.83 L271.4 88.58 L271.65 88.31 L271.9 88.02 L272.15 87.71 L272.4 87.38 L272.65 87.03 L272.9 86.65 L273.15 86.25 L273.4 85.82 L273.65 85.38 L273.9 84.9 L274.15 84.4 L274.05 82.5 L274.5 73.5 L274.68 57.5 L274.9 27.8 L275.1 27.8 L275.32 57.5 L275.5 73.5 L275.8 84.5 L276 86.9 L276.25 87.89 L276.5 88.62 L276.75 89.15 L277 89.54 L277.25 89.82 L277.5 90.03 L277.75 90.18 L278 90.3 L278.25 90.38 L278.5 90.43 L278.75 90.47 L279 90.48 L279.25 90.48 L279.5 90.47 L279.75 90.44 L280 90.4 L280.25 90.35 L280.5 90.28 L280.75 90.2 L281 90.11 L281.25 90 L281.5 89.87 L281.75 89.73 L282 89.58 L282.25 89.4 L282.5 89.21 L282.75 89.01 L283 88.78 L283.25 88.54 L283.5 88.27 L283.75 87.99 L284 87.68 L284.25 87.36 L284.5 87.01 L284.75 86.64 L285 86.25 L285.25 85.84 L285.5 85.4 L285.75 84.94 L286 84.46 L286.25 83.95 L285.95 82.5 L286.4 73.5 L286.58 57.5 L286.8 27.8 L287 27.8 L287.22 57.5 L287.4 73.5 L287.7 84.5 L287.9 86.9 L288.15 87.89 L288.4 88.62 L288.65 89.15 L288.9 89.54 L289.15 89.82 L289.4 90.03 L289.65 90.18 L289.9 90.3 L290.15 90.38 L290.4 90.44 L290.65 90.47 L290.9 90.5 L291.15 90.51 L291.4 90.5 L291.65 90.49 L291.9 90.46 L292.15 90.42 L292.4 90.37 L292.65 90.31 L292.9 90.23 L293.15 90.15 L293.4 90.05 L293.65 89.94 L293.9 89.81 L294.15 89.67 L294.4 89.52 L294.65 89.35 L294.9 89.17 L295.15 88.97 L295.4 88.75 L295.65 88.52 L295.9 88.27 L296.15 88 L296.4 87.72 L296.65 87.41 L296.9 87.09 L297.15 86.75 L297.4 86.39 L297.65 86 L297.9 85.6 L298.15 85.17 L298.4 84.73 L298.65 84.26 L298.55 82.5 L299 73.5 L299.18 57.5 L299.4 27.8 L299.6 27.8 L299.82 57.5 L300 73.5 L300.3 84.5 L300.5 86.9 L300.75 87.89 L301 88.62 L301.25 89.15 L301.5 89.54 L301.75 89.82 L302 90.03 L302.25 90.18 L302.5 90.3 L302.75 90.38 L303 90.43 L303.25 90.46 L303.5 90.47 L303.75 90.47 L304 90.45 L304.25 90.41 L304.5 90.36 L304.75 90.3 L305 90.22 L305.25 90.12 L305.5 90.01 L305.75 89.89 L306 89.75 L306.25 89.59 L306.5 89.41 L306.75 89.21 L307 89 L307.25 88.76 L307.5 88.51 L307.75 88.23 L308 87.93 L308.25 87.61 L308.5 87.27 L308.75 86.91 L309 86.52 L309.25 86.11 L309.5 85.67 L309.75 85.21 L310 84.72 L310.25 84.21 L310.05 82.5 L310.5 73.5 L310.68 57.5 L310.9 27.8 L311.1 27.8 L311.32 57.5 L311.5 73.5 L311.8 84.5 L312 86.9 L312.25 87.89 L313 87.89 L313.25 90.89 L313.5 93.59 L313.75 96.03 L314 98.22 L314.25 100.2 L314.5 101.98 L314.75 103.58 L315 105.03 L315.25 106.33 L315.5 107.51 L315.75 108.56 L316 109.52 L316.25 110.38 L316.5 111.15 L316.75 111.85 L317 112.48 L317.25 113.04 L317.5 113.55 L317.75 114.01 L318 114.43 L318.25 114.8 L318.5 115.14 L318.75 115.44 L319 115.71 L319.25 115.96 L319.5 116.18 L319.75 116.38 L320 116.56 L320.25 116.72 L320.5 116.87 L320.75 117 L321 117.12 L321.25 117.23 L321.5 117.32 L321.75 117.41 L322 117.49" fill="none" stroke="#DB8616" stroke-width="0.78" stroke-linejoin="round"/>
<path d="M207.3 118.2 L207.55 118.2 L207.8 118.2 L208.05 116.49 L208.3 114.9 L208.55 113.4 L208.8 112 L209.05 110.69 L209.3 109.46 L209.55 108.31 L209.8 107.23 L210.05 106.22 L210.3 105.28 L210.55 104.4 L210.8 103.57 L211.05 102.79 L211.3 102.07 L211.55 101.39 L211.8 100.75 L212.05 100.16 L212.3 99.6 L212.55 99.08 L212.8 98.59 L213.05 98.13 L213.3 97.7 L213.55 97.3 L213.8 96.93 L214.05 96.57 L214.3 96.24 L214.55 95.94 L214.8 95.65 L215.05 95.38 L215.3 95.12 L215.55 94.89 L215.8 94.66 L216.05 94.46 L216.3 94.26 L216.55 94.08 L216.8 93.91 L217.05 93.75 L217.3 93.6 L217.55 93.46 L217.8 93.33 L218.05 93.21 L218.3 93.09 L218.55 92.98 L218.8 92.88 L219.05 92.79 L219.3 92.7 L219.55 92.62 L219.8 92.54 L220.05 92.47 L220.3 92.4 L220.55 92.34 L220.8 92.28 L221.05 92.22 L221.3 92.17 L221.55 92.12 L221.8 92.07 L222.05 92.03 L222.3 91.99 L222.55 91.95 L222.8 91.92 L223.05 91.88 L223.3 91.85 L223.55 91.82 L223.8 91.8 L224.05 91.77 L224.3 91.75 L224.55 91.73 L224.8 91.71 L225.05 91.69 L225.3 91.67 L225.55 91.65 L225.8 91.63 L226.05 91.62 L226.3 91.61 L226.55 91.59 L226.8 91.58 L227.05 91.53 L227.3 91.46 L227.55 91.35 L227.8 91.2 L228.05 91.02 L228.3 90.8 L228.55 90.56 L228.8 90.27 L229.05 89.95 L229.3 89.6 L229.55 89.21 L229.8 88.79 L229.75 83.5 L230.2 74.5 L230.38 58.5 L230.6 27.8 L230.8 27.8 L231.02 58.5 L231.2 74.5 L231.5 85.5 L231.7 88.21 L231.95 89.34 L232.2 90.16 L232.45 90.76 L232.7 91.2 L232.95 91.52 L233.2 91.76 L233.45 91.93 L233.7 92.06 L233.95 92.15 L234.2 92.22 L234.45 92.27 L234.7 92.3 L234.95 92.32 L235.2 92.34 L235.45 92.34 L235.7 92.34 L235.95 92.32 L236.2 92.3 L236.45 92.27 L236.7 92.24 L236.95 92.19 L237.2 92.14 L237.45 92.08 L237.7 92 L237.95 91.92 L238.2 91.83 L238.45 91.73 L238.7 91.62 L238.95 91.5 L239.2 91.36 L239.45 91.22 L239.7 91.06 L239.95 90.89 L240.2 90.71 L240.45 90.51 L240.7 90.3 L240.95 90.08 L241.2 89.84 L241.45 89.59 L241.7 89.33 L241.95 89.05 L242.2 88.75 L242.45 88.44 L242.7 88.11 L242.95 87.77 L243.2 87.41 L243.45 87.03 L243.7 86.64 L243.95 86.23 L244.2 85.8 L244.45 85.36 L244.7 84.9 L244.45 83.5 L244.9 74.5 L245.08 58.5 L245.3 27.8 L245.5 27.8 L245.72 58.5 L245.9 74.5 L246.2 85.5 L246.4 88.21 L246.65 89.34 L246.9 90.16 L247.15 90.76 L247.4 91.2 L247.65 91.52 L247.9 91.76 L248.15 91.93 L248.4 92.06 L248.65 92.15 L248.9 92.22 L249.15 92.27 L249.4 92.3 L249.65 92.33 L249.9 92.34 L250.15 92.35 L250.4 92.35 L250.65 92.34 L250.9 92.33 L251.15 92.3 L251.4 92.27 L251.65 92.24 L251.9 92.19 L252.15 92.14 L252.4 92.08 L252.65 92.01 L252.9 91.94 L253.15 91.85 L253.4 91.76 L253.65 91.65 L253.9 91.54 L254.15 91.41 L254.4 91.28 L254.65 91.13 L254.9 90.97 L255.15 90.8 L255.4 90.62 L255.65 90.43 L255.9 90.22 L256.15 90.01 L256.4 89.77 L256.65 89.53 L256.9 89.27 L257.15 89 L257.4 88.71 L257.65 88.41 L257.9 88.1 L258.15 87.77 L258.4 87.42 L258.65 87.06 L258.9 86.69 L259.15 86.3 L259.4 85.89 L259.65 85.47 L259.9 85.02 L259.75 83.5 L260.2 74.5 L260.38 58.5 L260.6 27.8 L260.8 27.8 L261.02 58.5 L261.2 74.5 L261.5 85.5 L261.7 88.21 L261.95 89.34 L262.2 90.16 L262.45 90.76 L262.7 91.19 L262.95 91.49 L263.2 91.68 L263.45 91.77 L263.7 91.78 L263.95 91.71 L264.2 91.58 L264.45 91.37 L264.7 91.1 L264.95 90.76 L265.2 90.36 L265.45 89.88 L265.7 89.33 L265.95 88.71 L266.2 88.01 L266.45 87.23 L266.7 86.37 L266.45 83.5 L266.9 74.5 L267.08 58.5 L267.3 27.8 L267.5 27.8 L267.72 58.5 L267.9 74.5 L268.2 85.5 L268.4 88.21 L268.65 89.34 L268.9 90.16 L269.15 90.76 L269.4 91.2 L269.65 91.52 L269.9 91.76 L270.15 91.93 L270.4 92.06 L270.65 92.15 L270.9 92.22 L271.15 92.27 L271.4 92.3 L271.65 92.33 L271.9 92.34 L272.15 92.34 L272.4 92.34 L272.65 92.33 L272.9 92.31 L273.15 92.29 L273.4 92.26 L273.65 92.22 L273.9 92.17 L274.15 92.11 L274.4 92.05 L274.65 91.97 L274.9 91.89 L275.15 91.79 L275.4 91.69 L275.65 91.58 L275.9 91.45 L276.15 91.32 L276.4 91.17 L276.65 91.02 L276.9 90.85 L277.15 90.66 L277.4 90.47 L277.65 90.26 L277.9 90.04 L278.15 89.81 L278.4 89.56 L278.65 89.3 L278.9 89.02 L279.15 88.73 L279.4 88.43 L279.65 88.11 L279.9 87.77 L280.15 87.42 L280.4 87.05 L280.65 86.67 L280.9 86.27 L281.15 85.85 L281.4 85.41 L281.65 84.96 L281.45 83.5 L281.9 74.5 L282.08 58.5 L282.3 27.8 L282.5 27.8 L282.72 58.5 L282.9 74.5 L283.2 85.5 L283.4 88.21 L283.65 89.34 L283.9 90.16 L284.15 90.76 L284.4 91.2 L284.65 91.51 L284.9 91.73 L285.15 91.86 L285.4 91.92 L285.65 91.92 L285.9 91.86 L286.15 91.75 L286.4 91.59 L286.65 91.38 L286.9 91.12 L287.15 90.81 L287.4 90.44 L287.65 90.02 L287.9 89.55 L288.15 89.01 L288.4 88.42 L288.65 87.76 L288.9 87.05 L289.15 86.26 L288.95 83.5 L289.4 74.5 L289.58 58.5 L289.8 27.8 L290 27.8 L290.22 58.5 L290.4 74.5 L290.7 85.5 L290.9 88.21 L291.15 89.34 L291.4 90.16 L291.65 90.76 L291.9 91.2 L292.15 91.52 L292.4 91.74 L292.65 91.88 L292.9 91.95 L293.15 91.97 L293.4 91.93 L293.65 91.85 L293.9 91.72 L294.15 91.54 L294.4 91.32 L294.65 91.05 L294.9 90.74 L295.15 90.37 L295.4 89.96 L295.65 89.49 L295.9 88.97 L296.15 88.4 L296.4 87.77 L296.65 87.08 L296.9 86.33 L296.75 83.5 L297.2 74.5 L297.38 58.5 L297.6 27.8 L297.8 27.8 L298.02 58.5 L298.2 74.5 L298.5 85.5 L298.7 88.21 L298.95 89.34 L299.2 90.16 L299.45 90.76 L299.7 91.2 L299.95 91.52 L300.2 91.74 L300.45 91.89 L300.7 91.97 L300.95 92 L301.2 91.97 L301.45 91.9 L301.7 91.79 L301.95 91.63 L302.2 91.43 L302.45 91.19 L302.7 90.9 L302.95 90.57 L303.2 90.19 L303.45 89.77 L303.7 89.29 L303.95 88.76 L304.2 88.18 L304.45 87.55 L304.7 86.86 L304.95 86.11 L304.75 83.5 L305.2 74.5 L305.38 58.5 L305.6 27.8 L305.8 27.8 L306.02 58.5 L306.2 74.5 L306.5 85.5 L306.7 88.21 L306.95 89.34 L307.2 90.16 L307.45 90.76 L307.7 91.2 L307.95 91.5 L308.2 91.69 L308.45 91.8 L308.7 91.82 L308.95 91.78 L309.2 91.67 L309.45 91.49 L309.7 91.25 L309.95 90.95 L310.2 90.59 L310.45 90.16 L310.7 89.66 L310.95 89.1 L311.2 88.47 L311.45 87.76 L311.7 86.98 L311.95 86.12 L311.65 83.5 L312.1 74.5 L312.28 58.5 L312.5 27.8 L312.7 27.8 L312.92 58.5 L313.1 74.5 L313.4 85.5 L313 85.5 L313.25 88.73 L313.5 91.65 L313.75 94.28 L314 96.64 L314.25 98.78 L314.5 100.7 L314.75 102.43 L315 103.99 L315.25 105.39 L315.5 106.66 L315.75 107.8 L316 108.83 L316.25 109.76 L316.5 110.59 L316.75 111.35 L317 112.02 L317.25 112.63 L317.5 113.19 L317.75 113.68 L318 114.13 L318.25 114.53 L318.5 114.89 L318.75 115.22 L319 115.52 L319.25 115.78 L319.5 116.02 L319.75 116.24 L320 116.43 L320.25 116.61 L320.5 116.76 L320.75 116.91 L321 117.03 L321.25 117.15 L321.5 117.25 L321.75 117.35 L322 117.43" fill="none" stroke="#DB8616" stroke-width="0.78" stroke-linejoin="round"/>
</g>
<path d="M374.6 117.86 L375.1 117.88 L375.6 124.18 L376.1 127.25 L376.6 128.74 L377.1 129.52 L377.6 129.84 L378.1 130.02 L378.6 130.14 L379.1 130.15 L379.6 130.1 L380.1 130.12 L380.6 130.13 L381.1 130.13 L381.6 130.14 L382.1 130.19 L382.6 130.15 L383.1 130.13 L383.6 130.16 L384.1 130.21 L384.6 130.18 L385.1 130.21 L385.6 130.24 L386.1 130.2 L386.6 130.2 L387.1 130.23 L387.6 130.23 L388.1 130.2 L388.6 130.2 L389.1 130.19 L389.6 130.2 L390.1 130.21 L390.6 130.21 L391.1 130.19 L391.6 130.2 L392.1 130.21 L392.6 130.2 L393.1 130.26 L393.6 130.22 L394.1 130.14 L394.6 130.2 L395.1 130.19 L395.6 130.21 L396.1 130.2 L396.6 130.23 L397.1 130.2 L397.6 130.22 L398.1 130.27 L398.6 130.26 L399.1 130.21 L399.6 130.27 L400.1 130.28 L400.6 130.25 L401.1 130.18 L401.6 130.2 L402.1 130.2 L402.6 130.22 L403.1 130.22 L403.6 130.26 L404.1 130.25 L404.6 130.22 L405.1 130.2 L405.6 130.21 L406.1 130.22 L406.6 130.17 L407.1 130.15 L407.6 130.2 L408.1 130.2 L408.6 130.23 L409.1 130.22 L409.6 130.19 L410.1 130.21 L410.6 130.22 L411.1 130.3 L411.6 130.32 L412.1 130.27 L412.6 130.25 L413.1 130.25 L413.6 130.25 L414.1 130.26 L414.6 130.23 L415.1 130.21 L415.6 130.15 L416.1 130.16 L416.6 130.21 L417.1 130.22 L417.6 130.22 L418.1 130.17 L418.6 130.11 L419.1 130.17 L419.6 130.16 L420.1 130.15 L420.6 130.11 L421.1 130.19 L421.6 130.25 L422.1 130.17 L422.6 130.16 L423.1 130.17 L423.6 130.2 L424.1 130.23 L424.6 130.22 L425.1 130.21 L425.6 130.22 L426.1 130.16 L426.6 130.17 L427.1 130.18 L427.6 130.2 L428.1 130.17 L428.6 130.16 L429.1 130.13 L429.6 130.16 L430.1 130.14 L430.6 130.25 L431.1 130.21 L431.6 130.25 L432.1 130.21 L432.6 130.19 L433.1 130.23 L433.6 130.21 L434.1 130.28 L434.6 130.26 L435.1 130.18 L435.6 130.23 L436.1 130.12 L436.6 130.14 L437.1 130.14 L437.6 130.16 L438.1 130.15 L438.6 130.15 L439.1 130.16 L439.6 130.2 L440.1 130.17 L440.6 130.17 L441.1 130.26 L441.6 130.31 L442.1 130.3 L442.6 130.26 L443.1 130.22 L443.6 130.21 L444.1 130.16 L444.6 130.22 L445.1 130.18 L445.6 130.12 L446.1 130.19 L446.6 130.24 L447.1 130.26 L447.6 130.26 L448.1 130.25 L448.6 130.28 L449.1 130.3 L449.6 130.21 L450.1 130.22 L450.6 130.21 L451.1 130.26 L451.6 130.23 L452.1 130.2 L452.6 130.15 L453.1 130.17 L453.6 130.19 L454.1 130.25 L454.6 130.22 L455.1 130.25 L455.6 130.3 L456.1 130.22 L456.6 130.25 L457.1 130.23 L457.6 130.16 L458.1 130.15 L458.6 130.17 L459.1 130.14 L459.6 130.19 L460.1 130.17 L460.6 130.22 L461.1 130.2 L461.6 130.24 L462.1 130.26 L462.6 130.27 L463.1 130.28 L463.6 130.35 L464.1 130.32 L464.6 130.22 L465.1 130.2 L465.6 130.23 L466.1 130.26 L466.6 130.21 L467.1 130.23 L467.6 130.22 L468.1 130.2 L468.6 130.19 L469.1 130.19 L469.6 130.24 L470.1 130.16 L470.6 130.22 L471.1 130.22 L471.6 130.16 L472.1 130.18 L472.6 130.19 L473.1 130.16 L473.6 130.2 L474.1 130.19 L474.6 130.24 L475.1 130.27 L475.6 130.26 L476.1 130.25 L476.6 130.2 L477.1 130.2 L477.6 130.24 L478.1 130.29 L478.6 130.2 L479.1 129.54 L479.6 126.69 L480.1 124.61 L480.6 122.96 L481.1 121.77 L481.6 120.72 L482.1 119.95 L482.6 119.45 L483.1 119 L483.6 118.65 L484.1 118.45 L484.6 118.29 L485.1 118.19 L485.6 118.15 L486.1 118.03 L486.6 117.95 L487.1 117.87 L487.6 117.87 L488.1 117.89 L488.6 117.91 L489.1 117.79 L489.6 117.82 L490.1 117.81 L490.6 117.79" fill="none" stroke="#D51C24" stroke-width="0.85" stroke-linejoin="round"/>
<path d="M374.6 117.76 L375.1 117.76 L375.6 122.43 L376.1 124.74 L376.6 125.87 L377.1 126.37 L377.6 126.64 L378.1 126.74 L378.6 126.85 L379.1 126.88 L379.6 126.85 L380.1 126.91 L380.6 126.97 L381.1 126.88 L381.6 126.95 L382.1 126.95 L382.6 126.93 L383.1 126.84 L383.6 126.82 L384.1 126.82 L384.6 126.88 L385.1 126.88 L385.6 126.9 L386.1 126.9 L386.6 126.92 L387.1 126.9 L387.6 126.95 L388.1 126.85 L388.6 126.84 L389.1 126.85 L389.6 126.84 L390.1 126.91 L390.6 126.89 L391.1 126.83 L391.6 126.84 L392.1 126.85 L392.6 126.84 L393.1 126.84 L393.6 126.85 L394.1 126.89 L394.6 126.89 L395.1 126.91 L395.6 126.9 L396.1 126.95 L396.6 126.93 L397.1 126.93 L397.6 126.96 L398.1 126.98 L398.6 127 L399.1 126.93 L399.6 126.87 L400.1 126.98 L400.6 126.9 L401.1 126.88 L401.6 126.84 L402.1 126.87 L402.6 126.88 L403.1 126.81 L403.6 126.89 L404.1 126.87 L404.6 126.93 L405.1 126.95 L405.6 126.93 L406.1 126.96 L406.6 126.91 L407.1 126.91 L407.6 126.9 L408.1 126.91 L408.6 126.92 L409.1 126.92 L409.6 126.9 L410.1 126.92 L410.6 126.9 L411.1 126.93 L411.6 126.89 L412.1 126.85 L412.6 126.95 L413.1 126.89 L413.6 126.92 L414.1 126.97 L414.6 126.97 L415.1 126.96 L415.6 126.93 L416.1 126.92 L416.6 126.88 L417.1 126.91 L417.6 126.93 L418.1 126.87 L418.6 126.81 L419.1 126.96 L419.6 126.93 L420.1 126.88 L420.6 126.85 L421.1 126.9 L421.6 126.95 L422.1 126.9 L422.6 126.89 L423.1 126.91 L423.6 126.89 L424.1 126.91 L424.6 126.92 L425.1 126.94 L425.6 126.96 L426.1 126.94 L426.6 126.91 L427.1 126.86 L427.6 126.87 L428.1 126.85 L428.6 126.86 L429.1 126.87 L429.6 126.88 L430.1 126.92 L430.6 126.93 L431.1 126.92 L431.6 126.97 L432.1 126.95 L432.6 126.99 L433.1 126.96 L433.6 126.95 L434.1 126.9 L434.6 126.9 L435.1 126.87 L435.6 126.93 L436.1 126.93 L436.6 126.97 L437.1 126.96 L437.6 126.9 L438.1 126.82 L438.6 126.85 L439.1 126.85 L439.6 126.86 L440.1 126.89 L440.6 126.9 L441.1 126.89 L441.6 126.91 L442.1 126.88 L442.6 126.86 L443.1 126.86 L443.6 126.92 L444.1 126.93 L444.6 126.91 L445.1 126.92 L445.6 126.94 L446.1 126.89 L446.6 126.96 L447.1 126.93 L447.6 126.88 L448.1 126.89 L448.6 126.91 L449.1 126.95 L449.6 126.98 L450.1 126.93 L450.6 126.9 L451.1 126.89 L451.6 126.89 L452.1 126.86 L452.6 126.88 L453.1 126.93 L453.6 126.95 L454.1 126.92 L454.6 126.87 L455.1 126.91 L455.6 126.95 L456.1 126.88 L456.6 126.91 L457.1 126.97 L457.6 126.98 L458.1 126.97 L458.6 126.95 L459.1 126.91 L459.6 126.92 L460.1 126.96 L460.6 126.96 L461.1 126.97 L461.6 126.94 L462.1 126.92 L462.6 126.96 L463.1 126.94 L463.6 126.96 L464.1 126.92 L464.6 126.88 L465.1 126.9 L465.6 126.91 L466.1 126.8 L466.6 126.81 L467.1 126.86 L467.6 126.87 L468.1 126.84 L468.6 126.86 L469.1 126.9 L469.6 126.95 L470.1 126.86 L470.6 126.88 L471.1 126.87 L471.6 126.96 L472.1 126.95 L472.6 126.89 L473.1 126.92 L473.6 126.94 L474.1 126.96 L474.6 126.98 L475.1 126.93 L475.6 126.88 L476.1 126.9 L476.6 126.9 L477.1 126.88 L477.6 126.83 L478.1 126.88 L478.6 126.91 L479.1 126.46 L479.6 124.37 L480.1 122.76 L480.6 121.52 L481.1 120.61 L481.6 119.9 L482.1 119.39 L482.6 118.98 L483.1 118.74 L483.6 118.51 L484.1 118.35 L484.6 118.21 L485.1 118.1 L485.6 117.96 L486.1 117.92 L486.6 117.88 L487.1 117.91 L487.6 117.84 L488.1 117.86 L488.6 117.87 L489.1 117.85 L489.6 117.83 L490.1 117.85 L490.6 117.84" fill="none" stroke="#D51C24" stroke-width="0.85" stroke-linejoin="round"/>
<path d="M374.6 117.88 L375.1 117.77 L375.6 120.96 L376.1 122.63 L376.6 123.4 L377.1 123.69 L377.6 123.82 L378.1 123.9 L378.6 123.94 L379.1 123.94 L379.6 123.99 L380.1 124.02 L380.6 124.01 L381.1 124.04 L381.6 124.05 L382.1 124.1 L382.6 124.05 L383.1 124.07 L383.6 124.09 L384.1 124.12 L384.6 124.07 L385.1 124.08 L385.6 124.04 L386.1 124.09 L386.6 124.11 L387.1 124.15 L387.6 124.12 L388.1 124.17 L388.6 124.12 L389.1 124.06 L389.6 124.05 L390.1 124.07 L390.6 124.12 L391.1 124.09 L391.6 124.07 L392.1 124.1 L392.6 124.06 L393.1 124.11 L393.6 124.12 L394.1 124.08 L394.6 124.08 L395.1 124.07 L395.6 124.05 L396.1 124.08 L396.6 124.08 L397.1 124.12 L397.6 124.11 L398.1 124.05 L398.6 124.08 L399.1 124.11 L399.6 124.12 L400.1 124.06 L400.6 124.05 L401.1 124.03 L401.6 124.05 L402.1 124.04 L402.6 124.1 L403.1 124.11 L403.6 124.19 L404.1 124.17 L404.6 124.09 L405.1 124.09 L405.6 124.15 L406.1 124.12 L406.6 124.12 L407.1 124.14 L407.6 124.17 L408.1 124.18 L408.6 124.15 L409.1 124.09 L409.6 124.07 L410.1 124.1 L410.6 124.05 L411.1 124.07 L411.6 124.14 L412.1 124.08 L412.6 124.11 L413.1 124.08 L413.6 124.06 L414.1 124.09 L414.6 124.12 L415.1 124.11 L415.6 124.12 L416.1 124.14 L416.6 124.18 L417.1 124.12 L417.6 124.08 L418.1 124.15 L418.6 124.16 L419.1 124.11 L419.6 124.13 L420.1 124.17 L420.6 124.13 L421.1 124.13 L421.6 124.15 L422.1 124.11 L422.6 124.07 L423.1 124.11 L423.6 124.1 L424.1 124.11 L424.6 124.08 L425.1 124.11 L425.6 124.14 L426.1 124.13 L426.6 124.12 L427.1 124.08 L427.6 124.07 L428.1 124.04 L428.6 124.06 L429.1 124.09 L429.6 124.07 L430.1 124.04 L430.6 124.06 L431.1 124.1 L431.6 124.15 L432.1 124.07 L432.6 124.08 L433.1 124.14 L433.6 124.09 L434.1 124.08 L434.6 124.12 L435.1 124.12 L435.6 124.08 L436.1 124.05 L436.6 124.05 L437.1 124.07 L437.6 124.09 L438.1 124.12 L438.6 124.09 L439.1 124.11 L439.6 124.12 L440.1 124.1 L440.6 124.13 L441.1 124.11 L441.6 124.12 L442.1 124.09 L442.6 124.07 L443.1 124.06 L443.6 124.14 L444.1 124.14 L444.6 124.13 L445.1 124.09 L445.6 124.1 L446.1 124.06 L446.6 124.09 L447.1 124.09 L447.6 124.08 L448.1 124.1 L448.6 124.06 L449.1 124.03 L449.6 124.08 L450.1 124.05 L450.6 124.02 L451.1 124.1 L451.6 124.12 L452.1 124.13 L452.6 124.12 L453.1 124.07 L453.6 124.1 L454.1 124.1 L454.6 124.08 L455.1 124.09 L455.6 124.11 L456.1 124.11 L456.6 124.13 L457.1 124.14 L457.6 124.08 L458.1 124.11 L458.6 124.09 L459.1 124.15 L459.6 124.03 L460.1 124.05 L460.6 124.09 L461.1 124.13 L461.6 124.08 L462.1 124.09 L462.6 124.11 L463.1 124.09 L463.6 124.12 L464.1 124.09 L464.6 124.07 L465.1 124.12 L465.6 124.09 L466.1 124.08 L466.6 124.16 L467.1 124.18 L467.6 124.14 L468.1 124.14 L468.6 124.1 L469.1 124.06 L469.6 124.06 L470.1 124.11 L470.6 124.12 L471.1 124.09 L471.6 124.02 L472.1 124.09 L472.6 124.07 L473.1 124.11 L473.6 124.13 L474.1 124.16 L474.6 124.12 L475.1 124.08 L475.6 124.07 L476.1 124.09 L476.6 124.11 L477.1 124.07 L477.6 124.1 L478.1 124.07 L478.6 124.08 L479.1 123.74 L479.6 122.32 L480.1 121.31 L480.6 120.42 L481.1 119.73 L481.6 119.23 L482.1 118.89 L482.6 118.64 L483.1 118.46 L483.6 118.26 L484.1 118.11 L484.6 118.04 L485.1 118.04 L485.6 118.01 L486.1 117.99 L486.6 117.95 L487.1 117.94 L487.6 117.88 L488.1 117.9 L488.6 117.89 L489.1 117.89 L489.6 117.84 L490.1 117.82 L490.6 117.79" fill="none" stroke="#D51C24" stroke-width="0.85" stroke-linejoin="round"/>
<path d="M374.6 117.85 L375.1 117.78 L375.6 119.72 L376.1 120.68 L376.6 121.11 L377.1 121.36 L377.6 121.52 L378.1 121.58 L378.6 121.56 L379.1 121.58 L379.6 121.55 L380.1 121.49 L380.6 121.56 L381.1 121.6 L381.6 121.55 L382.1 121.61 L382.6 121.64 L383.1 121.7 L383.6 121.68 L384.1 121.7 L384.6 121.65 L385.1 121.62 L385.6 121.68 L386.1 121.68 L386.6 121.71 L387.1 121.66 L387.6 121.63 L388.1 121.65 L388.6 121.61 L389.1 121.63 L389.6 121.57 L390.1 121.51 L390.6 121.53 L391.1 121.58 L391.6 121.66 L392.1 121.63 L392.6 121.63 L393.1 121.61 L393.6 121.62 L394.1 121.65 L394.6 121.65 L395.1 121.65 L395.6 121.64 L396.1 121.62 L396.6 121.64 L397.1 121.69 L397.6 121.62 L398.1 121.68 L398.6 121.57 L399.1 121.53 L399.6 121.58 L400.1 121.57 L400.6 121.66 L401.1 121.66 L401.6 121.58 L402.1 121.59 L402.6 121.61 L403.1 121.65 L403.6 121.61 L404.1 121.55 L404.6 121.53 L405.1 121.59 L405.6 121.64 L406.1 121.56 L406.6 121.59 L407.1 121.57 L407.6 121.59 L408.1 121.62 L408.6 121.6 L409.1 121.6 L409.6 121.53 L410.1 121.56 L410.6 121.63 L411.1 121.6 L411.6 121.61 L412.1 121.63 L412.6 121.7 L413.1 121.63 L413.6 121.65 L414.1 121.62 L414.6 121.61 L415.1 121.61 L415.6 121.55 L416.1 121.59 L416.6 121.57 L417.1 121.59 L417.6 121.63 L418.1 121.61 L418.6 121.56 L419.1 121.54 L419.6 121.59 L420.1 121.64 L420.6 121.69 L421.1 121.61 L421.6 121.61 L422.1 121.61 L422.6 121.59 L423.1 121.59 L423.6 121.56 L424.1 121.58 L424.6 121.57 L425.1 121.58 L425.6 121.64 L426.1 121.59 L426.6 121.6 L427.1 121.58 L427.6 121.57 L428.1 121.58 L428.6 121.59 L429.1 121.6 L429.6 121.58 L430.1 121.61 L430.6 121.57 L431.1 121.54 L431.6 121.53 L432.1 121.6 L432.6 121.65 L433.1 121.61 L433.6 121.67 L434.1 121.66 L434.6 121.58 L435.1 121.6 L435.6 121.57 L436.1 121.54 L436.6 121.49 L437.1 121.54 L437.6 121.58 L438.1 121.55 L438.6 121.59 L439.1 121.61 L439.6 121.63 L440.1 121.64 L440.6 121.6 L441.1 121.61 L441.6 121.62 L442.1 121.59 L442.6 121.59 L443.1 121.55 L443.6 121.58 L444.1 121.55 L444.6 121.58 L445.1 121.59 L445.6 121.59 L446.1 121.62 L446.6 121.6 L447.1 121.66 L447.6 121.65 L448.1 121.59 L448.6 121.58 L449.1 121.6 L449.6 121.66 L450.1 121.62 L450.6 121.66 L451.1 121.64 L451.6 121.67 L452.1 121.62 L452.6 121.59 L453.1 121.58 L453.6 121.59 L454.1 121.56 L454.6 121.53 L455.1 121.59 L455.6 121.63 L456.1 121.61 L456.6 121.59 L457.1 121.63 L457.6 121.56 L458.1 121.6 L458.6 121.61 L459.1 121.63 L459.6 121.63 L460.1 121.65 L460.6 121.65 L461.1 121.63 L461.6 121.65 L462.1 121.6 L462.6 121.61 L463.1 121.62 L463.6 121.56 L464.1 121.59 L464.6 121.61 L465.1 121.64 L465.6 121.62 L466.1 121.66 L466.6 121.67 L467.1 121.66 L467.6 121.52 L468.1 121.56 L468.6 121.58 L469.1 121.59 L469.6 121.56 L470.1 121.61 L470.6 121.59 L471.1 121.59 L471.6 121.61 L472.1 121.64 L472.6 121.61 L473.1 121.57 L473.6 121.6 L474.1 121.61 L474.6 121.54 L475.1 121.54 L475.6 121.57 L476.1 121.52 L476.6 121.59 L477.1 121.55 L477.6 121.6 L478.1 121.56 L478.6 121.56 L479.1 121.35 L479.6 120.48 L480.1 119.77 L480.6 119.28 L481.1 118.97 L481.6 118.7 L482.1 118.55 L482.6 118.29 L483.1 118.23 L483.6 118.12 L484.1 117.99 L484.6 117.9 L485.1 117.87 L485.6 117.87 L486.1 117.84 L486.6 117.89 L487.1 117.86 L487.6 117.82 L488.1 117.78 L488.6 117.75 L489.1 117.77 L489.6 117.78 L490.1 117.76 L490.6 117.79" fill="none" stroke="#D51C24" stroke-width="0.85" stroke-linejoin="round"/>
<path d="M358.3 117.77 L358.8 117.77 L359.3 117.82 L359.8 117.85 L360.3 117.81 L360.8 117.87 L361.3 117.83 L361.8 117.86 L362.3 117.84 L362.8 117.81 L363.3 117.8 L363.8 117.79 L364.3 117.8 L364.8 117.8 L365.3 117.79 L365.8 117.76 L366.3 117.79 L366.8 117.83 L367.3 117.78 L367.8 117.79 L368.3 117.82 L368.8 117.84 L369.3 117.8 L369.8 117.89 L370.3 117.82 L370.8 117.84 L371.3 117.84 L371.8 117.91 L372.3 117.85 L372.8 117.87 L373.3 117.86 L373.8 117.81 L374.3 117.8 L374.8 117.77 L375.3 118.04 L375.8 118.43 L376.3 118.55 L376.8 118.69 L377.3 118.76 L377.8 118.82 L378.3 118.81 L378.8 118.78 L379.3 118.81 L379.8 118.84 L380.3 118.75 L380.8 118.81 L381.3 118.83 L381.8 118.8 L382.3 118.77 L382.8 118.77 L383.3 118.82 L383.8 118.82 L384.3 118.84 L384.8 118.81 L385.3 118.76 L385.8 118.75 L386.3 118.84 L386.8 118.86 L387.3 118.86 L387.8 118.85 L388.3 118.83 L388.8 118.81 L389.3 118.79 L389.8 118.81 L390.3 118.8 L390.8 118.8 L391.3 118.81 L391.8 118.83 L392.3 118.83 L392.8 118.83 L393.3 118.83 L393.8 118.86 L394.3 118.88 L394.8 118.9 L395.3 118.83 L395.8 118.83 L396.3 118.82 L396.8 118.88 L397.3 118.9 L397.8 118.88 L398.3 118.92 L398.8 118.92 L399.3 118.83 L399.8 118.84 L400.3 118.84 L400.8 118.81 L401.3 118.86 L401.8 118.85 L402.3 118.79 L402.8 118.76 L403.3 118.77 L403.8 118.82 L404.3 118.83 L404.8 118.85 L405.3 118.82 L405.8 118.86 L406.3 118.83 L406.8 118.84 L407.3 118.82 L407.8 118.8 L408.3 118.81 L408.8 118.77 L409.3 118.78 L409.8 118.81 L410.3 118.76 L410.8 118.78 L411.3 118.78 L411.8 118.75 L412.3 118.71 L412.8 118.78 L413.3 118.78 L413.8 118.88 L414.3 118.93 L414.8 118.81 L415.3 118.83 L415.8 118.81 L416.3 118.83 L416.8 118.77 L417.3 118.82 L417.8 118.93 L418.3 118.84 L418.8 118.77 L419.3 118.77 L419.8 118.78 L420.3 118.8 L420.8 118.78 L421.3 118.79 L421.8 118.84 L422.3 118.84 L422.8 118.86 L423.3 118.83 L423.8 118.8 L424.3 118.79 L424.8 118.78 L425.3 118.74 L425.8 118.77 L426.3 118.78 L426.8 118.78 L427.3 118.82 L427.8 118.89 L428.3 118.83 L428.8 118.84 L429.3 118.79 L429.8 118.83 L430.3 118.81 L430.8 118.76 L431.3 118.74 L431.8 118.79 L432.3 118.77 L432.8 118.78 L433.3 118.87 L433.8 118.82 L434.3 118.83 L434.8 118.71 L435.3 118.68 L435.8 118.74 L436.3 118.77 L436.8 118.84 L437.3 118.81 L437.8 118.72 L438.3 118.79 L438.8 118.73 L439.3 118.75 L439.8 118.83 L440.3 118.79 L440.8 118.8 L441.3 118.76 L441.8 118.82 L442.3 118.85 L442.8 118.77 L443.3 118.77 L443.8 118.77 L444.3 118.8 L444.8 118.84 L445.3 118.83 L445.8 118.85 L446.3 118.85 L446.8 118.84 L447.3 118.82 L447.8 118.79 L448.3 118.81 L448.8 118.78 L449.3 118.81 L449.8 118.78 L450.3 118.78 L450.8 118.83 L451.3 118.85 L451.8 118.83 L452.3 118.82 L452.8 118.81 L453.3 118.83 L453.8 118.79 L454.3 118.88 L454.8 118.85 L455.3 118.83 L455.8 118.85 L456.3 118.84 L456.8 118.83 L457.3 118.81 L457.8 118.76 L458.3 118.75 L458.8 118.77 L459.3 118.76 L459.8 118.87 L460.3 118.77 L460.8 118.86 L461.3 118.85 L461.8 118.82 L462.3 118.81 L462.8 118.8 L463.3 118.79 L463.8 118.73 L464.3 118.74 L464.8 118.72 L465.3 118.76 L465.8 118.76 L466.3 118.75 L466.8 118.76 L467.3 118.76 L467.8 118.79 L468.3 118.78 L468.8 118.74 L469.3 118.78 L469.8 118.74 L470.3 118.7 L470.8 118.69 L471.3 118.75 L471.8 118.73 L472.3 118.72 L472.8 118.82 L473.3 118.8 L473.8 118.81 L474.3 118.78 L474.8 118.84 L475.3 118.87 L475.8 118.82 L476.3 118.77 L476.8 118.71 L477.3 118.75 L477.8 118.73 L478.3 118.7 L478.8 118.76 L479.3 118.61 L479.8 118.44 L480.3 118.24 L480.8 118.09 L481.3 118.04 L481.8 118.04 L482.3 117.99 L482.8 117.93 L483.3 117.92 L483.8 117.92 L484.3 117.84 L484.8 117.91 L485.3 117.91 L485.8 117.87 L486.3 117.86 L486.8 117.79 L487.3 117.84 L487.8 117.91 L488.3 117.87 L488.8 117.86 L489.3 117.83 L489.8 117.82 L490.3 117.78 L490.8 117.79 L491.3 117.83 L491.8 117.81 L492.3 117.84 L492.8 117.77 L493.3 117.76 L493.8 117.76 L494.3 117.77 L494.8 117.82 L495.3 117.77 L495.8 117.81 L496.3 117.78 L496.8 117.79 L497.3 117.7 L497.8 117.67 L498.3 117.73 L498.8 117.79 L499.3 117.81 L499.8 117.81 L500.3 117.84 L500.8 117.84 L501.3 117.85" fill="none" stroke="#D51C24" stroke-width="0.85" stroke-linejoin="round"/>
<path d="M374.6 117.75 L375.1 117.97 L375.6 116.76 L376.1 115.96 L376.6 115.46 L377.1 115.2 L377.6 115 L378.1 114.86 L378.6 114.83 L379.1 114.79 L379.6 114.75 L380.1 114.67 L380.6 114.68 L381.1 114.65 L381.6 114.65 L382.1 114.63 L382.6 114.56 L383.1 114.57 L383.6 114.58 L384.1 114.54 L384.6 114.53 L385.1 114.62 L385.6 114.62 L386.1 114.69 L386.6 114.68 L387.1 114.64 L387.6 114.61 L388.1 114.67 L388.6 114.61 L389.1 114.63 L389.6 114.61 L390.1 114.58 L390.6 114.58 L391.1 114.57 L391.6 114.64 L392.1 114.61 L392.6 114.59 L393.1 114.52 L393.6 114.53 L394.1 114.49 L394.6 114.51 L395.1 114.45 L395.6 114.47 L396.1 114.56 L396.6 114.58 L397.1 114.54 L397.6 114.55 L398.1 114.62 L398.6 114.6 L399.1 114.55 L399.6 114.58 L400.1 114.53 L400.6 114.55 L401.1 114.57 L401.6 114.58 L402.1 114.56 L402.6 114.64 L403.1 114.68 L403.6 114.67 L404.1 114.69 L404.6 114.66 L405.1 114.64 L405.6 114.6 L406.1 114.58 L406.6 114.6 L407.1 114.58 L407.6 114.54 L408.1 114.54 L408.6 114.54 L409.1 114.48 L409.6 114.48 L410.1 114.54 L410.6 114.47 L411.1 114.52 L411.6 114.59 L412.1 114.56 L412.6 114.59 L413.1 114.6 L413.6 114.57 L414.1 114.52 L414.6 114.52 L415.1 114.55 L415.6 114.56 L416.1 114.56 L416.6 114.61 L417.1 114.62 L417.6 114.59 L418.1 114.6 L418.6 114.56 L419.1 114.49 L419.6 114.5 L420.1 114.56 L420.6 114.58 L421.1 114.59 L421.6 114.6 L422.1 114.57 L422.6 114.62 L423.1 114.58 L423.6 114.57 L424.1 114.58 L424.6 114.54 L425.1 114.59 L425.6 114.63 L426.1 114.62 L426.6 114.57 L427.1 114.63 L427.6 114.58 L428.1 114.57 L428.6 114.57 L429.1 114.61 L429.6 114.54 L430.1 114.6 L430.6 114.62 L431.1 114.6 L431.6 114.54 L432.1 114.6 L432.6 114.49 L433.1 114.49 L433.6 114.57 L434.1 114.59 L434.6 114.56 L435.1 114.54 L435.6 114.5 L436.1 114.55 L436.6 114.51 L437.1 114.52 L437.6 114.56 L438.1 114.54 L438.6 114.54 L439.1 114.59 L439.6 114.52 L440.1 114.53 L440.6 114.59 L441.1 114.57 L441.6 114.54 L442.1 114.55 L442.6 114.49 L443.1 114.51 L443.6 114.54 L444.1 114.53 L444.6 114.59 L445.1 114.51 L445.6 114.54 L446.1 114.55 L446.6 114.56 L447.1 114.51 L447.6 114.58 L448.1 114.57 L448.6 114.57 L449.1 114.56 L449.6 114.53 L450.1 114.53 L450.6 114.52 L451.1 114.53 L451.6 114.58 L452.1 114.59 L452.6 114.54 L453.1 114.53 L453.6 114.53 L454.1 114.52 L454.6 114.54 L455.1 114.55 L455.6 114.49 L456.1 114.51 L456.6 114.48 L457.1 114.49 L457.6 114.49 L458.1 114.48 L458.6 114.52 L459.1 114.51 L459.6 114.57 L460.1 114.56 L460.6 114.57 L461.1 114.54 L461.6 114.6 L462.1 114.54 L462.6 114.5 L463.1 114.45 L463.6 114.53 L464.1 114.56 L464.6 114.53 L465.1 114.46 L465.6 114.45 L466.1 114.48 L466.6 114.52 L467.1 114.55 L467.6 114.56 L468.1 114.54 L468.6 114.51 L469.1 114.41 L469.6 114.5 L470.1 114.47 L470.6 114.49 L471.1 114.54 L471.6 114.46 L472.1 114.47 L472.6 114.5 L473.1 114.46 L473.6 114.44 L474.1 114.51 L474.6 114.48 L475.1 114.48 L475.6 114.53 L476.1 114.51 L476.6 114.54 L477.1 114.45 L477.6 114.49 L478.1 114.56 L478.6 114.49 L479.1 114.57 L479.6 115.31 L480.1 115.92 L480.6 116.39 L481.1 116.65 L481.6 116.85 L482.1 116.98 L482.6 117.24 L483.1 117.43 L483.6 117.51 L484.1 117.58 L484.6 117.59 L485.1 117.65 L485.6 117.66 L486.1 117.7 L486.6 117.68 L487.1 117.7 L487.6 117.74 L488.1 117.77 L488.6 117.72 L489.1 117.83 L489.6 117.87 L490.1 117.84 L490.6 117.86" fill="none" stroke="#D51C24" stroke-width="0.85" stroke-linejoin="round"/>
<path d="M374.6 117.76 L375.1 118.12 L375.6 116.18 L376.1 114.58 L376.6 113.43 L377.1 112.56 L377.6 111.95 L378.1 111.48 L378.6 111.07 L379.1 110.81 L379.6 110.52 L380.1 110.44 L380.6 110.31 L381.1 110.26 L381.6 110.18 L382.1 110.15 L382.6 110.15 L383.1 110.09 L383.6 110.03 L384.1 110.01 L384.6 110.01 L385.1 110.04 L385.6 109.99 L386.1 109.99 L386.6 110.04 L387.1 110.01 L387.6 110 L388.1 110.01 L388.6 110.01 L389.1 110.03 L389.6 110.02 L390.1 109.93 L390.6 109.95 L391.1 110.02 L391.6 109.96 L392.1 109.98 L392.6 109.96 L393.1 109.96 L393.6 110.01 L394.1 110.01 L394.6 109.98 L395.1 109.94 L395.6 110 L396.1 109.95 L396.6 109.95 L397.1 109.96 L397.6 109.91 L398.1 109.91 L398.6 109.93 L399.1 109.95 L399.6 109.94 L400.1 109.94 L400.6 109.94 L401.1 109.89 L401.6 109.9 L402.1 109.95 L402.6 109.95 L403.1 109.97 L403.6 109.98 L404.1 110.02 L404.6 109.93 L405.1 109.95 L405.6 109.9 L406.1 109.96 L406.6 109.9 L407.1 109.88 L407.6 109.86 L408.1 109.91 L408.6 109.95 L409.1 110.02 L409.6 109.96 L410.1 109.9 L410.6 109.9 L411.1 109.89 L411.6 109.88 L412.1 109.91 L412.6 109.91 L413.1 109.9 L413.6 109.84 L414.1 109.89 L414.6 109.9 L415.1 109.85 L415.6 109.86 L416.1 109.9 L416.6 109.89 L417.1 109.86 L417.6 109.87 L418.1 109.84 L418.6 109.86 L419.1 109.83 L419.6 109.89 L420.1 109.79 L420.6 109.75 L421.1 109.87 L421.6 109.95 L422.1 109.92 L422.6 109.95 L423.1 109.92 L423.6 109.86 L424.1 109.9 L424.6 109.88 L425.1 109.89 L425.6 109.89 L426.1 109.84 L426.6 109.85 L427.1 109.81 L427.6 109.89 L428.1 109.89 L428.6 109.88 L429.1 109.91 L429.6 109.91 L430.1 109.89 L430.6 109.84 L431.1 109.79 L431.6 109.79 L432.1 109.78 L432.6 109.8 L433.1 109.77 L433.6 109.81 L434.1 109.86 L434.6 109.8 L435.1 109.78 L435.6 109.81 L436.1 109.85 L436.6 109.83 L437.1 109.84 L437.6 109.8 L438.1 109.86 L438.6 109.83 L439.1 109.81 L439.6 109.81 L440.1 109.8 L440.6 109.81 L441.1 109.79 L441.6 109.82 L442.1 109.83 L442.6 109.8 L443.1 109.8 L443.6 109.86 L444.1 109.79 L444.6 109.78 L445.1 109.85 L445.6 109.81 L446.1 109.77 L446.6 109.78 L447.1 109.87 L447.6 109.85 L448.1 109.82 L448.6 109.8 L449.1 109.82 L449.6 109.82 L450.1 109.84 L450.6 109.83 L451.1 109.8 L451.6 109.81 L452.1 109.77 L452.6 109.85 L453.1 109.83 L453.6 109.8 L454.1 109.82 L454.6 109.82 L455.1 109.83 L455.6 109.82 L456.1 109.81 L456.6 109.8 L457.1 109.83 L457.6 109.78 L458.1 109.78 L458.6 109.71 L459.1 109.72 L459.6 109.73 L460.1 109.71 L460.6 109.78 L461.1 109.74 L461.6 109.71 L462.1 109.71 L462.6 109.72 L463.1 109.75 L463.6 109.78 L464.1 109.73 L464.6 109.8 L465.1 109.82 L465.6 109.8 L466.1 109.77 L466.6 109.75 L467.1 109.72 L467.6 109.66 L468.1 109.67 L468.6 109.67 L469.1 109.73 L469.6 109.72 L470.1 109.7 L470.6 109.68 L471.1 109.67 L471.6 109.71 L472.1 109.71 L472.6 109.71 L473.1 109.7 L473.6 109.71 L474.1 109.73 L474.6 109.75 L475.1 109.77 L475.6 109.77 L476.1 109.8 L476.6 109.8 L477.1 109.79 L477.6 109.77 L478.1 109.73 L478.6 109.73 L479.1 110.12 L479.6 111.53 L480.1 112.79 L480.6 113.76 L481.1 114.58 L481.6 115.24 L482.1 115.73 L482.6 116.2 L483.1 116.49 L483.6 116.75 L484.1 116.99 L484.6 117.15 L485.1 117.26 L485.6 117.4 L486.1 117.42 L486.6 117.5 L487.1 117.51 L487.6 117.65 L488.1 117.72 L488.6 117.77 L489.1 117.8 L489.6 117.77 L490.1 117.74 L490.6 117.74" fill="none" stroke="#D51C24" stroke-width="0.85" stroke-linejoin="round"/>
<path d="M374.6 117.77 L375.1 118.47 L375.6 115.77 L376.1 113.53 L376.6 111.58 L377.1 109.97 L377.6 108.56 L378.1 107.42 L378.6 106.42 L379.1 105.6 L379.6 104.91 L380.1 104.31 L380.6 103.82 L381.1 103.44 L381.6 103.03 L382.1 102.66 L382.6 102.49 L383.1 102.36 L383.6 102.12 L384.1 102.01 L384.6 101.88 L385.1 101.74 L385.6 101.58 L386.1 101.6 L386.6 101.51 L387.1 101.39 L387.6 101.37 L388.1 101.33 L388.6 101.26 L389.1 101.32 L389.6 101.28 L390.1 101.23 L390.6 101.21 L391.1 101.25 L391.6 101.29 L392.1 101.22 L392.6 101.15 L393.1 101.17 L393.6 101.2 L394.1 101.13 L394.6 101.07 L395.1 101.09 L395.6 101.11 L396.1 101.09 L396.6 101.07 L397.1 101.05 L397.6 101.05 L398.1 101.06 L398.6 101.05 L399.1 101.11 L399.6 101.06 L400.1 101.04 L400.6 101.02 L401.1 101.01 L401.6 100.97 L402.1 100.97 L402.6 100.98 L403.1 100.93 L403.6 100.95 L404.1 101.02 L404.6 101.06 L405.1 101.01 L405.6 101.01 L406.1 101 L406.6 101.03 L407.1 100.98 L407.6 100.94 L408.1 100.98 L408.6 100.95 L409.1 100.85 L409.6 100.88 L410.1 100.91 L410.6 100.93 L411.1 100.93 L411.6 100.96 L412.1 100.98 L412.6 100.99 L413.1 101.04 L413.6 101.01 L414.1 100.91 L414.6 100.92 L415.1 100.9 L415.6 100.86 L416.1 100.88 L416.6 100.86 L417.1 100.88 L417.6 100.86 L418.1 100.83 L418.6 100.84 L419.1 100.87 L419.6 100.86 L420.1 100.83 L420.6 100.91 L421.1 100.93 L421.6 100.82 L422.1 100.86 L422.6 100.88 L423.1 100.92 L423.6 100.93 L424.1 100.9 L424.6 100.83 L425.1 100.85 L425.6 100.81 L426.1 100.75 L426.6 100.76 L427.1 100.76 L427.6 100.75 L428.1 100.75 L428.6 100.76 L429.1 100.79 L429.6 100.76 L430.1 100.81 L430.6 100.84 L431.1 100.8 L431.6 100.82 L432.1 100.78 L432.6 100.78 L433.1 100.76 L433.6 100.8 L434.1 100.73 L434.6 100.82 L435.1 100.81 L435.6 100.81 L436.1 100.79 L436.6 100.75 L437.1 100.72 L437.6 100.75 L438.1 100.74 L438.6 100.77 L439.1 100.84 L439.6 100.81 L440.1 100.82 L440.6 100.78 L441.1 100.74 L441.6 100.75 L442.1 100.81 L442.6 100.81 L443.1 100.79 L443.6 100.75 L444.1 100.74 L444.6 100.79 L445.1 100.77 L445.6 100.71 L446.1 100.69 L446.6 100.72 L447.1 100.73 L447.6 100.66 L448.1 100.68 L448.6 100.68 L449.1 100.6 L449.6 100.58 L450.1 100.61 L450.6 100.6 L451.1 100.64 L451.6 100.67 L452.1 100.67 L452.6 100.66 L453.1 100.68 L453.6 100.62 L454.1 100.57 L454.6 100.62 L455.1 100.67 L455.6 100.65 L456.1 100.68 L456.6 100.7 L457.1 100.65 L457.6 100.66 L458.1 100.7 L458.6 100.65 L459.1 100.66 L459.6 100.66 L460.1 100.62 L460.6 100.66 L461.1 100.62 L461.6 100.65 L462.1 100.64 L462.6 100.61 L463.1 100.6 L463.6 100.57 L464.1 100.66 L464.6 100.6 L465.1 100.57 L465.6 100.62 L466.1 100.63 L466.6 100.63 L467.1 100.57 L467.6 100.54 L468.1 100.54 L468.6 100.56 L469.1 100.59 L469.6 100.61 L470.1 100.6 L470.6 100.61 L471.1 100.53 L471.6 100.48 L472.1 100.48 L472.6 100.5 L473.1 100.49 L473.6 100.49 L474.1 100.51 L474.6 100.5 L475.1 100.5 L475.6 100.55 L476.1 100.55 L476.6 100.52 L477.1 100.52 L477.6 100.53 L478.1 100.53 L478.6 100.55 L479.1 101.08 L479.6 103.82 L480.1 106.04 L480.6 107.97 L481.1 109.5 L481.6 110.89 L482.1 112.03 L482.6 112.94 L483.1 113.74 L483.6 114.38 L484.1 114.98 L484.6 115.42 L485.1 115.78 L485.6 116.08 L486.1 116.36 L486.6 116.62 L487.1 116.83 L487.6 116.96 L488.1 117.08 L488.6 117.17 L489.1 117.26 L489.6 117.35 L490.1 117.45 L490.6 117.53" fill="none" stroke="#D51C24" stroke-width="0.85" stroke-linejoin="round"/>
<path d="M374.6 117.77 L375.1 119.09 L375.6 116.14 L376.1 113.41 L376.6 110.97 L377.1 108.83 L377.6 106.93 L378.1 105.27 L378.6 103.78 L379.1 102.37 L379.6 101.18 L380.1 100.18 L380.6 99.23 L381.1 98.44 L381.6 97.63 L382.1 97.06 L382.6 96.47 L383.1 95.86 L383.6 95.47 L384.1 95 L384.6 94.66 L385.1 94.35 L385.6 94.08 L386.1 93.85 L386.6 93.51 L387.1 93.31 L387.6 93.11 L388.1 92.95 L388.6 92.84 L389.1 92.87 L389.6 92.7 L390.1 92.53 L390.6 92.57 L391.1 92.47 L391.6 92.35 L392.1 92.35 L392.6 92.29 L393.1 92.23 L393.6 92.06 L394.1 92.1 L394.6 92.01 L395.1 91.98 L395.6 91.96 L396.1 91.99 L396.6 91.99 L397.1 91.89 L397.6 91.82 L398.1 91.75 L398.6 91.74 L399.1 91.75 L399.6 91.74 L400.1 91.72 L400.6 91.66 L401.1 91.63 L401.6 91.66 L402.1 91.7 L402.6 91.7 L403.1 91.65 L403.6 91.67 L404.1 91.7 L404.6 91.62 L405.1 91.55 L405.6 91.6 L406.1 91.68 L406.6 91.65 L407.1 91.63 L407.6 91.59 L408.1 91.63 L408.6 91.52 L409.1 91.53 L409.6 91.5 L410.1 91.4 L410.6 91.42 L411.1 91.45 L411.6 91.46 L412.1 91.46 L412.6 91.45 L413.1 91.48 L413.6 91.4 L414.1 91.36 L414.6 91.42 L415.1 91.45 L415.6 91.49 L416.1 91.4 L416.6 91.46 L417.1 91.48 L417.6 91.46 L418.1 91.38 L418.6 91.42 L419.1 91.46 L419.6 91.41 L420.1 91.42 L420.6 91.42 L421.1 91.43 L421.6 91.43 L422.1 91.43 L422.6 91.33 L423.1 91.31 L423.6 91.24 L424.1 91.32 L424.6 91.35 L425.1 91.35 L425.6 91.42 L426.1 91.32 L426.6 91.38 L427.1 91.29 L427.6 91.2 L428.1 91.2 L428.6 91.2 L429.1 91.21 L429.6 91.22 L430.1 91.24 L430.6 91.27 L431.1 91.22 L431.6 91.16 L432.1 91.21 L432.6 91.27 L433.1 91.28 L433.6 91.27 L434.1 91.15 L434.6 91.19 L435.1 91.15 L435.6 91.2 L436.1 91.25 L436.6 91.19 L437.1 91.13 L437.6 91.11 L438.1 91.37 L438.6 92.4 L439.1 93.14 L439.6 93.8 L440.1 94.26 L440.6 94.66 L441.1 95.05 L441.6 95.29 L442.1 95.38 L442.6 95.53 L443.1 95.76 L443.6 95.77 L444.1 95.94 L444.6 96 L445.1 95.98 L445.6 96.01 L446.1 96.06 L446.6 96 L447.1 95.77 L447.6 95.64 L448.1 95.53 L448.6 95.43 L449.1 95.4 L449.6 95.29 L450.1 95.12 L450.6 94.87 L451.1 94.73 L451.6 94.56 L452.1 94.45 L452.6 94.34 L453.1 94.24 L453.6 94.16 L454.1 94.05 L454.6 94 L455.1 93.94 L455.6 93.75 L456.1 93.59 L456.6 93.49 L457.1 93.33 L457.6 93.31 L458.1 93.26 L458.6 93.21 L459.1 93.23 L459.6 93.16 L460.1 93.1 L460.6 92.99 L461.1 92.87 L461.6 92.69 L462.1 92.64 L462.6 92.61 L463.1 92.51 L463.6 92.44 L464.1 92.43 L464.6 92.47 L465.1 92.37 L465.6 92.29 L466.1 92.2 L466.6 92.16 L467.1 92.07 L467.6 92.06 L468.1 91.98 L468.6 92.02 L469.1 91.92 L469.6 91.83 L470.1 91.84 L470.6 91.83 L471.1 91.73 L471.6 91.72 L472.1 91.69 L472.6 91.72 L473.1 91.62 L473.6 91.49 L474.1 91.5 L474.6 91.52 L475.1 91.53 L475.6 91.46 L476.1 91.34 L476.6 91.23 L477.1 91.38 L477.6 91.34 L478.1 91.3 L478.6 91.29 L479.1 91.64 L479.6 96.18 L480.1 99.95 L480.6 103.07 L481.1 105.71 L481.6 107.91 L482.1 109.67 L482.6 111.1 L483.1 112.19 L483.6 113.13 L484.1 113.97 L484.6 114.6 L485.1 115.14 L485.6 115.74 L486.1 116.06 L486.6 116.35 L487.1 116.51 L487.6 116.77 L488.1 116.97 L488.6 117.1 L489.1 117.25 L489.6 117.22 L490.1 117.41 L490.6 117.55" fill="none" stroke="#D51C24" stroke-width="0.8" stroke-linejoin="round"/>
<path d="M374.6 117.8 L374.85 117.8 L375.1 117.8 L375.35 115.47 L375.6 113.32 L375.85 111.32 L376.1 109.48 L376.35 107.78 L376.6 106.2 L376.85 104.74 L377.1 103.39 L377.35 102.15 L377.6 100.99 L377.85 99.93 L378.1 98.94 L378.35 98.03 L378.6 97.18 L378.85 96.4 L379.1 95.68 L379.35 95.01 L379.6 94.4 L379.85 93.83 L380.1 93.3 L380.35 92.81 L380.6 92.36 L380.85 91.94 L381.1 91.54 L381.35 91.14 L381.6 90.73 L381.85 90.31 L382.1 89.87 L382.35 89.43 L382.6 88.97 L382.85 88.49 L383.1 87.99 L383.35 87.47 L383.6 86.94 L383.85 86.38 L384.1 85.79 L383.95 80.5 L384.4 71.5 L384.58 55.5 L384.8 30.6 L385 30.6 L385.22 55.5 L385.4 71.5 L385.7 82.5 L385.9 84.59 L386.15 85.45 L386.4 86.08 L386.65 86.54 L386.9 86.88 L387.15 87.13 L387.4 87.31 L387.65 87.44 L387.9 87.54 L388.15 87.61 L388.4 87.66 L388.65 87.7 L388.9 87.72 L389.15 87.74 L389.4 87.76 L389.65 87.76 L389.9 87.76 L390.15 87.76 L390.4 87.75 L390.65 87.73 L390.9 87.71 L391.15 87.68 L391.4 87.65 L391.65 87.61 L391.9 87.57 L392.15 87.52 L392.4 87.46 L392.65 87.39 L392.9 87.32 L393.15 87.24 L393.4 87.16 L393.65 87.06 L393.9 86.96 L394.15 86.85 L394.4 86.73 L394.65 86.6 L394.9 86.46 L395.15 86.31 L395.4 86.15 L395.65 85.99 L395.9 85.81 L396.15 85.62 L396.4 85.42 L396.65 85.21 L396.9 84.99 L397.15 84.76 L397.4 84.52 L397.65 84.27 L397.9 84 L398.15 83.72 L398.4 83.44 L398.65 83.13 L398.9 82.82 L399.15 82.49 L399.4 82.15 L399.65 81.8 L399.55 80.5 L400 71.5 L400.18 55.5 L400.4 30.6 L400.6 30.6 L400.82 55.5 L401 71.5 L401.3 82.5 L401.5 84.59 L401.75 85.45 L402 86.08 L402.25 86.54 L402.5 86.88 L402.75 87.12 L403 87.28 L403.25 87.38 L403.5 87.42 L403.75 87.42 L404 87.37 L404.25 87.28 L404.5 87.14 L404.75 86.97 L405 86.75 L405.25 86.5 L405.5 86.19 L405.75 85.85 L406 85.46 L406.25 85.02 L406.5 84.53 L406.75 84 L407 83.41 L407.25 82.77 L407.05 80.5 L407.5 71.5 L407.68 55.5 L407.9 30.6 L408.1 30.6 L408.32 55.5 L408.5 71.5 L408.8 82.5 L409 84.59 L409.25 85.45 L409.5 86.08 L409.75 86.54 L410 86.88 L410.25 87.13 L410.5 87.31 L410.75 87.44 L411 87.54 L411.25 87.61 L411.5 87.66 L411.75 87.7 L412 87.72 L412.25 87.74 L412.5 87.76 L412.75 87.76 L413 87.76 L413.25 87.75 L413.5 87.74 L413.75 87.72 L414 87.7 L414.25 87.67 L414.5 87.64 L414.75 87.6 L415 87.55 L415.25 87.49 L415.5 87.43 L415.75 87.37 L416 87.29 L416.25 87.21 L416.5 87.11 L416.75 87.01 L417 86.91 L417.25 86.79 L417.5 86.66 L417.75 86.53 L418 86.38 L418.25 86.23 L418.5 86.06 L418.75 85.89 L419 85.7 L419.25 85.51 L419.5 85.3 L419.75 85.08 L420 84.85 L420.25 84.61 L420.5 84.36 L420.75 84.09 L421 83.82 L421.25 83.53 L421.5 83.23 L421.75 82.91 L422 82.58 L422.25 82.24 L422.5 81.89 L422.75 81.52 L422.45 80.5 L422.9 71.5 L423.08 55.5 L423.3 30.6 L423.5 30.6 L423.72 55.5 L423.9 71.5 L424.2 82.5 L424.4 84.59 L424.65 85.45 L424.9 86.08 L425.15 86.54 L425.4 86.88 L425.65 87.11 L425.9 87.27 L426.15 87.35 L426.4 87.38 L426.65 87.35 L426.9 87.27 L427.15 87.14 L427.4 86.97 L427.65 86.75 L427.9 86.48 L428.15 86.16 L428.4 85.8 L428.65 85.38 L428.9 84.91 L429.15 84.38 L429.4 83.79 L429.65 83.15 L429.55 80.5 L430 71.5 L430.18 55.5 L430.4 30.6 L430.6 30.6 L430.82 55.5 L431 71.5 L431.3 82.5 L431.5 84.59 L431.75 85.45 L432 86.08 L432.25 86.54 L432.5 86.88 L432.75 87.13 L433 87.31 L433.25 87.44 L433.5 87.54 L433.75 87.6 L434 87.65 L434.25 87.67 L434.5 87.68 L434.75 87.67 L435 87.64 L435.25 87.61 L435.5 87.55 L435.75 87.49 L436 87.41 L436.25 87.31 L436.5 87.2 L436.75 87.07 L437 86.93 L437.25 86.77 L437.5 86.59 L437.75 86.4 L438 86.19 L438.25 85.95 L438.5 85.7 L438.75 85.43 L439 85.14 L439.25 84.82 L439.5 84.49 L439.75 84.13 L440 83.74 L440.25 83.34 L440.5 82.91 L440.75 82.46 L441 81.98 L440.75 80.5 L441.2 71.5 L441.38 55.5 L441.6 30.6 L441.8 30.6 L442.02 55.5 L442.2 71.5 L442.5 82.5 L442.7 84.59 L442.95 85.45 L443.2 86.08 L443.45 86.54 L443.7 86.88 L443.95 87.13 L444.2 87.3 L444.45 87.41 L444.7 87.48 L444.95 87.5 L445.2 87.49 L445.45 87.44 L445.7 87.36 L445.95 87.24 L446.2 87.09 L446.45 86.91 L446.7 86.7 L446.95 86.45 L447.2 86.16 L447.45 85.84 L447.7 85.48 L447.95 85.09 L448.2 84.65 L448.45 84.17 L448.7 83.65 L448.95 83.08 L449.2 82.47 L448.95 80.5 L449.4 71.5 L449.58 55.5 L449.8 30.6 L450 30.6 L450.22 55.5 L450.4 71.5 L450.7 82.5 L450.9 84.59 L451.15 85.45 L451.4 86.08 L451.65 86.54 L451.9 86.88 L452.15 87.13 L452.4 87.31 L452.65 87.44 L452.9 87.54 L453.15 87.61 L453.4 87.65 L453.65 87.68 L453.9 87.69 L454.15 87.69 L454.4 87.68 L454.65 87.65 L454.9 87.61 L455.15 87.55 L455.4 87.49 L455.65 87.41 L455.9 87.32 L456.15 87.21 L456.4 87.09 L456.65 86.95 L456.9 86.8 L457.15 86.64 L457.4 86.46 L457.65 86.26 L457.9 86.04 L458.15 85.81 L458.4 85.56 L458.65 85.28 L458.9 84.99 L459.15 84.68 L459.4 84.35 L459.65 84 L459.9 83.63 L460.15 83.24 L460.4 82.82 L460.65 82.38 L460.9 81.92 L460.65 80.5 L461.1 71.5 L461.28 55.5 L461.5 30.6 L461.7 30.6 L461.92 55.5 L462.1 71.5 L462.4 82.5 L462.6 84.59 L462.85 85.45 L463.1 86.08 L463.35 86.54 L463.6 86.88 L463.85 87.13 L464.1 87.31 L464.35 87.44 L464.6 87.54 L464.85 87.61 L465.1 87.66 L465.35 87.69 L465.6 87.71 L465.85 87.71 L466.1 87.71 L466.35 87.69 L466.6 87.66 L466.85 87.62 L467.1 87.57 L467.35 87.51 L467.6 87.44 L467.85 87.36 L468.1 87.26 L468.35 87.16 L468.6 87.04 L468.85 86.9 L469.1 86.76 L469.35 86.6 L469.6 86.42 L469.85 86.23 L470.1 86.02 L470.35 85.8 L470.6 85.56 L470.85 85.31 L471.1 85.04 L471.35 84.75 L471.6 84.44 L471.85 84.11 L472.1 83.77 L472.35 83.41 L472.6 83.02 L472.85 82.62 L473.1 82.2 L473.35 81.75 L473.05 80.5 L473.5 71.5 L473.68 55.5 L473.9 30.6 L474.1 30.6 L474.32 55.5 L474.5 71.5 L474.8 82.5 L475 84.59 L475.25 85.45 L475.5 86.08 L475.75 86.54 L476 86.88 L476.25 87.13 L476.5 87.31 L476.75 87.44 L477 87.54 L477.25 87.61 L477.5 87.66 L477.75 87.7 L478 87.72 L478.25 87.74 L479 87.74 L479.25 90.5 L479.5 93 L479.75 95.28 L480 97.34 L480.25 99.22 L480.5 100.92 L480.75 102.47 L481 103.87 L481.25 105.15 L481.5 106.31 L481.75 107.36 L482 108.32 L482.25 109.19 L482.5 109.98 L482.75 110.7 L483 111.35 L483.25 111.94 L483.5 112.48 L483.75 112.96 L484 113.41 L484.25 113.81 L484.5 114.18 L484.75 114.51 L485 114.81 L485.25 115.08 L485.5 115.33 L485.75 115.56 L486 115.76 L486.25 115.95 L486.5 116.12 L486.75 116.27 L487 116.41 L487.25 116.54 L487.5 116.66 L487.75 116.76 L488 116.86 L488.25 116.94 L488.5 117.02 L488.75 117.09 L489 117.16 L489.25 117.22 L489.5 117.27 L489.75 117.32 L490 117.36 L490.25 117.4 L490.5 117.44 L490.75 117.47 L491 117.5" fill="none" stroke="#D51C24" stroke-width="0.82" stroke-linejoin="round"/>
<path d="M374.6 117.8 L374.85 117.8 L375.1 117.8 L375.35 115.94 L375.6 114.2 L375.85 112.57 L376.1 111.04 L376.35 109.61 L376.6 108.28 L376.85 107.02 L377.1 105.85 L377.35 104.75 L377.6 103.72 L377.85 102.76 L378.1 101.86 L378.35 101.02 L378.6 100.22 L378.85 99.48 L379.1 98.79 L379.35 98.14 L379.6 97.53 L379.85 96.97 L380.1 96.43 L380.35 95.93 L380.6 95.47 L380.85 95.03 L381.1 94.62 L381.35 94.24 L381.6 93.88 L381.85 93.54 L382.1 93.23 L382.35 92.93 L382.6 92.66 L382.85 92.4 L383.1 92.16 L383.35 91.93 L383.6 91.72 L383.85 91.52 L384.1 91.33 L384.35 91.16 L384.6 91 L384.85 90.84 L385.1 90.7 L385.35 90.57 L385.6 90.44 L385.85 90.32 L386.1 90.22 L386.35 90.11 L386.6 90.02 L386.85 89.93 L387.1 89.84 L387.35 89.76 L387.6 89.69 L387.85 89.62 L388.1 89.55 L388.35 89.49 L388.6 89.41 L388.85 89.3 L389.1 89.15 L389.35 88.98 L389.6 88.77 L389.85 88.53 L390.1 88.26 L390.35 87.95 L390.6 87.61 L390.85 87.24 L391.1 86.84 L391.35 86.4 L391.35 81.5 L391.8 72.5 L391.98 56.5 L392.2 30.6 L392.4 30.6 L392.62 56.5 L392.8 72.5 L393.1 83.5 L393.3 85.9 L393.55 86.89 L393.8 87.62 L394.05 88.15 L394.3 88.54 L394.55 88.82 L394.8 89.03 L395.05 89.18 L395.3 89.3 L395.55 89.38 L395.8 89.43 L396.05 89.46 L396.3 89.48 L396.55 89.47 L396.8 89.45 L397.05 89.42 L397.3 89.37 L397.55 89.31 L397.8 89.24 L398.05 89.15 L398.3 89.04 L398.55 88.92 L398.8 88.78 L399.05 88.62 L399.3 88.45 L399.55 88.26 L399.8 88.05 L400.05 87.83 L400.3 87.58 L400.55 87.31 L400.8 87.02 L401.05 86.71 L401.3 86.38 L401.55 86.03 L401.8 85.65 L402.05 85.25 L402.3 84.82 L402.55 84.38 L402.8 83.9 L403.05 83.4 L402.95 81.5 L403.4 72.5 L403.58 56.5 L403.8 30.6 L404 30.6 L404.22 56.5 L404.4 72.5 L404.7 83.5 L404.9 85.9 L405.15 86.89 L405.4 87.62 L405.65 88.15 L405.9 88.54 L406.15 88.82 L406.4 89.03 L406.65 89.18 L406.9 89.3 L407.15 89.37 L407.4 89.43 L407.65 89.46 L407.9 89.47 L408.15 89.46 L408.4 89.43 L408.65 89.39 L408.9 89.34 L409.15 89.27 L409.4 89.18 L409.65 89.08 L409.9 88.96 L410.15 88.83 L410.4 88.67 L410.65 88.5 L410.9 88.31 L411.15 88.1 L411.4 87.87 L411.65 87.62 L411.9 87.35 L412.15 87.06 L412.4 86.74 L412.65 86.41 L412.9 86.04 L413.15 85.66 L413.4 85.25 L413.65 84.81 L413.9 84.35 L414.15 83.86 L414.4 83.34 L414.25 81.5 L414.7 72.5 L414.88 56.5 L415.1 30.6 L415.3 30.6 L415.52 56.5 L415.7 72.5 L416 83.5 L416.2 85.9 L416.45 86.89 L416.7 87.62 L416.95 88.15 L417.2 88.54 L417.45 88.82 L417.7 89.03 L417.95 89.18 L418.2 89.3 L418.45 89.38 L418.7 89.44 L418.95 89.48 L419.2 89.51 L419.45 89.52 L419.7 89.53 L419.95 89.53 L420.2 89.51 L420.45 89.49 L420.7 89.46 L420.95 89.42 L421.2 89.37 L421.45 89.31 L421.7 89.24 L421.95 89.17 L422.2 89.08 L422.45 88.98 L422.7 88.87 L422.95 88.75 L423.2 88.61 L423.45 88.46 L423.7 88.31 L423.95 88.13 L424.2 87.95 L424.45 87.75 L424.7 87.53 L424.95 87.31 L425.2 87.06 L425.45 86.8 L425.7 86.53 L425.95 86.24 L426.2 85.93 L426.45 85.61 L426.7 85.27 L426.95 84.91 L427.2 84.54 L427.45 84.15 L427.7 83.74 L427.95 83.31 L428.2 82.86 L427.95 81.5 L428.4 72.5 L428.58 56.5 L428.8 30.6 L429 30.6 L429.22 56.5 L429.4 72.5 L429.7 83.5 L429.9 85.9 L430.15 86.89 L430.4 87.62 L430.65 88.15 L430.9 88.54 L431.15 88.82 L431.4 89.03 L431.65 89.18 L431.9 89.29 L432.15 89.35 L432.4 89.39 L432.65 89.39 L432.9 89.37 L433.15 89.33 L433.4 89.26 L433.65 89.17 L433.9 89.06 L434.15 88.92 L434.4 88.76 L434.65 88.58 L434.9 88.37 L435.15 88.14 L435.4 87.88 L435.65 87.59 L435.9 87.27 L436.15 86.92 L436.4 86.55 L436.65 86.14 L436.9 85.7 L437.15 85.22 L437.4 84.72 L437.65 84.17 L437.9 83.6 L437.75 81.5 L438.2 72.5 L438.38 56.5 L438.6 30.6 L438.8 30.6 L439.02 56.5 L439.2 72.5 L439.5 83.5 L439.7 85.9 L439.95 86.89 L440.2 87.62 L440.45 88.15 L440.7 88.54 L440.95 88.81 L441.2 88.99 L441.45 89.09 L441.7 89.12 L441.95 89.09 L442.2 89.01 L442.45 88.87 L442.7 88.68 L442.95 88.43 L443.2 88.13 L443.45 87.78 L443.7 87.38 L443.95 86.91 L444.2 86.39 L444.45 85.8 L444.7 85.15 L444.95 84.44 L444.85 81.5 L445.3 72.5 L445.48 56.5 L445.7 30.6 L445.9 30.6 L446.12 56.5 L446.3 72.5 L446.6 83.5 L446.8 85.9 L447.05 86.89 L447.3 87.62 L447.55 88.15 L447.8 88.54 L448.05 88.82 L448.3 89.03 L448.55 89.17 L448.8 89.25 L449.05 89.3 L449.3 89.3 L449.55 89.27 L449.8 89.2 L450.05 89.1 L450.3 88.97 L450.55 88.8 L450.8 88.61 L451.05 88.38 L451.3 88.11 L451.55 87.81 L451.8 87.48 L452.05 87.1 L452.3 86.69 L452.55 86.23 L452.8 85.74 L453.05 85.2 L453.3 84.62 L453.55 83.99 L453.45 81.5 L453.9 72.5 L454.08 56.5 L454.3 30.6 L454.5 30.6 L454.72 56.5 L454.9 72.5 L455.2 83.5 L455.4 85.9 L455.65 86.89 L455.9 87.62 L456.15 88.15 L456.4 88.54 L456.65 88.82 L456.9 89.03 L457.15 89.18 L457.4 89.3 L457.65 89.38 L457.9 89.44 L458.15 89.48 L458.4 89.51 L458.65 89.54 L458.9 89.55 L459.15 89.56 L459.4 89.56 L459.65 89.56 L459.9 89.55 L460.15 89.54 L460.4 89.52 L460.65 89.49 L460.9 89.46 L461.15 89.42 L461.4 89.38 L461.65 89.33 L461.9 89.27 L462.15 89.21 L462.4 89.13 L462.65 89.05 L462.9 88.97 L463.15 88.87 L463.4 88.77 L463.65 88.66 L463.9 88.53 L464.15 88.4 L464.4 88.26 L464.65 88.11 L464.9 87.95 L465.15 87.79 L465.4 87.61 L465.65 87.41 L465.9 87.21 L466.15 87 L466.4 86.78 L466.65 86.54 L466.9 86.3 L467.15 86.04 L467.4 85.77 L467.65 85.48 L467.9 85.19 L468.15 84.88 L468.4 84.56 L468.65 84.22 L468.9 83.88 L469.15 83.51 L469.4 83.14 L469.65 82.75 L469.45 81.5 L469.9 72.5 L470.08 56.5 L470.3 30.6 L470.5 30.6 L470.72 56.5 L470.9 72.5 L471.2 83.5 L471.4 85.9 L471.65 86.89 L471.9 87.62 L472.15 88.15 L472.4 88.53 L472.65 88.79 L472.9 88.94 L473.15 89.01 L473.4 88.99 L473.65 88.91 L473.9 88.76 L474.15 88.55 L474.4 88.26 L474.65 87.92 L474.9 87.5 L475.15 87.02 L475.4 86.46 L475.65 85.83 L475.9 85.13 L476.15 84.34 L475.95 81.5 L476.4 72.5 L476.58 56.5 L476.8 30.6 L477 30.6 L477.22 56.5 L477.4 72.5 L477.7 83.5 L477.9 85.9 L478.15 86.89 L479 86.89 L479.25 89.73 L479.5 92.3 L479.75 94.64 L480 96.76 L480.25 98.69 L480.5 100.44 L480.75 102.03 L481 103.48 L481.25 104.79 L481.5 105.98 L481.75 107.07 L482 108.05 L482.25 108.95 L482.5 109.76 L482.75 110.49 L483 111.16 L483.25 111.77 L483.5 112.32 L483.75 112.83 L484 113.28 L484.25 113.7 L484.5 114.07 L484.75 114.41 L485 114.73 L485.25 115.01 L485.5 115.26 L485.75 115.5 L486 115.71 L486.25 115.9 L486.5 116.07 L486.75 116.23 L487 116.38 L487.25 116.51 L487.5 116.62 L487.75 116.73 L488 116.83 L488.25 116.92 L488.5 117 L488.75 117.07 L489 117.14 L489.25 117.2 L489.5 117.26 L489.75 117.31 L490 117.35 L490.25 117.39 L490.5 117.43 L490.75 117.46 L491 117.49" fill="none" stroke="#D51C24" stroke-width="0.82" stroke-linejoin="round"/>
<line x1="195" y1="118.2" x2="208" y2="118.2" stroke="#DB8616" stroke-width="0.9"/>
<line x1="317" y1="118.2" x2="325.5" y2="118.2" stroke="#DB8616" stroke-width="0.9"/>
<line x1="358.3" y1="117.8" x2="375.2" y2="117.8" stroke="#D51C24" stroke-width="0.9"/>
<line x1="486" y1="117.8" x2="501.5" y2="117.8" stroke="#D51C24" stroke-width="0.9"/>
<text transform="translate(164 121.1) scale(1 1)" font-size="8.4" fill="#111">−81 mV</text>
<text transform="translate(327.3 121.1) scale(1 1)" font-size="8.4" fill="#111">−79 mV</text>
<line x1="322.8" y1="75.2" x2="345.4" y2="75.2" stroke="#000" stroke-width="1.5"/>
<line x1="344.7" y1="58" x2="344.7" y2="75.9" stroke="#000" stroke-width="1.4"/>
<text transform="translate(347.2 71.1) scale(1 1)" font-size="9.6" fill="#111">20 mV</text>
<text transform="translate(326.7 87.2) scale(1 1)" font-size="9.7" fill="#111">0.2 s</text>
<text transform="translate(511.1 11.8) scale(1.0 1)" font-size="13.8" font-weight="bold" fill="#000" style="stroke:#000;stroke-width:0.3px">c</text>
<text transform="translate(587.4 28.9) scale(1 0.98)" font-size="9.9" fill="#111">I (pA)</text>
<line x1="527.2" y1="113.2" x2="680" y2="113.2" stroke="#222" stroke-width="1"/>
<line x1="601.4" y1="40.9" x2="601.4" y2="206" stroke="#222" stroke-width="1.2"/>
<line x1="534.3" y1="113.2" x2="534.3" y2="110.8" stroke="#222" stroke-width="0.9"/>
<text transform="translate(534.7 105.6) scale(1 0.98)" font-size="9.7" text-anchor="middle" fill="#111">−100</text>
<line x1="568.5" y1="113.2" x2="568.5" y2="110.8" stroke="#222" stroke-width="0.9"/>
<text transform="translate(568.9 105.6) scale(1 0.98)" font-size="9.7" text-anchor="middle" fill="#111">−90</text>
<line x1="633" y1="113.2" x2="633" y2="110.8" stroke="#222" stroke-width="0.9"/>
<text transform="translate(633.4 105.6) scale(1 0.98)" font-size="9.7" text-anchor="middle" fill="#111">−70</text>
<line x1="667.1" y1="113.2" x2="667.1" y2="110.8" stroke="#222" stroke-width="0.9"/>
<text transform="translate(667.5 105.6) scale(1 0.98)" font-size="9.7" text-anchor="middle" fill="#111">−60</text>
<line x1="597.8" y1="95.25" x2="601.4" y2="95.25" stroke="#222" stroke-width="0.9"/>
<text transform="translate(595 98.15) scale(1 0.98)" font-size="9.9" text-anchor="end" fill="#111">20</text>
<line x1="597.8" y1="77.3" x2="601.4" y2="77.3" stroke="#222" stroke-width="0.9"/>
<text transform="translate(595 80.2) scale(1 0.98)" font-size="9.9" text-anchor="end" fill="#111">40</text>
<line x1="597.8" y1="59.35" x2="601.4" y2="59.35" stroke="#222" stroke-width="0.9"/>
<text transform="translate(595 62.25) scale(1 0.98)" font-size="9.9" text-anchor="end" fill="#111">60</text>
<line x1="597.8" y1="41.4" x2="601.4" y2="41.4" stroke="#222" stroke-width="0.9"/>
<text transform="translate(595 44.3) scale(1 0.98)" font-size="9.9" text-anchor="end" fill="#111">80</text>
<line x1="601.4" y1="131.15" x2="605" y2="131.15" stroke="#222" stroke-width="0.9"/>
<text transform="translate(606.2 134.05) scale(1 0.98)" font-size="9.9" fill="#111">−20</text>
<line x1="601.4" y1="149.1" x2="605" y2="149.1" stroke="#222" stroke-width="0.9"/>
<text transform="translate(606.2 152) scale(1 0.98)" font-size="9.9" fill="#111">−40</text>
<line x1="601.4" y1="167.05" x2="605" y2="167.05" stroke="#222" stroke-width="0.9"/>
<text transform="translate(606.2 169.95) scale(1 0.98)" font-size="9.9" fill="#111">−60</text>
<line x1="601.4" y1="185" x2="605" y2="185" stroke="#222" stroke-width="0.9"/>
<text transform="translate(606.2 187.9) scale(1 0.98)" font-size="9.9" fill="#111">−80</text>
<line x1="601.4" y1="202.95" x2="605" y2="202.95" stroke="#222" stroke-width="0.9"/>
<text transform="translate(606.2 205.85) scale(1 0.98)" font-size="9.9" fill="#111">−100</text>
<text transform="translate(517.4 113.2) rotate(-90) scale(1 0.98)" font-size="9.6" text-anchor="middle" fill="#111"><tspan font-style="italic">V</tspan> (mV)</text>
<path d="M568 202.95 L573.8 185 L579.9 167.05 L586.7 149.1 L593.8 131.15 L601.1 113.2 L610.2 95.25 L626.2 77.3 L650.2 59.53" fill="none" stroke="#ECA52A" stroke-width="1.35" stroke-linejoin="round"/>
<line x1="563.3" y1="202.95" x2="572.7" y2="202.95" stroke="#ECA52A" stroke-width="0.9"/>
<line x1="563.3" y1="201.35" x2="563.3" y2="204.55" stroke="#ECA52A" stroke-width="0.9"/>
<line x1="572.7" y1="201.35" x2="572.7" y2="204.55" stroke="#ECA52A" stroke-width="0.9"/>
<circle cx="568" cy="202.95" r="2.5" fill="#ECA52A"/>
<line x1="569.2" y1="185" x2="578.4" y2="185" stroke="#ECA52A" stroke-width="0.9"/>
<line x1="569.2" y1="183.4" x2="569.2" y2="186.6" stroke="#ECA52A" stroke-width="0.9"/>
<line x1="578.4" y1="183.4" x2="578.4" y2="186.6" stroke="#ECA52A" stroke-width="0.9"/>
<circle cx="573.8" cy="185" r="2.5" fill="#ECA52A"/>
<line x1="575.3" y1="167.05" x2="584.5" y2="167.05" stroke="#ECA52A" stroke-width="0.9"/>
<line x1="575.3" y1="165.45" x2="575.3" y2="168.65" stroke="#ECA52A" stroke-width="0.9"/>
<line x1="584.5" y1="165.45" x2="584.5" y2="168.65" stroke="#ECA52A" stroke-width="0.9"/>
<circle cx="579.9" cy="167.05" r="2.5" fill="#ECA52A"/>
<line x1="582.3" y1="149.1" x2="591.1" y2="149.1" stroke="#ECA52A" stroke-width="0.9"/>
<line x1="582.3" y1="147.5" x2="582.3" y2="150.7" stroke="#ECA52A" stroke-width="0.9"/>
<line x1="591.1" y1="147.5" x2="591.1" y2="150.7" stroke="#ECA52A" stroke-width="0.9"/>
<circle cx="586.7" cy="149.1" r="2.5" fill="#ECA52A"/>
<line x1="589.6" y1="131.15" x2="598" y2="131.15" stroke="#ECA52A" stroke-width="0.9"/>
<line x1="589.6" y1="129.55" x2="589.6" y2="132.75" stroke="#ECA52A" stroke-width="0.9"/>
<line x1="598" y1="129.55" x2="598" y2="132.75" stroke="#ECA52A" stroke-width="0.9"/>
<circle cx="593.8" cy="131.15" r="2.5" fill="#ECA52A"/>
<line x1="596.1" y1="113.2" x2="606.1" y2="113.2" stroke="#ECA52A" stroke-width="0.9"/>
<line x1="596.1" y1="111.6" x2="596.1" y2="114.8" stroke="#ECA52A" stroke-width="0.9"/>
<line x1="606.1" y1="111.6" x2="606.1" y2="114.8" stroke="#ECA52A" stroke-width="0.9"/>
<circle cx="601.1" cy="113.2" r="2.5" fill="#ECA52A"/>
<line x1="605.6" y1="95.25" x2="614.8" y2="95.25" stroke="#ECA52A" stroke-width="0.9"/>
<line x1="605.6" y1="93.65" x2="605.6" y2="96.85" stroke="#ECA52A" stroke-width="0.9"/>
<line x1="614.8" y1="93.65" x2="614.8" y2="96.85" stroke="#ECA52A" stroke-width="0.9"/>
<circle cx="610.2" cy="95.25" r="2.5" fill="#ECA52A"/>
<line x1="621.6" y1="77.3" x2="630.8" y2="77.3" stroke="#ECA52A" stroke-width="0.9"/>
<line x1="621.6" y1="75.7" x2="621.6" y2="78.9" stroke="#ECA52A" stroke-width="0.9"/>
<line x1="630.8" y1="75.7" x2="630.8" y2="78.9" stroke="#ECA52A" stroke-width="0.9"/>
<circle cx="626.2" cy="77.3" r="2.5" fill="#ECA52A"/>
<line x1="645" y1="59.53" x2="655.4" y2="59.53" stroke="#ECA52A" stroke-width="0.9"/>
<line x1="645" y1="57.93" x2="645" y2="61.13" stroke="#ECA52A" stroke-width="0.9"/>
<line x1="655.4" y1="57.93" x2="655.4" y2="61.13" stroke="#ECA52A" stroke-width="0.9"/>
<circle cx="650.2" cy="59.53" r="2.5" fill="#ECA52A"/>
<path d="M543.9 202.95 L553.1 185 L563.3 167.05 L573.8 149.1 L587.2 131.15 L601.1 113.2 L616.7 95.25 L637.4 77.3 L667.9 58.45" fill="none" stroke="#CE1E2E" stroke-width="1.35" stroke-linejoin="round"/>
<line x1="539" y1="202.95" x2="548.8" y2="202.95" stroke="#CE1E2E" stroke-width="0.9"/>
<line x1="539" y1="201.35" x2="539" y2="204.55" stroke="#CE1E2E" stroke-width="0.9"/>
<line x1="548.8" y1="201.35" x2="548.8" y2="204.55" stroke="#CE1E2E" stroke-width="0.9"/>
<circle cx="543.9" cy="202.95" r="2.5" fill="#CE1E2E"/>
<line x1="548.5" y1="185" x2="557.7" y2="185" stroke="#CE1E2E" stroke-width="0.9"/>
<line x1="548.5" y1="183.4" x2="548.5" y2="186.6" stroke="#CE1E2E" stroke-width="0.9"/>
<line x1="557.7" y1="183.4" x2="557.7" y2="186.6" stroke="#CE1E2E" stroke-width="0.9"/>
<circle cx="553.1" cy="185" r="2.5" fill="#CE1E2E"/>
<line x1="558.9" y1="167.05" x2="567.7" y2="167.05" stroke="#CE1E2E" stroke-width="0.9"/>
<line x1="558.9" y1="165.45" x2="558.9" y2="168.65" stroke="#CE1E2E" stroke-width="0.9"/>
<line x1="567.7" y1="165.45" x2="567.7" y2="168.65" stroke="#CE1E2E" stroke-width="0.9"/>
<circle cx="563.3" cy="167.05" r="2.5" fill="#CE1E2E"/>
<line x1="569.6" y1="149.1" x2="578" y2="149.1" stroke="#CE1E2E" stroke-width="0.9"/>
<line x1="569.6" y1="147.5" x2="569.6" y2="150.7" stroke="#CE1E2E" stroke-width="0.9"/>
<line x1="578" y1="147.5" x2="578" y2="150.7" stroke="#CE1E2E" stroke-width="0.9"/>
<circle cx="573.8" cy="149.1" r="2.5" fill="#CE1E2E"/>
<line x1="583.6" y1="131.15" x2="590.8" y2="131.15" stroke="#CE1E2E" stroke-width="0.9"/>
<line x1="583.6" y1="129.55" x2="583.6" y2="132.75" stroke="#CE1E2E" stroke-width="0.9"/>
<line x1="590.8" y1="129.55" x2="590.8" y2="132.75" stroke="#CE1E2E" stroke-width="0.9"/>
<circle cx="587.2" cy="131.15" r="2.5" fill="#CE1E2E"/>
<line x1="599.6" y1="113.2" x2="602.6" y2="113.2" stroke="#CE1E2E" stroke-width="0.9"/>
<line x1="599.6" y1="111.6" x2="599.6" y2="114.8" stroke="#CE1E2E" stroke-width="0.9"/>
<line x1="602.6" y1="111.6" x2="602.6" y2="114.8" stroke="#CE1E2E" stroke-width="0.9"/>
<circle cx="601.1" cy="113.2" r="2.5" fill="#CE1E2E"/>
<line x1="613.5" y1="95.25" x2="619.9" y2="95.25" stroke="#CE1E2E" stroke-width="0.9"/>
<line x1="613.5" y1="93.65" x2="613.5" y2="96.85" stroke="#CE1E2E" stroke-width="0.9"/>
<line x1="619.9" y1="93.65" x2="619.9" y2="96.85" stroke="#CE1E2E" stroke-width="0.9"/>
<circle cx="616.7" cy="95.25" r="2.5" fill="#CE1E2E"/>
<line x1="634" y1="77.3" x2="640.8" y2="77.3" stroke="#CE1E2E" stroke-width="0.9"/>
<line x1="634" y1="75.7" x2="634" y2="78.9" stroke="#CE1E2E" stroke-width="0.9"/>
<line x1="640.8" y1="75.7" x2="640.8" y2="78.9" stroke="#CE1E2E" stroke-width="0.9"/>
<circle cx="637.4" cy="77.3" r="2.5" fill="#CE1E2E"/>
<line x1="664.3" y1="58.45" x2="671.5" y2="58.45" stroke="#CE1E2E" stroke-width="0.9"/>
<line x1="664.3" y1="56.85" x2="664.3" y2="60.05" stroke="#CE1E2E" stroke-width="0.9"/>
<line x1="671.5" y1="56.85" x2="671.5" y2="60.05" stroke="#CE1E2E" stroke-width="0.9"/>
<circle cx="667.9" cy="58.45" r="2.5" fill="#CE1E2E"/>
<circle cx="631.9" cy="156.8" r="2.5" fill="#CE1E2E"/>
<text transform="translate(636.5 160.4) scale(1 0.98)" font-size="9.85" fill="#111">hGPC-73Q</text>
<circle cx="631.9" cy="174.4" r="2.5" fill="#ECA52A"/>
<text transform="translate(636.5 178) scale(1 0.98)" font-size="9.85" fill="#111">hGPC-23Q</text>
<text transform="translate(0.5 160.4) scale(1.0 1)" font-size="13.8" font-weight="bold" fill="#000" style="stroke:#000;stroke-width:0.3px">d</text>
<text transform="translate(99.2 157) scale(1 1.03)" font-size="9.75" text-anchor="middle" fill="#111">Untreated</text>
<text transform="translate(216.5 157) scale(1 1.03)" font-size="9.75" text-anchor="middle" fill="#111">hGPC-EGFP</text>
<text transform="translate(328 157.1) scale(1 1.03)" font-size="9.75" text-anchor="middle" fill="#111">hGPC-23Q</text>
<text transform="translate(442.6 157.1) scale(1 1.03)" font-size="9.75" text-anchor="middle" fill="#111">hGPC-73Q</text>
<line x1="47.4" y1="166" x2="47.4" y2="210.6" stroke="#222" stroke-width="1"/>
<line x1="45" y1="168.2" x2="47.4" y2="168.2" stroke="#222" stroke-width="0.9"/>
<text transform="translate(41.8 171.7) scale(1 1.03)" font-size="9.7" text-anchor="end" fill="#111">−60</text>
<line x1="45" y1="181.5" x2="47.4" y2="181.5" stroke="#222" stroke-width="0.9"/>
<text transform="translate(41.8 185) scale(1 1.03)" font-size="9.7" text-anchor="end" fill="#111">−70</text>
<line x1="45" y1="194.7" x2="47.4" y2="194.7" stroke="#222" stroke-width="0.9"/>
<text transform="translate(41.8 198.2) scale(1 1.03)" font-size="9.7" text-anchor="end" fill="#111">−80</text>
<line x1="45" y1="207.9" x2="47.4" y2="207.9" stroke="#222" stroke-width="0.9"/>
<text transform="translate(41.8 211.4) scale(1 1.03)" font-size="9.7" text-anchor="end" fill="#111">−90</text>
<text transform="translate(18.2 187) rotate(-90) scale(1 1.03)" font-size="9.7" text-anchor="middle" fill="#111"><tspan font-style="italic">V</tspan> (mV)</text>
<text transform="translate(37.6 224.8) scale(1 1.03)" font-size="8.2" fill="#111">0 pA</text>
<text transform="translate(476.8 217.7) scale(1 1.03)" font-size="8.2" fill="#111">60 pA</text>
<text transform="translate(476.2 229.9) scale(1 1.03)" font-size="8.2" fill="#111">−80 pA</text>
<line x1="58" y1="222.4" x2="144.2" y2="222.4" stroke="#3a3a3a" stroke-width="0.9"/>
<rect x="61.4" y="218" width="76.9" height="9.7" fill="#747474"/>
<rect x="61.4" y="218" width="76.9" height="1.3" fill="#585858"/>
<rect x="61.4" y="219.8" width="76.9" height="1.6" fill="#898989"/>
<rect x="61.4" y="221.8" width="76.9" height="0.9" fill="#606060"/>
<rect x="61.4" y="223" width="76.9" height="0.9" fill="#848484"/>
<rect x="61.4" y="224" width="76.9" height="0.9" fill="#636363"/>
<rect x="61.4" y="225.4" width="76.9" height="1.1" fill="#838383"/>
<rect x="61.4" y="226.8" width="76.9" height="0.9" fill="#565656"/>
<line x1="61.4" y1="218" x2="61.4" y2="227.7" stroke="#555" stroke-width="0.7"/>
<line x1="138.3" y1="218" x2="138.3" y2="227.7" stroke="#555" stroke-width="0.7"/>
<line x1="173.7" y1="222.4" x2="259.8" y2="222.4" stroke="#3a3a3a" stroke-width="0.9"/>
<rect x="177" y="218" width="76.8" height="9.7" fill="#747474"/>
<rect x="177" y="218" width="76.8" height="1.3" fill="#585858"/>
<rect x="177" y="219.8" width="76.8" height="1.6" fill="#898989"/>
<rect x="177" y="221.8" width="76.8" height="0.9" fill="#606060"/>
<rect x="177" y="223" width="76.8" height="0.9" fill="#848484"/>
<rect x="177" y="224" width="76.8" height="0.9" fill="#636363"/>
<rect x="177" y="225.4" width="76.8" height="1.1" fill="#838383"/>
<rect x="177" y="226.8" width="76.8" height="0.9" fill="#565656"/>
<line x1="177" y1="218" x2="177" y2="227.7" stroke="#555" stroke-width="0.7"/>
<line x1="253.8" y1="218" x2="253.8" y2="227.7" stroke="#555" stroke-width="0.7"/>
<line x1="284.2" y1="222.4" x2="370" y2="222.4" stroke="#3a3a3a" stroke-width="0.9"/>
<rect x="287.6" y="218" width="75.9" height="9.7" fill="#747474"/>
<rect x="287.6" y="218" width="75.9" height="1.3" fill="#585858"/>
<rect x="287.6" y="219.8" width="75.9" height="1.6" fill="#898989"/>
<rect x="287.6" y="221.8" width="75.9" height="0.9" fill="#606060"/>
<rect x="287.6" y="223" width="75.9" height="0.9" fill="#848484"/>
<rect x="287.6" y="224" width="75.9" height="0.9" fill="#636363"/>
<rect x="287.6" y="225.4" width="75.9" height="1.1" fill="#838383"/>
<rect x="287.6" y="226.8" width="75.9" height="0.9" fill="#565656"/>
<line x1="287.6" y1="218" x2="287.6" y2="227.7" stroke="#555" stroke-width="0.7"/>
<line x1="363.5" y1="218" x2="363.5" y2="227.7" stroke="#555" stroke-width="0.7"/>
<line x1="394.8" y1="222.4" x2="480" y2="222.4" stroke="#3a3a3a" stroke-width="0.9"/>
<rect x="398.1" y="218" width="76.5" height="9.7" fill="#747474"/>
<rect x="398.1" y="218" width="76.5" height="1.3" fill="#585858"/>
<rect x="398.1" y="219.8" width="76.5" height="1.6" fill="#898989"/>
<rect x="398.1" y="221.8" width="76.5" height="0.9" fill="#606060"/>
<rect x="398.1" y="223" width="76.5" height="0.9" fill="#848484"/>
<rect x="398.1" y="224" width="76.5" height="0.9" fill="#636363"/>
<rect x="398.1" y="225.4" width="76.5" height="1.1" fill="#838383"/>
<rect x="398.1" y="226.8" width="76.5" height="0.9" fill="#565656"/>
<line x1="398.1" y1="218" x2="398.1" y2="227.7" stroke="#555" stroke-width="0.7"/>
<line x1="474.6" y1="218" x2="474.6" y2="227.7" stroke="#555" stroke-width="0.7"/>
<path d="M60.4 193.32 L61 193.45 L61.6 193.6 L62.2 188.55 L62.8 185.65 L63.4 184.15 L64 183.22 L64.6 182.59 L65.2 182.47 L65.8 182.07 L66.4 181.93 L67 181.85 L67.6 182.07 L68.2 181.92 L68.8 181.72 L69.4 181.65 L70 181.78 L70.6 181.82 L71.2 181.89 L71.8 181.72 L72.4 181.83 L73 181.96 L73.6 182.17 L74.2 182.25 L74.8 181.93 L75.4 181.98 L76 181.81 L76.6 181.89 L77.2 181.99 L77.8 181.92 L78.4 181.54 L79 181.69 L79.6 181.79 L80.2 181.76 L80.8 181.91 L81.4 181.85 L82 181.84 L82.6 181.93 L83.2 181.82 L83.8 181.95 L84.4 181.87 L85 181.85 L85.6 181.95 L86.2 182.1 L86.8 181.98 L87.4 181.97 L88 181.9 L88.6 181.7 L89.2 181.72 L89.8 182.1 L90.4 181.99 L91 182.05 L91.6 182.07 L92.2 182.16 L92.8 182.06 L93.4 182.09 L94 181.99 L94.6 182.26 L95.2 182.17 L95.8 182.05 L96.4 182.15 L97 181.94 L97.6 182.06 L98.2 182.28 L98.8 182 L99.4 182.03 L100 181.91 L100.6 181.92 L101.2 181.89 L101.8 181.62 L102.4 181.89 L103 181.89 L103.6 182.02 L104.2 181.89 L104.8 181.85 L105.4 181.82 L106 181.67 L106.6 182 L107.2 182.13 L107.8 182.22 L108.4 182.18 L109 182.02 L109.6 182.03 L110.2 182.38 L110.8 182.4 L111.4 182.25 L112 181.97 L112.6 182.04 L113.2 181.65 L113.8 181.89 L114.4 181.83 L115 181.83 L115.6 182.01 L116.2 182.18 L116.8 182.04 L117.4 181.86 L118 181.66 L118.6 181.62 L119.2 181.82 L119.8 181.9 L120.4 181.83 L121 181.88 L121.6 181.86 L122.2 181.71 L122.8 181.75 L123.4 181.99 L124 182.19 L124.6 181.99 L125.2 181.99 L125.8 181.8 L126.4 181.93 L127 181.91 L127.6 181.91 L128.2 182.08 L128.8 182.12 L129.4 182.1 L130 182.09 L130.6 182.11 L131.2 181.78 L131.8 181.89 L132.4 181.84 L133 182.08 L133.6 182.02 L134.2 181.87 L134.8 181.81 L135.4 181.98 L136 181.97 L136.6 181.95 L137.2 182.1 L137.8 182.11 L138.4 182.02 L139 190.32 L139.6 192.78" fill="none" stroke="#111" stroke-width="0.75" stroke-linejoin="round"/>
<path d="M60.4 193.67 L61 193.7 L61.6 193.31 L62.2 189.76 L62.8 187.9 L63.4 187.16 L64 186.64 L64.6 186.47 L65.2 186.22 L65.8 186.35 L66.4 186.22 L67 186.46 L67.6 186.42 L68.2 186.43 L68.8 186.28 L69.4 186.18 L70 186.28 L70.6 186.26 L71.2 186.27 L71.8 186.09 L72.4 186.13 L73 186.25 L73.6 186.1 L74.2 186.04 L74.8 186 L75.4 186.14 L76 186.14 L76.6 186.04 L77.2 186.07 L77.8 186.2 L78.4 186.08 L79 186.21 L79.6 186.58 L80.2 186.21 L80.8 186.14 L81.4 186.16 L82 186.25 L82.6 186.45 L83.2 186.38 L83.8 186.25 L84.4 186.09 L85 185.72 L85.6 185.71 L86.2 186.14 L86.8 186.03 L87.4 186.21 L88 186.31 L88.6 186.24 L89.2 186.05 L89.8 186.46 L90.4 186.5 L91 186.46 L91.6 186.19 L92.2 186.26 L92.8 186.07 L93.4 185.94 L94 186.08 L94.6 186.16 L95.2 186.25 L95.8 186.29 L96.4 186.26 L97 186.29 L97.6 186.11 L98.2 186.16 L98.8 186.29 L99.4 186.54 L100 186.16 L100.6 186.39 L101.2 186.24 L101.8 186.4 L102.4 186.26 L103 186.25 L103.6 186.27 L104.2 186.27 L104.8 186.28 L105.4 186.4 L106 186.48 L106.6 186.3 L107.2 186.41 L107.8 186.39 L108.4 186.17 L109 186.07 L109.6 186.34 L110.2 186.47 L110.8 186.28 L111.4 186.39 L112 186.23 L112.6 186.32 L113.2 186.61 L113.8 186.47 L114.4 186.58 L115 186.37 L115.6 186.32 L116.2 186.24 L116.8 186.5 L117.4 186.48 L118 186.32 L118.6 186.15 L119.2 186.17 L119.8 186.32 L120.4 186.45 L121 186.31 L121.6 186.43 L122.2 186.39 L122.8 186.33 L123.4 186.36 L124 186.61 L124.6 186.45 L125.2 186.39 L125.8 186.35 L126.4 186.27 L127 186.31 L127.6 186.27 L128.2 186.05 L128.8 186.21 L129.4 186.02 L130 186.15 L130.6 186.22 L131.2 186.46 L131.8 186.54 L132.4 186.52 L133 186.29 L133.6 186.32 L134.2 186.57 L134.8 186.54 L135.4 186.53 L136 186.81 L136.6 186.61 L137.2 186.29 L137.8 186.41 L138.4 186.42 L139 191.31 L139.6 193.11" fill="none" stroke="#111" stroke-width="0.75" stroke-linejoin="round"/>
<path d="M60.4 193.58 L61 193.89 L61.6 193.63 L62.2 191.64 L62.8 190.84 L63.4 190.45 L64 190.38 L64.6 190.04 L65.2 190.38 L65.8 190.4 L66.4 190.33 L67 190.55 L67.6 190.69 L68.2 190.25 L68.8 190.2 L69.4 189.94 L70 189.97 L70.6 189.96 L71.2 190.13 L71.8 190.11 L72.4 189.9 L73 190.07 L73.6 190.01 L74.2 190.17 L74.8 189.97 L75.4 189.9 L76 189.92 L76.6 189.95 L77.2 189.99 L77.8 190.12 L78.4 190.18 L79 190.18 L79.6 190.17 L80.2 190.1 L80.8 189.89 L81.4 189.91 L82 189.93 L82.6 189.95 L83.2 189.77 L83.8 189.84 L84.4 189.88 L85 189.85 L85.6 189.9 L86.2 189.97 L86.8 190.09 L87.4 190.22 L88 190.03 L88.6 190.13 L89.2 190.09 L89.8 190.08 L90.4 190.24 L91 190.29 L91.6 190.25 L92.2 190.05 L92.8 190.03 L93.4 190.2 L94 190.07 L94.6 189.97 L95.2 189.89 L95.8 190 L96.4 189.92 L97 190.36 L97.6 190.26 L98.2 190.21 L98.8 190.1 L99.4 190.17 L100 190.2 L100.6 190.12 L101.2 190.06 L101.8 190.22 L102.4 190.19 L103 190.26 L103.6 190.2 L104.2 190.09 L104.8 190.16 L105.4 190.23 L106 190.18 L106.6 190.15 L107.2 190.25 L107.8 190.08 L108.4 190.15 L109 190.12 L109.6 190.13 L110.2 190.23 L110.8 190 L111.4 190.03 L112 190.06 L112.6 190.1 L113.2 190.38 L113.8 190.18 L114.4 190.17 L115 190.26 L115.6 189.95 L116.2 190.12 L116.8 190.22 L117.4 190.11 L118 190.08 L118.6 190.01 L119.2 190.21 L119.8 190.08 L120.4 189.93 L121 189.9 L121.6 189.9 L122.2 190 L122.8 190.05 L123.4 190.21 L124 189.94 L124.6 190.05 L125.2 190.04 L125.8 190.07 L126.4 190 L127 189.99 L127.6 190.11 L128.2 190.26 L128.8 190.01 L129.4 190.11 L130 189.99 L130.6 190.13 L131.2 190.08 L131.8 189.91 L132.4 189.9 L133 189.99 L133.6 190.16 L134.2 190.33 L134.8 190.37 L135.4 190.29 L136 190.28 L136.6 190.18 L137.2 190.33 L137.8 190.13 L138.4 190 L139 192.62 L139.6 193.15" fill="none" stroke="#111" stroke-width="0.75" stroke-linejoin="round"/>
<path d="M60.4 193.64 L61 193.78 L61.6 193.75 L62.2 193.78 L62.8 193.74 L63.4 193.72 L64 193.51 L64.6 193.77 L65.2 193.67 L65.8 193.6 L66.4 193.63 L67 193.79 L67.6 193.68 L68.2 193.64 L68.8 193.77 L69.4 193.79 L70 193.67 L70.6 193.61 L71.2 193.62 L71.8 193.52 L72.4 193.42 L73 193.4 L73.6 193.31 L74.2 193.69 L74.8 193.55 L75.4 193.65 L76 193.39 L76.6 193.41 L77.2 193.71 L77.8 193.65 L78.4 193.43 L79 193.45 L79.6 193.3 L80.2 193.17 L80.8 193.56 L81.4 193.53 L82 193.6 L82.6 193.76 L83.2 193.61 L83.8 193.64 L84.4 193.64 L85 193.54 L85.6 193.52 L86.2 193.41 L86.8 193.3 L87.4 193.51 L88 193.49 L88.6 193.14 L89.2 193.56 L89.8 193.57 L90.4 193.57 L91 193.77 L91.6 193.4 L92.2 193.49 L92.8 193.42 L93.4 193.53 L94 193.7 L94.6 193.69 L95.2 193.54 L95.8 193.54 L96.4 193.68 L97 193.74 L97.6 193.76 L98.2 193.73 L98.8 193.56 L99.4 193.62 L100 193.45 L100.6 193.51 L101.2 193.49 L101.8 193.58 L102.4 193.75 L103 193.71 L103.6 193.77 L104.2 193.68 L104.8 193.58 L105.4 193.68 L106 193.64 L106.6 193.47 L107.2 193.53 L107.8 193.54 L108.4 193.63 L109 193.68 L109.6 193.56 L110.2 193.67 L110.8 193.39 L111.4 193.7 L112 193.5 L112.6 193.6 L113.2 193.78 L113.8 193.67 L114.4 193.44 L115 193.37 L115.6 193.44 L116.2 193.54 L116.8 193.72 L117.4 193.63 L118 193.57 L118.6 193.56 L119.2 193.57 L119.8 193.46 L120.4 193.45 L121 193.43 L121.6 193.6 L122.2 193.54 L122.8 193.52 L123.4 193.82 L124 193.75 L124.6 193.79 L125.2 193.35 L125.8 193.48 L126.4 193.6 L127 193.66 L127.6 193.65 L128.2 193.58 L128.8 193.39 L129.4 193.59 L130 193.54 L130.6 193.34 L131.2 193.65 L131.8 193.81 L132.4 193.58 L133 193.77 L133.6 193.43 L134.2 193.55 L134.8 193.47 L135.4 193.54 L136 193.65 L136.6 193.75 L137.2 193.77 L137.8 193.72 L138.4 193.79 L139 193.6 L139.6 193.65" fill="none" stroke="#111" stroke-width="0.75" stroke-linejoin="round"/>
<path d="M60.4 193.54 L61 193.42 L61.6 193.51 L62.2 195.98 L62.8 196.66 L63.4 196.97 L64 196.83 L64.6 196.64 L65.2 196.7 L65.8 196.95 L66.4 196.64 L67 196.67 L67.6 196.7 L68.2 196.79 L68.8 196.74 L69.4 196.77 L70 196.85 L70.6 196.66 L71.2 196.7 L71.8 196.6 L72.4 196.72 L73 196.88 L73.6 197.01 L74.2 196.82 L74.8 196.78 L75.4 196.94 L76 196.62 L76.6 197.02 L77.2 196.76 L77.8 196.89 L78.4 196.91 L79 196.77 L79.6 196.81 L80.2 196.8 L80.8 196.52 L81.4 196.73 L82 196.88 L82.6 197.11 L83.2 196.93 L83.8 196.82 L84.4 196.83 L85 196.67 L85.6 196.76 L86.2 196.8 L86.8 196.72 L87.4 196.68 L88 197.1 L88.6 197.16 L89.2 197.03 L89.8 197.12 L90.4 197.11 L91 196.72 L91.6 196.89 L92.2 196.9 L92.8 197.12 L93.4 197 L94 196.96 L94.6 196.94 L95.2 196.91 L95.8 196.6 L96.4 196.9 L97 196.74 L97.6 196.93 L98.2 197.03 L98.8 196.97 L99.4 196.84 L100 196.81 L100.6 196.68 L101.2 196.66 L101.8 196.6 L102.4 196.9 L103 196.84 L103.6 196.76 L104.2 196.81 L104.8 196.83 L105.4 196.8 L106 196.99 L106.6 197.25 L107.2 197 L107.8 196.96 L108.4 196.85 L109 196.89 L109.6 196.64 L110.2 196.28 L110.8 196.56 L111.4 196.6 L112 196.64 L112.6 196.72 L113.2 196.82 L113.8 196.67 L114.4 196.61 L115 196.7 L115.6 196.72 L116.2 197.1 L116.8 197 L117.4 196.91 L118 196.97 L118.6 196.94 L119.2 196.84 L119.8 196.9 L120.4 196.59 L121 196.51 L121.6 196.56 L122.2 196.83 L122.8 196.83 L123.4 196.65 L124 196.56 L124.6 196.59 L125.2 196.67 L125.8 196.75 L126.4 196.96 L127 196.95 L127.6 196.92 L128.2 196.87 L128.8 197.07 L129.4 196.85 L130 196.79 L130.6 196.96 L131.2 196.86 L131.8 196.85 L132.4 197 L133 196.99 L133.6 196.82 L134.2 196.65 L134.8 196.78 L135.4 196.97 L136 196.89 L136.6 196.93 L137.2 197.03 L137.8 196.87 L138.4 196.98 L139 194.66 L139.6 193.93" fill="none" stroke="#111" stroke-width="0.75" stroke-linejoin="round"/>
<path d="M60.4 193.49 L61 193.53 L61.6 193.36 L62.2 197.59 L62.8 198.65 L63.4 199.12 L64 199.24 L64.6 199.41 L65.2 199.25 L65.8 199.3 L66.4 199.38 L67 199.6 L67.6 199.4 L68.2 199.4 L68.8 199.39 L69.4 199.64 L70 199.8 L70.6 199.46 L71.2 199.44 L71.8 199.47 L72.4 199.42 L73 199.39 L73.6 199.52 L74.2 199.32 L74.8 199.28 L75.4 199.45 L76 199.4 L76.6 199.33 L77.2 199.21 L77.8 199.45 L78.4 199.36 L79 199.22 L79.6 199.36 L80.2 199.43 L80.8 199.42 L81.4 199.44 L82 199.32 L82.6 199.22 L83.2 199.44 L83.8 199.35 L84.4 199.5 L85 199.39 L85.6 199.29 L86.2 199.32 L86.8 199.05 L87.4 199.26 L88 199.31 L88.6 199.35 L89.2 199.31 L89.8 199.42 L90.4 199.3 L91 199.23 L91.6 199 L92.2 199.21 L92.8 199.29 L93.4 199.28 L94 199.53 L94.6 199.51 L95.2 199.31 L95.8 199.24 L96.4 199.27 L97 199.32 L97.6 199.12 L98.2 199.3 L98.8 199.31 L99.4 199.32 L100 199.55 L100.6 199.69 L101.2 199.5 L101.8 199.44 L102.4 199.34 L103 199.08 L103.6 199.33 L104.2 199.22 L104.8 199.31 L105.4 199.29 L106 199.11 L106.6 199.28 L107.2 199.29 L107.8 199.39 L108.4 199.53 L109 199.33 L109.6 199.4 L110.2 199.4 L110.8 199.1 L111.4 199.11 L112 199.03 L112.6 199 L113.2 199.29 L113.8 199.44 L114.4 199.47 L115 199.55 L115.6 199.58 L116.2 199.62 L116.8 199.72 L117.4 199.64 L118 199.38 L118.6 199.16 L119.2 199.26 L119.8 199.27 L120.4 199.43 L121 199.3 L121.6 199.48 L122.2 199.39 L122.8 199.57 L123.4 199.6 L124 199.69 L124.6 199.91 L125.2 199.43 L125.8 199.35 L126.4 199.26 L127 199.32 L127.6 199.24 L128.2 199.13 L128.8 199.14 L129.4 199.27 L130 199.14 L130.6 199.34 L131.2 199.38 L131.8 199.46 L132.4 199.25 L133 199.33 L133.6 199.45 L134.2 199.47 L134.8 199.54 L135.4 199.47 L136 199.46 L136.6 199.32 L137.2 199.48 L137.8 199.53 L138.4 199.63 L139 195.32 L139.6 194.3" fill="none" stroke="#111" stroke-width="0.75" stroke-linejoin="round"/>
<path d="M60.4 193.66 L61 193.53 L61.6 193.45 L62.2 199.25 L62.8 200.71 L63.4 201.3 L64 201.61 L64.6 201.66 L65.2 201.68 L65.8 201.71 L66.4 201.49 L67 201.29 L67.6 201.36 L68.2 201.29 L68.8 201.38 L69.4 201.4 L70 201.43 L70.6 201.44 L71.2 201.49 L71.8 201.78 L72.4 201.66 L73 201.55 L73.6 201.47 L74.2 201.55 L74.8 201.44 L75.4 201.53 L76 201.34 L76.6 201.24 L77.2 201.21 L77.8 201.3 L78.4 201.62 L79 201.36 L79.6 201.36 L80.2 201.47 L80.8 201.4 L81.4 201.33 L82 201.47 L82.6 201.71 L83.2 201.75 L83.8 201.59 L84.4 201.42 L85 201.19 L85.6 201.24 L86.2 201.46 L86.8 201.53 L87.4 201.45 L88 201.32 L88.6 201.29 L89.2 201.38 L89.8 201.46 L90.4 201.67 L91 201.43 L91.6 201.72 L92.2 201.91 L92.8 201.55 L93.4 201.5 L94 201.66 L94.6 201.69 L95.2 201.69 L95.8 201.75 L96.4 201.72 L97 201.84 L97.6 201.65 L98.2 201.52 L98.8 201.59 L99.4 201.59 L100 201.54 L100.6 201.67 L101.2 201.39 L101.8 201.72 L102.4 201.77 L103 201.58 L103.6 201.45 L104.2 201.31 L104.8 201.47 L105.4 201.22 L106 201.29 L106.6 201.46 L107.2 201.41 L107.8 201.67 L108.4 201.61 L109 201.46 L109.6 201.32 L110.2 201.44 L110.8 201.49 L111.4 201.59 L112 201.48 L112.6 201.14 L113.2 201.35 L113.8 201.47 L114.4 201.66 L115 201.75 L115.6 201.71 L116.2 201.62 L116.8 201.5 L117.4 201.52 L118 201.17 L118.6 201.41 L119.2 201.24 L119.8 201.54 L120.4 201.46 L121 201.24 L121.6 201.27 L122.2 201.43 L122.8 201.28 L123.4 201.33 L124 201.33 L124.6 201.34 L125.2 201.5 L125.8 201.64 L126.4 201.41 L127 201.34 L127.6 201.81 L128.2 201.73 L128.8 201.65 L129.4 201.57 L130 201.59 L130.6 201.67 L131.2 201.56 L131.8 201.34 L132.4 201.57 L133 201.36 L133.6 201.38 L134.2 201.29 L134.8 201.43 L135.4 201.56 L136 201.51 L136.6 201.36 L137.2 201.39 L137.8 201.48 L138.4 201.55 L139 195.77 L139.6 194.18" fill="none" stroke="#111" stroke-width="0.75" stroke-linejoin="round"/>
<path d="M60.4 193.56 L61 193.59 L61.6 193.66 L62.2 200.46 L62.8 202.29 L63.4 202.72 L64 202.81 L64.6 202.8 L65.2 202.84 L65.8 203 L66.4 202.96 L67 202.8 L67.6 202.72 L68.2 202.86 L68.8 202.77 L69.4 202.81 L70 202.93 L70.6 202.89 L71.2 203.01 L71.8 203.08 L72.4 202.89 L73 203.06 L73.6 203.18 L74.2 203.12 L74.8 202.84 L75.4 203.09 L76 202.97 L76.6 203.07 L77.2 202.94 L77.8 203.07 L78.4 202.96 L79 203.13 L79.6 202.86 L80.2 202.99 L80.8 202.91 L81.4 203.05 L82 202.79 L82.6 202.76 L83.2 202.74 L83.8 202.69 L84.4 202.83 L85 202.89 L85.6 202.94 L86.2 202.99 L86.8 203.03 L87.4 203.15 L88 202.9 L88.6 203.14 L89.2 203.05 L89.8 203.09 L90.4 203.04 L91 203.05 L91.6 202.92 L92.2 202.76 L92.8 202.81 L93.4 203.08 L94 202.95 L94.6 202.81 L95.2 202.7 L95.8 202.66 L96.4 202.7 L97 202.8 L97.6 202.63 L98.2 202.98 L98.8 202.82 L99.4 202.98 L100 203.14 L100.6 203.16 L101.2 203.14 L101.8 202.95 L102.4 202.82 L103 202.97 L103.6 202.94 L104.2 203.01 L104.8 203.1 L105.4 203.17 L106 202.73 L106.6 202.78 L107.2 203.09 L107.8 202.95 L108.4 203.16 L109 202.97 L109.6 203.01 L110.2 202.98 L110.8 203.21 L111.4 203.04 L112 202.85 L112.6 202.75 L113.2 202.68 L113.8 202.82 L114.4 202.95 L115 203.06 L115.6 202.99 L116.2 203.02 L116.8 203.09 L117.4 202.89 L118 202.97 L118.6 202.87 L119.2 202.79 L119.8 202.78 L120.4 202.87 L121 202.81 L121.6 202.74 L122.2 202.67 L122.8 202.74 L123.4 202.85 L124 202.71 L124.6 202.8 L125.2 202.88 L125.8 202.81 L126.4 202.89 L127 202.99 L127.6 202.99 L128.2 202.86 L128.8 202.86 L129.4 202.85 L130 203.05 L130.6 203.09 L131.2 202.95 L131.8 202.93 L132.4 202.61 L133 202.78 L133.6 202.7 L134.2 202.88 L134.8 202.76 L135.4 202.89 L136 203.15 L136.6 203.12 L137.2 202.93 L137.8 202.86 L138.4 202.86 L139 196.46 L139.6 194.71" fill="none" stroke="#111" stroke-width="0.75" stroke-linejoin="round"/>
<line x1="138.4" y1="182" x2="138.4" y2="203" stroke="#1a1a1a" stroke-width="0.7"/>
<path d="M177 193.35 L177.6 193.31 L178.2 193.73 L178.8 190.03 L179.4 187.58 L180 186.06 L180.6 184.96 L181.2 184.25 L181.8 183.79 L182.4 183.44 L183 183.19 L183.6 183.07 L184.2 183.01 L184.8 182.76 L185.4 182.62 L186 182.62 L186.6 182.59 L187.2 182.78 L187.8 182.76 L188.4 182.61 L189 182.65 L189.6 182.77 L190.2 182.76 L190.8 182.68 L191.4 182.68 L192 182.66 L192.6 182.67 L193.2 182.63 L193.8 182.62 L194.4 182.62 L195 182.6 L195.6 182.59 L196.2 182.54 L196.8 182.55 L197.4 182.44 L198 182.5 L198.6 182.64 L199.2 182.54 L199.8 182.65 L200.4 182.69 L201 182.57 L201.6 182.56 L202.2 182.56 L202.8 182.71 L203.4 182.59 L204 182.65 L204.6 182.62 L205.2 182.65 L205.8 182.55 L206.4 182.63 L207 182.53 L207.6 182.5 L208.2 182.56 L208.8 182.6 L209.4 182.51 L210 182.42 L210.6 182.46 L211.2 182.52 L211.8 182.55 L212.4 182.53 L213 182.56 L213.6 182.58 L214.2 182.55 L214.8 182.59 L215.4 182.55 L216 182.62 L216.6 182.67 L217.2 182.6 L217.8 182.53 L218.4 182.48 L219 182.46 L219.6 182.56 L220.2 182.53 L220.8 182.47 L221.4 182.48 L222 182.43 L222.6 182.52 L223.2 182.59 L223.8 182.63 L224.4 182.68 L225 182.57 L225.6 182.5 L226.2 182.49 L226.8 182.52 L227.4 182.54 L228 182.41 L228.6 182.42 L229.2 182.48 L229.8 182.46 L230.4 182.48 L231 182.38 L231.6 182.31 L232.2 182.4 L232.8 182.46 L233.4 182.52 L234 182.41 L234.6 182.43 L235.2 182.4 L235.8 182.45 L236.4 182.5 L237 182.45 L237.6 182.42 L238.2 182.46 L238.8 182.37 L239.4 182.42 L240 182.38 L240.6 182.48 L241.2 182.46 L241.8 182.46 L242.4 182.5 L243 182.47 L243.6 182.31 L244.2 182.32 L244.8 182.38 L245.4 182.42 L246 182.44 L246.6 182.47 L247.2 182.5 L247.8 182.41 L248.4 182.46 L249 182.46 L249.6 182.41 L250.2 182.41 L250.8 182.37 L251.4 182.51 L252 182.43 L252.6 182.43 L253.2 182.4 L253.8 182.38 L254.4 182.3 L255 182.33 L255.6 188.75 L256.2 191.47 L256.8 192.55 L257.4 193.13" fill="none" stroke="#E2D42A" stroke-width="0.65" stroke-linejoin="round"/>
<path d="M177 193.3 L177.6 193.25 L178.2 193.47 L178.8 190.83 L179.4 189.34 L180 188.53 L180.6 187.98 L181.2 187.63 L181.8 187.4 L182.4 187.33 L183 187.15 L183.6 187.18 L184.2 187.09 L184.8 187.08 L185.4 187.12 L186 187.09 L186.6 187.08 L187.2 187.08 L187.8 187.04 L188.4 187.1 L189 187.11 L189.6 187.1 L190.2 187.14 L190.8 187.12 L191.4 187.09 L192 187.22 L192.6 187.25 L193.2 187.21 L193.8 187.2 L194.4 187.17 L195 187.2 L195.6 187.17 L196.2 187.26 L196.8 187.23 L197.4 187.25 L198 187.29 L198.6 187.26 L199.2 187.21 L199.8 187.17 L200.4 187.17 L201 187.1 L201.6 187.12 L202.2 187.12 L202.8 187.05 L203.4 187.2 L204 187.14 L204.6 187.2 L205.2 187.29 L205.8 187.28 L206.4 187.17 L207 187.11 L207.6 187.11 L208.2 187.09 L208.8 187.14 L209.4 187.16 L210 187.22 L210.6 187.13 L211.2 187.21 L211.8 187.07 L212.4 187.03 L213 187.16 L213.6 187.2 L214.2 187.07 L214.8 187.08 L215.4 187.09 L216 187.19 L216.6 187.07 L217.2 187.13 L217.8 187.09 L218.4 187.07 L219 187.05 L219.6 187.16 L220.2 187.21 L220.8 187.17 L221.4 187.04 L222 187.03 L222.6 187.02 L223.2 187.1 L223.8 186.99 L224.4 187.04 L225 187.12 L225.6 187.13 L226.2 187.1 L226.8 187.17 L227.4 187.13 L228 187.14 L228.6 187.13 L229.2 187.23 L229.8 187.08 L230.4 187.16 L231 187.12 L231.6 187.05 L232.2 187.04 L232.8 187.04 L233.4 187.12 L234 187.06 L234.6 187.11 L235.2 187.13 L235.8 187.01 L236.4 187.03 L237 187 L237.6 187.14 L238.2 187.09 L238.8 187.05 L239.4 187.1 L240 186.96 L240.6 186.96 L241.2 187.08 L241.8 187.14 L242.4 187 L243 187.11 L243.6 187.13 L244.2 187.09 L244.8 187.17 L245.4 187.08 L246 187 L246.6 187.09 L247.2 187 L247.8 187.16 L248.4 187.1 L249 186.97 L249.6 186.95 L250.2 186.94 L250.8 186.92 L251.4 186.88 L252 186.93 L252.6 186.97 L253.2 187.03 L253.8 187.08 L254.4 186.95 L255 186.94 L255.6 190.56 L256.2 192.1 L256.8 192.82 L257.4 193.13" fill="none" stroke="#E2D42A" stroke-width="0.65" stroke-linejoin="round"/>
<path d="M177 193.39 L177.6 193.25 L178.2 193.42 L178.8 192.36 L179.4 191.93 L180 191.72 L180.6 191.61 L181.2 191.54 L181.8 191.49 L182.4 191.51 L183 191.38 L183.6 191.44 L184.2 191.41 L184.8 191.48 L185.4 191.45 L186 191.31 L186.6 191.41 L187.2 191.34 L187.8 191.36 L188.4 191.4 L189 191.42 L189.6 191.43 L190.2 191.47 L190.8 191.48 L191.4 191.43 L192 191.52 L192.6 191.47 L193.2 191.49 L193.8 191.56 L194.4 191.49 L195 191.54 L195.6 191.6 L196.2 191.59 L196.8 191.55 L197.4 191.43 L198 191.42 L198.6 191.38 L199.2 191.44 L199.8 191.48 L200.4 191.46 L201 191.38 L201.6 191.43 L202.2 191.47 L202.8 191.45 L203.4 191.45 L204 191.51 L204.6 191.5 L205.2 191.56 L205.8 191.6 L206.4 191.61 L207 191.61 L207.6 191.56 L208.2 191.46 L208.8 191.27 L209.4 191.29 L210 191.3 L210.6 191.31 L211.2 191.41 L211.8 191.41 L212.4 191.47 L213 191.44 L213.6 191.39 L214.2 191.43 L214.8 191.36 L215.4 191.29 L216 191.33 L216.6 191.33 L217.2 191.47 L217.8 191.45 L218.4 191.32 L219 191.36 L219.6 191.45 L220.2 191.49 L220.8 191.49 L221.4 191.36 L222 191.38 L222.6 191.38 L223.2 191.35 L223.8 191.39 L224.4 191.35 L225 191.34 L225.6 191.3 L226.2 191.37 L226.8 191.28 L227.4 191.27 L228 191.32 L228.6 191.41 L229.2 191.42 L229.8 191.45 L230.4 191.52 L231 191.37 L231.6 191.43 L232.2 191.46 L232.8 191.54 L233.4 191.42 L234 191.61 L234.6 191.5 L235.2 191.46 L235.8 191.46 L236.4 191.44 L237 191.5 L237.6 191.51 L238.2 191.48 L238.8 191.36 L239.4 191.4 L240 191.42 L240.6 191.44 L241.2 191.42 L241.8 191.44 L242.4 191.45 L243 191.45 L243.6 191.47 L244.2 191.33 L244.8 191.46 L245.4 191.47 L246 191.49 L246.6 191.39 L247.2 191.36 L247.8 191.48 L248.4 191.47 L249 191.45 L249.6 191.47 L250.2 191.43 L250.8 191.51 L251.4 191.41 L252 191.43 L252.6 191.43 L253.2 191.4 L253.8 191.37 L254.4 191.34 L255 191.28 L255.6 192.49 L256.2 193.07 L256.8 193.29 L257.4 193.48" fill="none" stroke="#E2D42A" stroke-width="0.65" stroke-linejoin="round"/>
<path d="M177 193.34 L177.6 193.3 L178.2 193.32 L178.8 193.34 L179.4 193.44 L180 193.36 L180.6 193.29 L181.2 193.33 L181.8 193.26 L182.4 193.32 L183 193.3 L183.6 193.33 L184.2 193.32 L184.8 193.35 L185.4 193.44 L186 193.43 L186.6 193.48 L187.2 193.38 L187.8 193.41 L188.4 193.47 L189 193.38 L189.6 193.35 L190.2 193.3 L190.8 193.36 L191.4 193.33 L192 193.24 L192.6 193.2 L193.2 193.27 L193.8 193.31 L194.4 193.32 L195 193.35 L195.6 193.42 L196.2 193.37 L196.8 193.44 L197.4 193.36 L198 193.58 L198.6 193.5 L199.2 193.4 L199.8 193.36 L200.4 193.25 L201 193.35 L201.6 193.44 L202.2 193.48 L202.8 193.43 L203.4 193.5 L204 193.38 L204.6 193.38 L205.2 193.42 L205.8 193.43 L206.4 193.36 L207 193.34 L207.6 193.42 L208.2 193.39 L208.8 193.27 L209.4 193.41 L210 193.35 L210.6 193.4 L211.2 193.45 L211.8 193.47 L212.4 193.44 L213 193.41 L213.6 193.44 L214.2 193.39 L214.8 193.4 L215.4 193.36 L216 193.33 L216.6 193.36 L217.2 193.47 L217.8 193.43 L218.4 193.43 L219 193.47 L219.6 193.36 L220.2 193.41 L220.8 193.37 L221.4 193.38 L222 193.48 L222.6 193.54 L223.2 193.61 L223.8 193.48 L224.4 193.39 L225 193.44 L225.6 193.44 L226.2 193.27 L226.8 193.4 L227.4 193.45 L228 193.49 L228.6 193.6 L229.2 193.59 L229.8 193.51 L230.4 193.36 L231 193.38 L231.6 193.35 L232.2 193.37 L232.8 193.4 L233.4 193.38 L234 193.38 L234.6 193.4 L235.2 193.43 L235.8 193.51 L236.4 193.42 L237 193.37 L237.6 193.54 L238.2 193.5 L238.8 193.49 L239.4 193.37 L240 193.46 L240.6 193.52 L241.2 193.53 L241.8 193.38 L242.4 193.36 L243 193.37 L243.6 193.39 L244.2 193.47 L244.8 193.5 L245.4 193.36 L246 193.37 L246.6 193.4 L247.2 193.44 L247.8 193.45 L248.4 193.55 L249 193.48 L249.6 193.41 L250.2 193.41 L250.8 193.39 L251.4 193.35 L252 193.38 L252.6 193.4 L253.2 193.3 L253.8 193.33 L254.4 193.32 L255 193.43 L255.6 193.44 L256.2 193.42 L256.8 193.41 L257.4 193.47" fill="none" stroke="#E2D42A" stroke-width="0.65" stroke-linejoin="round"/>
<path d="M177 193.29 L177.6 193.29 L178.2 193.3 L178.8 195.06 L179.4 195.66 L180 195.93 L180.6 196.02 L181.2 196.12 L181.8 196.09 L182.4 196.22 L183 196.24 L183.6 196.18 L184.2 196.23 L184.8 196.19 L185.4 196.23 L186 196.19 L186.6 196.3 L187.2 196.32 L187.8 196.24 L188.4 196.25 L189 196.21 L189.6 196.12 L190.2 196.15 L190.8 196.2 L191.4 196.15 L192 196.26 L192.6 196.38 L193.2 196.25 L193.8 196.19 L194.4 196.19 L195 196.23 L195.6 196.18 L196.2 196.17 L196.8 196.27 L197.4 196.2 L198 196.22 L198.6 196.15 L199.2 196.18 L199.8 196.17 L200.4 196.28 L201 196.26 L201.6 196.22 L202.2 196.21 L202.8 196.3 L203.4 196.33 L204 196.28 L204.6 196.18 L205.2 196.2 L205.8 196.29 L206.4 196.28 L207 196.18 L207.6 196.23 L208.2 196.22 L208.8 196.24 L209.4 196.23 L210 196.19 L210.6 196.16 L211.2 196.25 L211.8 196.28 L212.4 196.21 L213 196.12 L213.6 196.24 L214.2 196.28 L214.8 196.28 L215.4 196.24 L216 196.36 L216.6 196.23 L217.2 196.22 L217.8 196.27 L218.4 196.29 L219 196.31 L219.6 196.21 L220.2 196.28 L220.8 196.34 L221.4 196.28 L222 196.33 L222.6 196.29 L223.2 196.28 L223.8 196.27 L224.4 196.26 L225 196.27 L225.6 196.34 L226.2 196.39 L226.8 196.38 L227.4 196.37 L228 196.26 L228.6 196.25 L229.2 196.29 L229.8 196.29 L230.4 196.25 L231 196.21 L231.6 196.29 L232.2 196.32 L232.8 196.14 L233.4 196.36 L234 196.37 L234.6 196.34 L235.2 196.38 L235.8 196.38 L236.4 196.44 L237 196.35 L237.6 196.38 L238.2 196.39 L238.8 196.24 L239.4 196.39 L240 196.32 L240.6 196.23 L241.2 196.25 L241.8 196.33 L242.4 196.25 L243 196.26 L243.6 196.25 L244.2 196.25 L244.8 196.11 L245.4 196.27 L246 196.22 L246.6 196.29 L247.2 196.29 L247.8 196.18 L248.4 196.22 L249 196.19 L249.6 196.22 L250.2 196.21 L250.8 196.24 L251.4 196.25 L252 196.29 L252.6 196.33 L253.2 196.26 L253.8 196.35 L254.4 196.45 L255 196.41 L255.6 194.82 L256.2 194.12 L256.8 193.82 L257.4 193.58" fill="none" stroke="#E2D42A" stroke-width="0.65" stroke-linejoin="round"/>
<path d="M177 193.48 L177.6 193.33 L178.2 193.07 L178.8 196.9 L179.4 198.4 L180 198.9 L180.6 199 L181.2 198.99 L181.8 199.07 L182.4 199.12 L183 199.05 L183.6 199.07 L184.2 199.08 L184.8 199.07 L185.4 198.96 L186 198.97 L186.6 199.03 L187.2 199.19 L187.8 199.26 L188.4 199.19 L189 199.12 L189.6 199.15 L190.2 199.12 L190.8 199.14 L191.4 199.19 L192 199.2 L192.6 199.24 L193.2 199.32 L193.8 199.18 L194.4 199.27 L195 199.11 L195.6 199.08 L196.2 199.19 L196.8 199.12 L197.4 199.1 L198 199.14 L198.6 199.11 L199.2 199.11 L199.8 199.15 L200.4 199.14 L201 199.12 L201.6 199.1 L202.2 199.07 L202.8 199.15 L203.4 199.35 L204 199.26 L204.6 199.14 L205.2 199.28 L205.8 199.31 L206.4 199.24 L207 199.19 L207.6 199.17 L208.2 199.2 L208.8 199.13 L209.4 199.17 L210 199.04 L210.6 199.04 L211.2 199.04 L211.8 199.07 L212.4 199.12 L213 199.13 L213.6 199.17 L214.2 199.25 L214.8 199.39 L215.4 199.29 L216 199.28 L216.6 199.24 L217.2 199.24 L217.8 199.19 L218.4 199.18 L219 199.21 L219.6 199.3 L220.2 199.28 L220.8 199.25 L221.4 199.22 L222 199.15 L222.6 199.12 L223.2 199.17 L223.8 199.25 L224.4 199.25 L225 199.19 L225.6 199.2 L226.2 199.27 L226.8 199.25 L227.4 199.31 L228 199.19 L228.6 199.23 L229.2 199.17 L229.8 199.08 L230.4 199.15 L231 199.22 L231.6 199.26 L232.2 199.33 L232.8 199.3 L233.4 199.14 L234 199.23 L234.6 199.29 L235.2 199.25 L235.8 199.23 L236.4 199.24 L237 199.25 L237.6 199.18 L238.2 199.28 L238.8 199.38 L239.4 199.37 L240 199.34 L240.6 199.11 L241.2 199.2 L241.8 199.26 L242.4 199.3 L243 199.3 L243.6 199.24 L244.2 199.27 L244.8 199.27 L245.4 199.28 L246 199.33 L246.6 199.33 L247.2 199.29 L247.8 199.23 L248.4 199.14 L249 199.31 L249.6 199.28 L250.2 199.35 L250.8 199.35 L251.4 199.33 L252 199.35 L252.6 199.33 L253.2 199.42 L253.8 199.34 L254.4 199.31 L255 199.3 L255.6 195.93 L256.2 194.57 L256.8 193.87 L257.4 193.45" fill="none" stroke="#E2D42A" stroke-width="0.65" stroke-linejoin="round"/>
<path d="M177 193.43 L177.6 193.46 L178.2 193.17 L178.8 198.6 L179.4 200.63 L180 201.29 L180.6 201.52 L181.2 201.55 L181.8 201.63 L182.4 201.64 L183 201.68 L183.6 201.64 L184.2 201.56 L184.8 201.71 L185.4 201.76 L186 201.83 L186.6 201.88 L187.2 201.73 L187.8 201.8 L188.4 201.72 L189 201.61 L189.6 201.61 L190.2 201.64 L190.8 201.81 L191.4 201.78 L192 201.77 L192.6 201.8 L193.2 201.82 L193.8 201.8 L194.4 201.92 L195 201.81 L195.6 201.73 L196.2 201.64 L196.8 201.63 L197.4 201.64 L198 201.67 L198.6 201.7 L199.2 201.84 L199.8 201.88 L200.4 201.82 L201 201.83 L201.6 201.78 L202.2 201.78 L202.8 201.79 L203.4 201.93 L204 201.82 L204.6 201.76 L205.2 201.81 L205.8 201.76 L206.4 201.73 L207 201.8 L207.6 201.75 L208.2 201.87 L208.8 201.9 L209.4 201.85 L210 201.84 L210.6 201.8 L211.2 201.92 L211.8 201.9 L212.4 201.89 L213 201.83 L213.6 201.94 L214.2 201.91 L214.8 201.85 L215.4 201.95 L216 201.94 L216.6 201.88 L217.2 201.94 L217.8 201.88 L218.4 201.87 L219 201.93 L219.6 201.84 L220.2 201.85 L220.8 201.86 L221.4 201.89 L222 201.83 L222.6 201.78 L223.2 201.81 L223.8 201.79 L224.4 201.84 L225 201.86 L225.6 201.88 L226.2 201.9 L226.8 201.84 L227.4 201.84 L228 201.88 L228.6 201.97 L229.2 201.96 L229.8 201.95 L230.4 202.06 L231 201.97 L231.6 202.03 L232.2 202.03 L232.8 201.91 L233.4 201.92 L234 201.97 L234.6 201.88 L235.2 201.99 L235.8 201.94 L236.4 201.96 L237 201.94 L237.6 201.96 L238.2 201.91 L238.8 202.02 L239.4 201.94 L240 202.04 L240.6 201.99 L241.2 201.92 L241.8 201.98 L242.4 201.98 L243 201.95 L243.6 201.88 L244.2 201.9 L244.8 201.91 L245.4 201.88 L246 201.84 L246.6 201.83 L247.2 201.82 L247.8 201.95 L248.4 202.01 L249 201.97 L249.6 201.91 L250.2 201.93 L250.8 201.98 L251.4 201.94 L252 201.95 L252.6 202.03 L253.2 201.99 L253.8 201.97 L254.4 202.05 L255 202.02 L255.6 197.06 L256.2 194.89 L256.8 194.08 L257.4 193.7" fill="none" stroke="#E2D42A" stroke-width="0.65" stroke-linejoin="round"/>
<path d="M177 193.38 L177.6 193.37 L178.2 193.15 L178.8 199.75 L179.4 202.17 L180 203.08 L180.6 203.41 L181.2 203.58 L181.8 203.59 L182.4 203.57 L183 203.54 L183.6 203.57 L184.2 203.51 L184.8 203.51 L185.4 203.46 L186 203.51 L186.6 203.54 L187.2 203.56 L187.8 203.55 L188.4 203.52 L189 203.57 L189.6 203.46 L190.2 203.46 L190.8 203.63 L191.4 203.64 L192 203.73 L192.6 203.81 L193.2 203.75 L193.8 203.65 L194.4 203.67 L195 203.61 L195.6 203.63 L196.2 203.65 L196.8 203.75 L197.4 203.7 L198 203.68 L198.6 203.66 L199.2 203.8 L199.8 203.74 L200.4 203.77 L201 203.68 L201.6 203.66 L202.2 203.83 L202.8 203.72 L203.4 203.74 L204 203.75 L204.6 203.76 L205.2 203.79 L205.8 203.74 L206.4 203.81 L207 203.79 L207.6 203.74 L208.2 203.76 L208.8 203.75 L209.4 203.72 L210 203.75 L210.6 203.69 L211.2 203.73 L211.8 203.7 L212.4 203.56 L213 203.69 L213.6 203.7 L214.2 203.69 L214.8 203.69 L215.4 203.61 L216 203.59 L216.6 203.67 L217.2 203.68 L217.8 203.77 L218.4 203.88 L219 203.8 L219.6 203.68 L220.2 203.79 L220.8 203.81 L221.4 203.89 L222 203.86 L222.6 203.84 L223.2 203.76 L223.8 203.86 L224.4 203.83 L225 203.89 L225.6 203.85 L226.2 203.79 L226.8 203.83 L227.4 203.87 L228 203.69 L228.6 203.71 L229.2 203.78 L229.8 203.85 L230.4 203.83 L231 203.77 L231.6 203.8 L232.2 203.78 L232.8 203.62 L233.4 203.58 L234 203.7 L234.6 203.7 L235.2 203.78 L235.8 203.85 L236.4 203.69 L237 203.75 L237.6 203.69 L238.2 203.81 L238.8 203.7 L239.4 203.83 L240 203.81 L240.6 203.82 L241.2 203.84 L241.8 203.79 L242.4 203.8 L243 204.01 L243.6 203.95 L244.2 203.87 L244.8 203.99 L245.4 204 L246 203.95 L246.6 203.94 L247.2 203.82 L247.8 203.81 L248.4 203.78 L249 203.91 L249.6 203.96 L250.2 203.94 L250.8 203.85 L251.4 203.76 L252 203.77 L252.6 203.75 L253.2 203.81 L253.8 203.75 L254.4 203.82 L255 203.85 L255.6 197.77 L256.2 195.25 L256.8 194.12 L257.4 193.66" fill="none" stroke="#E2D42A" stroke-width="0.65" stroke-linejoin="round"/>
<path d="M287.6 193.45 L288.2 193.58 L288.8 192.41 L289.4 187.97 L290 184.8 L290.6 182.61 L291.2 181.18 L291.8 180.11 L292.4 179.36 L293 178.72 L293.6 178.37 L294.2 178.28 L294.8 178.14 L295.4 177.79 L296 177.67 L296.6 177.65 L297.2 177.56 L297.8 177.6 L298.4 177.55 L299 177.66 L299.6 177.72 L300.2 177.74 L300.8 177.61 L301.4 177.62 L302 177.67 L302.6 177.57 L303.2 177.56 L303.8 177.49 L304.4 177.52 L305 177.61 L305.6 177.57 L306.2 177.68 L306.8 177.6 L307.4 177.61 L308 177.66 L308.6 177.54 L309.2 177.58 L309.8 177.45 L310.4 177.42 L311 177.42 L311.6 177.52 L312.2 177.43 L312.8 177.51 L313.4 177.4 L314 177.42 L314.6 177.48 L315.2 177.46 L315.8 177.57 L316.4 177.51 L317 177.39 L317.6 177.38 L318.2 177.45 L318.8 177.31 L319.4 177.21 L320 177.39 L320.6 177.31 L321.2 177.39 L321.8 177.41 L322.4 177.33 L323 177.29 L323.6 177.33 L324.2 177.3 L324.8 177.36 L325.4 177.36 L326 177.32 L326.6 177.42 L327.2 177.36 L327.8 177.25 L328.4 177.24 L329 177.22 L329.6 177.34 L330.2 177.35 L330.8 177.27 L331.4 177.22 L332 177.23 L332.6 177.23 L333.2 177.35 L333.8 177.26 L334.4 177.19 L335 177.18 L335.6 177.16 L336.2 177.23 L336.8 177.22 L337.4 177.17 L338 177.16 L338.6 177.11 L339.2 177.12 L339.8 177.13 L340.4 177.24 L341 177.14 L341.6 177.21 L342.2 177.18 L342.8 177.1 L343.4 177.22 L344 177.2 L344.6 177.09 L345.2 177.07 L345.8 177.05 L346.4 176.99 L347 177.04 L347.6 177.05 L348.2 177.14 L348.8 177.09 L349.4 176.97 L350 177.07 L350.6 177.12 L351.2 177.04 L351.8 177.12 L352.4 177.08 L353 176.99 L353.6 177.04 L354.2 177.04 L354.8 176.99 L355.4 177.02 L356 176.96 L356.6 176.97 L357.2 176.98 L357.8 177.01 L358.4 177.02 L359 176.85 L359.6 176.86 L360.2 176.92 L360.8 176.96 L361.4 176.89 L362 176.96 L362.6 176.89 L363.2 176.96 L363.8 176.95 L364.4 176.94 L365 183.82 L365.6 187.84 L366.2 190.23 L366.8 191.62 L367.4 192.4 L368 192.84 L368.6 193.2" fill="none" stroke="#E3922A" stroke-width="0.7" stroke-linejoin="round"/>
<path d="M287.6 193.46 L288.2 193.51 L288.8 192.5 L289.4 188.88 L290 186.58 L290.6 185.05 L291.2 184.26 L291.8 183.74 L292.4 183.27 L293 182.98 L293.6 182.79 L294.2 182.64 L294.8 182.63 L295.4 182.57 L296 182.59 L296.6 182.62 L297.2 182.57 L297.8 182.5 L298.4 182.59 L299 182.64 L299.6 182.6 L300.2 182.54 L300.8 182.58 L301.4 182.59 L302 182.63 L302.6 182.61 L303.2 182.55 L303.8 182.5 L304.4 182.53 L305 182.44 L305.6 182.43 L306.2 182.52 L306.8 182.57 L307.4 182.58 L308 182.64 L308.6 182.57 L309.2 182.51 L309.8 182.51 L310.4 182.56 L311 182.47 L311.6 182.59 L312.2 182.62 L312.8 182.49 L313.4 182.43 L314 182.49 L314.6 182.5 L315.2 182.55 L315.8 182.54 L316.4 182.5 L317 182.45 L317.6 182.47 L318.2 182.49 L318.8 182.42 L319.4 182.41 L320 182.42 L320.6 182.39 L321.2 182.34 L321.8 182.4 L322.4 182.31 L323 182.35 L323.6 182.32 L324.2 182.35 L324.8 182.45 L325.4 182.56 L326 182.53 L326.6 182.46 L327.2 182.35 L327.8 182.34 L328.4 182.37 L329 182.27 L329.6 182.27 L330.2 182.32 L330.8 182.35 L331.4 182.32 L332 182.26 L332.6 182.31 L333.2 182.26 L333.8 182.4 L334.4 182.36 L335 182.31 L335.6 182.38 L336.2 182.29 L336.8 182.26 L337.4 182.31 L338 182.22 L338.6 182.27 L339.2 182.23 L339.8 182.17 L340.4 182.21 L341 182.23 L341.6 182.24 L342.2 182.27 L342.8 182.2 L343.4 182.29 L344 182.37 L344.6 182.23 L345.2 182.2 L345.8 182.21 L346.4 182.13 L347 182.19 L347.6 182.19 L348.2 182.18 L348.8 182.22 L349.4 182.19 L350 182.16 L350.6 182.21 L351.2 182.21 L351.8 182.23 L352.4 182.28 L353 182.18 L353.6 182.19 L354.2 182.26 L354.8 182.23 L355.4 182.2 L356 182.21 L356.6 182.22 L357.2 182.2 L357.8 182.15 L358.4 182.17 L359 182.12 L359.6 182.13 L360.2 182.12 L360.8 182 L361.4 182.03 L362 182.09 L362.6 182.12 L363.2 182.11 L363.8 182.04 L364.4 181.98 L365 186.7 L365.6 189.57 L366.2 191.28 L366.8 192.29 L367.4 192.91 L368 193.09 L368.6 193.3" fill="none" stroke="#E3922A" stroke-width="0.7" stroke-linejoin="round"/>
<path d="M287.6 193.45 L288.2 193.35 L288.8 192.4 L289.4 189.39 L290 187.71 L290.6 186.74 L291.2 186.15 L291.8 185.88 L292.4 185.75 L293 185.54 L293.6 185.49 L294.2 185.5 L294.8 185.4 L295.4 185.33 L296 185.32 L296.6 185.27 L297.2 185.31 L297.8 185.35 L298.4 185.3 L299 185.33 L299.6 185.3 L300.2 185.4 L300.8 185.38 L301.4 185.42 L302 185.4 L302.6 185.3 L303.2 185.25 L303.8 185.28 L304.4 185.21 L305 185.29 L305.6 185.26 L306.2 185.38 L306.8 185.27 L307.4 185.18 L308 185.26 L308.6 185.23 L309.2 185.13 L309.8 185.25 L310.4 185.25 L311 185.23 L311.6 185.18 L312.2 185.2 L312.8 185.21 L313.4 185.17 L314 185.17 L314.6 185.21 L315.2 185.14 L315.8 185.25 L316.4 185.22 L317 185.16 L317.6 185.18 L318.2 185.1 L318.8 185.16 L319.4 185.23 L320 185.1 L320.6 185.11 L321.2 185.14 L321.8 185.09 L322.4 185.03 L323 185 L323.6 184.97 L324.2 185.06 L324.8 185.01 L325.4 185.06 L326 185.06 L326.6 185.16 L327.2 185.11 L327.8 185.14 L328.4 185.14 L329 185.09 L329.6 185.05 L330.2 185.11 L330.8 185.08 L331.4 185.01 L332 185.04 L332.6 185.1 L333.2 185.07 L333.8 185.15 L334.4 185.05 L335 184.93 L335.6 184.92 L336.2 185.05 L336.8 184.98 L337.4 184.99 L338 185.01 L338.6 185.04 L339.2 185.12 L339.8 185.15 L340.4 185.16 L341 185.07 L341.6 185.1 L342.2 185.12 L342.8 184.98 L343.4 184.99 L344 184.93 L344.6 184.79 L345.2 184.84 L345.8 184.98 L346.4 184.95 L347 185.08 L347.6 185.11 L348.2 185.09 L348.8 185.05 L349.4 185 L350 184.96 L350.6 184.97 L351.2 184.88 L351.8 184.98 L352.4 185.09 L353 185.12 L353.6 185.06 L354.2 185.12 L354.8 185.04 L355.4 184.89 L356 184.93 L356.6 185.02 L357.2 184.95 L357.8 184.99 L358.4 185 L359 184.95 L359.6 184.89 L360.2 184.93 L360.8 184.98 L361.4 185 L362 185.01 L362.6 185.05 L363.2 185.05 L363.8 185.02 L364.4 185.11 L365 188.71 L365.6 190.78 L366.2 191.9 L366.8 192.54 L367.4 192.89 L368 193.09 L368.6 193.23" fill="none" stroke="#E3922A" stroke-width="0.7" stroke-linejoin="round"/>
<path d="M287.6 193.47 L288.2 193.37 L288.8 192.66 L289.4 190.71 L290 189.76 L290.6 189.27 L291.2 189.19 L291.8 189.12 L292.4 189.06 L293 188.93 L293.6 188.92 L294.2 188.95 L294.8 188.94 L295.4 188.96 L296 188.89 L296.6 188.88 L297.2 188.96 L297.8 188.96 L298.4 188.95 L299 188.98 L299.6 188.86 L300.2 188.89 L300.8 188.94 L301.4 188.97 L302 188.97 L302.6 188.84 L303.2 188.85 L303.8 188.75 L304.4 188.8 L305 188.91 L305.6 188.9 L306.2 188.92 L306.8 188.91 L307.4 188.88 L308 188.85 L308.6 188.88 L309.2 188.86 L309.8 189.05 L310.4 189.05 L311 188.91 L311.6 188.93 L312.2 188.88 L312.8 188.86 L313.4 188.83 L314 188.89 L314.6 188.87 L315.2 188.76 L315.8 188.78 L316.4 188.77 L317 188.67 L317.6 188.77 L318.2 188.83 L318.8 188.88 L319.4 188.72 L320 188.64 L320.6 188.81 L321.2 188.83 L321.8 188.76 L322.4 188.81 L323 188.83 L323.6 188.81 L324.2 188.77 L324.8 188.76 L325.4 188.79 L326 188.71 L326.6 188.72 L327.2 188.78 L327.8 188.8 L328.4 188.71 L329 188.66 L329.6 188.68 L330.2 188.77 L330.8 188.77 L331.4 188.74 L332 188.66 L332.6 188.7 L333.2 188.87 L333.8 188.78 L334.4 188.92 L335 188.73 L335.6 188.67 L336.2 188.8 L336.8 188.72 L337.4 188.7 L338 188.78 L338.6 188.69 L339.2 188.67 L339.8 188.6 L340.4 188.73 L341 188.76 L341.6 188.84 L342.2 188.83 L342.8 188.83 L343.4 188.8 L344 188.8 L344.6 188.71 L345.2 188.69 L345.8 188.63 L346.4 188.75 L347 188.66 L347.6 188.67 L348.2 188.75 L348.8 188.78 L349.4 188.8 L350 188.78 L350.6 188.78 L351.2 188.74 L351.8 188.69 L352.4 188.68 L353 188.64 L353.6 188.57 L354.2 188.71 L354.8 188.58 L355.4 188.7 L356 188.69 L356.6 188.81 L357.2 188.76 L357.8 188.74 L358.4 188.78 L359 188.64 L359.6 188.65 L360.2 188.78 L360.8 188.82 L361.4 188.74 L362 188.65 L362.6 188.62 L363.2 188.69 L363.8 188.61 L364.4 188.7 L365 190.63 L365.6 191.87 L366.2 192.57 L366.8 192.94 L367.4 193.32 L368 193.41 L368.6 193.49" fill="none" stroke="#E3922A" stroke-width="0.7" stroke-linejoin="round"/>
<path d="M286.3 193.6 L286.9 193.53 L287.5 193.54 L288.1 193.59 L288.7 193.56 L289.3 193.52 L289.9 193.5 L290.5 193.55 L291.1 193.53 L291.7 193.59 L292.3 193.49 L292.9 193.49 L293.5 193.56 L294.1 193.45 L294.7 193.52 L295.3 193.5 L295.9 193.55 L296.5 193.49 L297.1 193.49 L297.7 193.41 L298.3 193.49 L298.9 193.47 L299.5 193.48 L300.1 193.44 L300.7 193.53 L301.3 193.52 L301.9 193.57 L302.5 193.49 L303.1 193.47 L303.7 193.53 L304.3 193.63 L304.9 193.7 L305.5 193.67 L306.1 193.67 L306.7 193.64 L307.3 193.53 L307.9 193.5 L308.5 193.41 L309.1 193.36 L309.7 193.41 L310.3 193.46 L310.9 193.52 L311.5 193.63 L312.1 193.49 L312.7 193.44 L313.3 193.42 L313.9 193.49 L314.5 193.46 L315.1 193.41 L315.7 193.47 L316.3 193.47 L316.9 193.43 L317.5 193.53 L318.1 193.58 L318.7 193.51 L319.3 193.51 L319.9 193.48 L320.5 193.45 L321.1 193.43 L321.7 193.44 L322.3 193.42 L322.9 193.47 L323.5 193.53 L324.1 193.5 L324.7 193.41 L325.3 193.5 L325.9 193.47 L326.5 193.58 L327.1 193.59 L327.7 193.55 L328.3 193.63 L328.9 193.51 L329.5 193.51 L330.1 193.55 L330.7 193.54 L331.3 193.52 L331.9 193.45 L332.5 193.55 L333.1 193.46 L333.7 193.31 L334.3 193.35 L334.9 193.47 L335.5 193.48 L336.1 193.47 L336.7 193.48 L337.3 193.51 L337.9 193.48 L338.5 193.45 L339.1 193.45 L339.7 193.42 L340.3 193.5 L340.9 193.49 L341.5 193.53 L342.1 193.48 L342.7 193.41 L343.3 193.59 L343.9 193.63 L344.5 193.61 L345.1 193.59 L345.7 193.55 L346.3 193.58 L346.9 193.42 L347.5 193.46 L348.1 193.54 L348.7 193.57 L349.3 193.51 L349.9 193.47 L350.5 193.44 L351.1 193.52 L351.7 193.59 L352.3 193.49 L352.9 193.47 L353.5 193.48 L354.1 193.42 L354.7 193.54 L355.3 193.47 L355.9 193.51 L356.5 193.49 L357.1 193.48 L357.7 193.43 L358.3 193.39 L358.9 193.48 L359.5 193.53 L360.1 193.55 L360.7 193.49 L361.3 193.44 L361.9 193.45 L362.5 193.42 L363.1 193.43 L363.7 193.38 L364.3 193.54 L364.9 193.45 L365.5 193.26 L366.1 193.32 L366.7 193.45 L367.3 193.39 L367.9 193.53 L368.5 193.45" fill="none" stroke="#E3922A" stroke-width="0.7" stroke-linejoin="round"/>
<path d="M287.6 193.57 L288.2 193.57 L288.8 194.37 L289.4 196.14 L290 197.13 L290.6 197.39 L291.2 197.71 L291.8 197.71 L292.4 197.73 L293 197.63 L293.6 197.65 L294.2 197.67 L294.8 197.62 L295.4 197.61 L296 197.65 L296.6 197.79 L297.2 197.88 L297.8 197.79 L298.4 197.73 L299 197.73 L299.6 197.86 L300.2 197.79 L300.8 197.79 L301.4 197.9 L302 197.86 L302.6 197.8 L303.2 197.7 L303.8 197.73 L304.4 197.71 L305 197.88 L305.6 197.83 L306.2 197.8 L306.8 197.75 L307.4 197.77 L308 197.79 L308.6 197.9 L309.2 197.8 L309.8 197.76 L310.4 197.76 L311 197.8 L311.6 197.8 L312.2 197.78 L312.8 197.84 L313.4 197.8 L314 197.79 L314.6 197.71 L315.2 197.69 L315.8 197.73 L316.4 197.8 L317 197.94 L317.6 197.92 L318.2 197.83 L318.8 197.86 L319.4 197.89 L320 197.89 L320.6 198.01 L321.2 197.96 L321.8 197.97 L322.4 197.95 L323 197.85 L323.6 197.87 L324.2 197.89 L324.8 197.97 L325.4 197.83 L326 197.72 L326.6 197.83 L327.2 197.88 L327.8 197.93 L328.4 197.94 L329 197.93 L329.6 197.93 L330.2 197.94 L330.8 197.88 L331.4 197.89 L332 197.78 L332.6 197.84 L333.2 197.85 L333.8 197.78 L334.4 197.77 L335 197.77 L335.6 197.77 L336.2 197.73 L336.8 197.86 L337.4 197.83 L338 197.86 L338.6 197.82 L339.2 197.86 L339.8 197.92 L340.4 198.01 L341 198.02 L341.6 197.91 L342.2 197.98 L342.8 197.97 L343.4 197.96 L344 197.92 L344.6 197.84 L345.2 197.88 L345.8 197.85 L346.4 197.88 L347 198 L347.6 197.99 L348.2 198.02 L348.8 198.06 L349.4 197.93 L350 197.93 L350.6 198.06 L351.2 198.13 L351.8 198.06 L352.4 197.9 L353 197.97 L353.6 198.06 L354.2 197.96 L354.8 198.03 L355.4 197.99 L356 197.93 L356.6 198.01 L357.2 197.98 L357.8 197.89 L358.4 197.95 L359 198.04 L359.6 198.12 L360.2 198.01 L360.8 198.11 L361.4 198.08 L362 198.07 L362.6 198 L363.2 197.98 L363.8 197.95 L364.4 197.99 L365 196.08 L365.6 194.9 L366.2 194.3 L366.8 193.93 L367.4 193.82 L368 193.71 L368.6 193.71" fill="none" stroke="#E3922A" stroke-width="0.7" stroke-linejoin="round"/>
<path d="M287.6 193.55 L288.2 193.39 L288.8 194.4 L289.4 197.51 L290 199.22 L290.6 200.32 L291.2 200.87 L291.8 201.25 L292.4 201.49 L293 201.59 L293.6 201.59 L294.2 201.63 L294.8 201.65 L295.4 201.58 L296 201.71 L296.6 201.73 L297.2 201.79 L297.8 201.9 L298.4 201.84 L299 201.97 L299.6 201.81 L300.2 201.79 L300.8 201.82 L301.4 201.76 L302 201.8 L302.6 201.74 L303.2 201.85 L303.8 201.86 L304.4 202.02 L305 201.97 L305.6 201.98 L306.2 201.95 L306.8 201.88 L307.4 201.87 L308 201.83 L308.6 201.79 L309.2 201.87 L309.8 201.88 L310.4 202 L311 202.09 L311.6 201.96 L312.2 201.95 L312.8 201.94 L313.4 201.84 L314 201.91 L314.6 201.77 L315.2 201.78 L315.8 201.93 L316.4 201.92 L317 201.92 L317.6 201.99 L318.2 202.02 L318.8 202.02 L319.4 201.99 L320 201.92 L320.6 201.96 L321.2 202.03 L321.8 202.07 L322.4 201.98 L323 202.02 L323.6 202.04 L324.2 202.03 L324.8 202.12 L325.4 202.01 L326 202.03 L326.6 202.05 L327.2 201.99 L327.8 201.83 L328.4 201.95 L329 201.95 L329.6 202.04 L330.2 202 L330.8 201.96 L331.4 201.94 L332 201.93 L332.6 202 L333.2 201.94 L333.8 201.97 L334.4 201.92 L335 201.94 L335.6 201.93 L336.2 202.01 L336.8 202.07 L337.4 202.06 L338 202.06 L338.6 202.07 L339.2 201.99 L339.8 201.93 L340.4 202 L341 202.05 L341.6 202.07 L342.2 202.07 L342.8 202.06 L343.4 202.12 L344 202.05 L344.6 202.18 L345.2 202.12 L345.8 202.07 L346.4 202.11 L347 202.02 L347.6 202.09 L348.2 202.01 L348.8 202.07 L349.4 202.19 L350 202.16 L350.6 202.05 L351.2 202.07 L351.8 202.02 L352.4 202.07 L353 201.97 L353.6 202.11 L354.2 202.2 L354.8 202.17 L355.4 202.14 L356 202.14 L356.6 202.02 L357.2 202.02 L357.8 202.09 L358.4 202.22 L359 202.2 L359.6 202.29 L360.2 202.23 L360.8 202.29 L361.4 202.25 L362 202.21 L362.6 202.24 L363.2 202.16 L363.8 202.18 L364.4 202.24 L365 198.47 L365.6 196.35 L366.2 195.16 L366.8 194.48 L367.4 194.08 L368 193.92 L368.6 193.66" fill="none" stroke="#E3922A" stroke-width="0.7" stroke-linejoin="round"/>
<path d="M287.6 193.56 L288.2 193.53 L288.8 194.52 L289.4 198.25 L290 200.64 L290.6 202.12 L291.2 203.08 L291.8 203.76 L292.4 204.28 L293 204.62 L293.6 204.86 L294.2 204.75 L294.8 204.79 L295.4 204.83 L296 204.85 L296.6 204.88 L297.2 204.84 L297.8 204.83 L298.4 204.95 L299 204.97 L299.6 204.89 L300.2 204.97 L300.8 205.13 L301.4 205.14 L302 205.05 L302.6 205.21 L303.2 205.05 L303.8 205.02 L304.4 205.06 L305 205.05 L305.6 205.12 L306.2 205.12 L306.8 205.12 L307.4 205.1 L308 205.07 L308.6 205.02 L309.2 205 L309.8 205.02 L310.4 205 L311 204.99 L311.6 205.04 L312.2 205.18 L312.8 205.16 L313.4 205.1 L314 205.14 L314.6 205.18 L315.2 205.13 L315.8 205.1 L316.4 205.1 L317 205.01 L317.6 205.12 L318.2 205.18 L318.8 205.07 L319.4 205.14 L320 205.12 L320.6 205.17 L321.2 205.18 L321.8 205.13 L322.4 205.09 L323 205.06 L323.6 205.18 L324.2 205.2 L324.8 205.28 L325.4 205.22 L326 205.23 L326.6 205.23 L327.2 205.18 L327.8 205.23 L328.4 205.13 L329 205.11 L329.6 205.18 L330.2 205.21 L330.8 205.26 L331.4 205.23 L332 205.19 L332.6 205.16 L333.2 205.18 L333.8 205.21 L334.4 205.27 L335 205.28 L335.6 205.21 L336.2 205.31 L336.8 205.4 L337.4 205.38 L338 205.38 L338.6 205.39 L339.2 205.42 L339.8 205.38 L340.4 205.34 L341 205.42 L341.6 205.34 L342.2 205.37 L342.8 205.3 L343.4 205.29 L344 205.32 L344.6 205.32 L345.2 205.46 L345.8 205.39 L346.4 205.51 L347 205.52 L347.6 205.34 L348.2 205.4 L348.8 205.44 L349.4 205.45 L350 205.38 L350.6 205.39 L351.2 205.41 L351.8 205.33 L352.4 205.35 L353 205.39 L353.6 205.45 L354.2 205.41 L354.8 205.39 L355.4 205.44 L356 205.32 L356.6 205.34 L357.2 205.4 L357.8 205.38 L358.4 205.39 L359 205.49 L359.6 205.54 L360.2 205.47 L360.8 205.46 L361.4 205.47 L362 205.57 L362.6 205.59 L363.2 205.52 L363.8 205.48 L364.4 205.47 L365 200.36 L365.6 197.49 L366.2 195.78 L366.8 194.9 L367.4 194.29 L368 193.96 L368.6 193.81" fill="none" stroke="#E3922A" stroke-width="0.7" stroke-linejoin="round"/>
<path d="M287.6 193.54 L288.2 193.57 L288.8 194.67 L289.4 198.61 L290 201.26 L290.6 203.13 L291.2 204.26 L291.8 205.07 L292.4 205.57 L293 206.04 L293.6 206.14 L294.2 206.23 L294.8 206.33 L295.4 206.39 L296 206.48 L296.6 206.6 L297.2 206.69 L297.8 206.67 L298.4 206.58 L299 206.69 L299.6 206.65 L300.2 206.74 L300.8 206.71 L301.4 206.78 L302 206.77 L302.6 206.66 L303.2 206.67 L303.8 206.71 L304.4 206.74 L305 206.75 L305.6 206.72 L306.2 206.79 L306.8 206.72 L307.4 206.8 L308 206.85 L308.6 206.84 L309.2 206.78 L309.8 206.81 L310.4 206.81 L311 206.86 L311.6 206.91 L312.2 206.84 L312.8 206.77 L313.4 206.83 L314 206.82 L314.6 206.91 L315.2 206.91 L315.8 206.86 L316.4 206.91 L317 206.8 L317.6 206.91 L318.2 206.88 L318.8 206.97 L319.4 206.9 L320 206.88 L320.6 206.93 L321.2 206.9 L321.8 206.9 L322.4 206.95 L323 206.91 L323.6 206.83 L324.2 206.86 L324.8 206.92 L325.4 206.89 L326 206.88 L326.6 206.83 L327.2 206.86 L327.8 206.92 L328.4 206.95 L329 207.01 L329.6 206.89 L330.2 206.97 L330.8 207.01 L331.4 206.91 L332 207 L332.6 206.95 L333.2 207.12 L333.8 207.19 L334.4 207.2 L335 207.21 L335.6 207.17 L336.2 207.22 L336.8 207.14 L337.4 207.16 L338 207.09 L338.6 207.21 L339.2 207.12 L339.8 207.09 L340.4 207.19 L341 207.19 L341.6 207.13 L342.2 207.04 L342.8 207.13 L343.4 207.01 L344 206.99 L344.6 206.99 L345.2 207.07 L345.8 207.12 L346.4 207.17 L347 207.2 L347.6 207.15 L348.2 207.24 L348.8 207.14 L349.4 207.11 L350 207.11 L350.6 207.17 L351.2 207.18 L351.8 207.26 L352.4 207.1 L353 207.19 L353.6 207.19 L354.2 207.26 L354.8 207.22 L355.4 207.13 L356 207.27 L356.6 207.29 L357.2 207.19 L357.8 207.21 L358.4 207.25 L359 207.28 L359.6 207.31 L360.2 207.32 L360.8 207.38 L361.4 207.32 L362 207.35 L362.6 207.37 L363.2 207.3 L363.8 207.31 L364.4 207.31 L365 201.49 L365.6 198.13 L366.2 196.17 L366.8 195.04 L367.4 194.31 L368 193.98 L368.6 193.74" fill="none" stroke="#E3922A" stroke-width="0.7" stroke-linejoin="round"/>
<path d="M397.7 191.59 L398.3 191.67 L398.9 189.46 L399.5 182.93 L400.1 177.85 L400.7 174.19 L401.3 171.36 L401.9 169.19 L402.5 167.59 L403.1 166.41 L403.7 165.48 L404.3 164.81 L404.9 164.36 L405.5 163.8 L406.1 163.51 L406.7 163.33 L407.3 163.19 L407.9 163 L408.5 163 L409.1 162.98 L409.7 162.93 L410.3 162.78 L410.9 162.71 L411.5 162.68 L412.1 162.75 L412.7 162.85 L413.3 162.75 L413.9 162.68 L414.5 162.65 L415.1 162.61 L415.7 162.56 L416.3 162.56 L416.9 162.53 L417.5 162.51 L418.1 162.61 L418.7 162.6 L419.3 162.64 L419.9 162.68 L420.5 162.69 L421.1 162.68 L421.7 162.68 L422.3 162.64 L422.9 162.66 L423.5 162.52 L424.1 162.61 L424.7 162.54 L425.3 162.54 L425.9 162.5 L426.5 162.56 L427.1 162.59 L427.7 162.52 L428.3 162.49 L428.9 162.51 L429.5 162.53 L430.1 162.57 L430.7 162.59 L431.3 162.59 L431.9 162.61 L432.5 162.59 L433.1 162.54 L433.7 162.51 L434.3 162.51 L434.9 162.45 L435.5 162.43 L436.1 162.42 L436.7 162.47 L437.3 162.4 L437.9 162.48 L438.5 162.52 L439.1 162.49 L439.7 162.56 L440.3 162.5 L440.9 162.51 L441.5 162.63 L442.1 162.58 L442.7 162.55 L443.3 162.53 L443.9 162.51 L444.5 162.47 L445.1 162.4 L445.7 162.44 L446.3 162.39 L446.9 162.32 L447.5 162.4 L448.1 162.39 L448.7 162.42 L449.3 162.43 L449.9 162.45 L450.5 162.42 L451.1 162.33 L451.7 162.27 L452.3 162.34 L452.9 162.37 L453.5 162.42 L454.1 162.35 L454.7 162.33 L455.3 162.35 L455.9 162.38 L456.5 162.37 L457.1 162.34 L457.7 162.32 L458.3 162.23 L458.9 162.26 L459.5 162.32 L460.1 162.32 L460.7 162.25 L461.3 162.3 L461.9 162.29 L462.5 162.22 L463.1 162.2 L463.7 162.25 L464.3 162.22 L464.9 162.2 L465.5 162.28 L466.1 162.25 L466.7 162.19 L467.3 162.17 L467.9 162.14 L468.5 162.19 L469.1 162.17 L469.7 162.14 L470.3 162.22 L470.9 162.22 L471.5 162.08 L472.1 162.14 L472.7 162.19 L473.3 162.14 L473.9 162.15 L474.5 162.2 L475.1 170.98 L475.7 178.2 L476.3 182.83 L476.9 185.91 L477.5 187.83 L478.1 189.15 L478.7 190.07 L479.3 190.64 L479.9 190.96" fill="none" stroke="#D51C24" stroke-width="0.8" stroke-linejoin="round"/>
<path d="M397.7 191.57 L398.3 191.58 L398.9 189.81 L399.5 185.07 L400.1 182.16 L400.7 180.24 L401.3 179.12 L401.9 178.36 L402.5 177.88 L403.1 177.64 L403.7 177.45 L404.3 177.38 L404.9 177.23 L405.5 177.13 L406.1 177.12 L406.7 177.15 L407.3 177.17 L407.9 177.13 L408.5 177.05 L409.1 177.09 L409.7 177.09 L410.3 177.05 L410.9 176.97 L411.5 176.91 L412.1 177.02 L412.7 177.02 L413.3 177.03 L413.9 177.06 L414.5 177.15 L415.1 177.1 L415.7 177.05 L416.3 177.03 L416.9 177.07 L417.5 177.04 L418.1 177.03 L418.7 177.08 L419.3 177.02 L419.9 177.02 L420.5 177.03 L421.1 176.91 L421.7 176.9 L422.3 176.92 L422.9 176.85 L423.5 176.96 L424.1 176.92 L424.7 176.99 L425.3 177 L425.9 176.95 L426.5 176.94 L427.1 176.96 L427.7 176.99 L428.3 177.03 L428.9 176.95 L429.5 176.94 L430.1 177.01 L430.7 177.01 L431.3 176.97 L431.9 176.94 L432.5 176.92 L433.1 177.01 L433.7 176.94 L434.3 176.99 L434.9 176.96 L435.5 176.91 L436.1 176.92 L436.7 176.86 L437.3 176.99 L437.9 177.13 L438.5 177.02 L439.1 177.04 L439.7 176.96 L440.3 176.89 L440.9 176.81 L441.5 176.76 L442.1 176.87 L442.7 176.9 L443.3 176.87 L443.9 176.84 L444.5 176.93 L445.1 176.94 L445.7 176.96 L446.3 176.95 L446.9 176.95 L447.5 177.08 L448.1 176.91 L448.7 176.93 L449.3 176.86 L449.9 176.87 L450.5 176.8 L451.1 176.78 L451.7 176.84 L452.3 176.89 L452.9 176.91 L453.5 176.87 L454.1 176.91 L454.7 176.88 L455.3 176.84 L455.9 176.86 L456.5 176.97 L457.1 176.95 L457.7 176.8 L458.3 176.83 L458.9 176.81 L459.5 176.73 L460.1 176.79 L460.7 176.83 L461.3 176.8 L461.9 176.75 L462.5 176.8 L463.1 176.85 L463.7 176.85 L464.3 176.84 L464.9 176.76 L465.5 176.73 L466.1 176.79 L466.7 176.76 L467.3 176.78 L467.9 176.87 L468.5 176.89 L469.1 176.87 L469.7 176.79 L470.3 176.81 L470.9 176.72 L471.5 176.72 L472.1 176.67 L472.7 176.74 L473.3 176.76 L473.9 176.83 L474.5 176.8 L475.1 181.26 L475.7 184.78 L476.3 187.22 L476.9 188.78 L477.5 189.83 L478.1 190.49 L478.7 190.84 L479.3 191.15 L479.9 191.29" fill="none" stroke="#D51C24" stroke-width="0.8" stroke-linejoin="round"/>
<path d="M397.7 191.69 L398.3 191.63 L398.9 190.28 L399.5 187.44 L400.1 185.95 L400.7 185.23 L401.3 184.78 L401.9 184.62 L402.5 184.46 L403.1 184.52 L403.7 184.47 L404.3 184.39 L404.9 184.42 L405.5 184.39 L406.1 184.39 L406.7 184.37 L407.3 184.48 L407.9 184.51 L408.5 184.36 L409.1 184.36 L409.7 184.33 L410.3 184.31 L410.9 184.4 L411.5 184.34 L412.1 184.27 L412.7 184.33 L413.3 184.32 L413.9 184.35 L414.5 184.39 L415.1 184.41 L415.7 184.36 L416.3 184.37 L416.9 184.39 L417.5 184.29 L418.1 184.34 L418.7 184.35 L419.3 184.46 L419.9 184.44 L420.5 184.35 L421.1 184.34 L421.7 184.34 L422.3 184.33 L422.9 184.3 L423.5 184.4 L424.1 184.38 L424.7 184.32 L425.3 184.44 L425.9 184.39 L426.5 184.36 L427.1 184.35 L427.7 184.34 L428.3 184.4 L428.9 184.49 L429.5 184.36 L430.1 184.39 L430.7 184.4 L431.3 184.45 L431.9 184.43 L432.5 184.5 L433.1 184.41 L433.7 184.37 L434.3 184.35 L434.9 184.38 L435.5 184.4 L436.1 184.46 L436.7 184.42 L437.3 184.42 L437.9 184.36 L438.5 184.4 L439.1 184.43 L439.7 184.4 L440.3 184.28 L440.9 184.39 L441.5 184.37 L442.1 184.31 L442.7 184.3 L443.3 184.35 L443.9 184.38 L444.5 184.42 L445.1 184.38 L445.7 184.35 L446.3 184.32 L446.9 184.34 L447.5 184.31 L448.1 184.3 L448.7 184.27 L449.3 184.23 L449.9 184.23 L450.5 184.31 L451.1 184.35 L451.7 184.36 L452.3 184.29 L452.9 184.25 L453.5 184.37 L454.1 184.46 L454.7 184.45 L455.3 184.38 L455.9 184.29 L456.5 184.29 L457.1 184.28 L457.7 184.34 L458.3 184.33 L458.9 184.27 L459.5 184.23 L460.1 184.3 L460.7 184.35 L461.3 184.38 L461.9 184.35 L462.5 184.37 L463.1 184.27 L463.7 184.28 L464.3 184.24 L464.9 184.26 L465.5 184.26 L466.1 184.23 L466.7 184.3 L467.3 184.3 L467.9 184.37 L468.5 184.35 L469.1 184.32 L469.7 184.27 L470.3 184.25 L470.9 184.3 L471.5 184.3 L472.1 184.39 L472.7 184.38 L473.3 184.32 L473.9 184.26 L474.5 184.25 L475.1 186.52 L475.7 188.35 L476.3 189.33 L476.9 190.1 L477.5 190.72 L478.1 190.96 L478.7 191.19 L479.3 191.36 L479.9 191.45" fill="none" stroke="#D51C24" stroke-width="0.8" stroke-linejoin="round"/>
<path d="M395.5 191.58 L396.1 191.57 L396.7 191.56 L397.3 191.57 L397.9 191.57 L398.5 191.67 L399.1 191.69 L399.7 191.6 L400.3 191.6 L400.9 191.68 L401.5 191.63 L402.1 191.63 L402.7 191.7 L403.3 191.62 L403.9 191.65 L404.5 191.61 L405.1 191.64 L405.7 191.61 L406.3 191.64 L406.9 191.67 L407.5 191.73 L408.1 191.63 L408.7 191.66 L409.3 191.67 L409.9 191.57 L410.5 191.65 L411.1 191.73 L411.7 191.77 L412.3 191.66 L412.9 191.59 L413.5 191.68 L414.1 191.64 L414.7 191.61 L415.3 191.55 L415.9 191.63 L416.5 191.5 L417.1 191.51 L417.7 191.57 L418.3 191.49 L418.9 191.58 L419.5 191.58 L420.1 191.59 L420.7 191.59 L421.3 191.6 L421.9 191.58 L422.5 191.53 L423.1 191.56 L423.7 191.64 L424.3 191.66 L424.9 191.64 L425.5 191.59 L426.1 191.6 L426.7 191.68 L427.3 191.64 L427.9 191.62 L428.5 191.57 L429.1 191.7 L429.7 191.65 L430.3 191.67 L430.9 191.54 L431.5 191.6 L432.1 191.62 L432.7 191.56 L433.3 191.57 L433.9 191.57 L434.5 191.63 L435.1 191.64 L435.7 191.6 L436.3 191.58 L436.9 191.68 L437.5 191.68 L438.1 191.65 L438.7 191.65 L439.3 191.65 L439.9 191.64 L440.5 191.61 L441.1 191.67 L441.7 191.62 L442.3 191.58 L442.9 191.54 L443.5 191.56 L444.1 191.56 L444.7 191.56 L445.3 191.58 L445.9 191.58 L446.5 191.62 L447.1 191.6 L447.7 191.57 L448.3 191.57 L448.9 191.55 L449.5 191.58 L450.1 191.53 L450.7 191.49 L451.3 191.61 L451.9 191.49 L452.5 191.48 L453.1 191.54 L453.7 191.54 L454.3 191.6 L454.9 191.46 L455.5 191.51 L456.1 191.63 L456.7 191.64 L457.3 191.6 L457.9 191.66 L458.5 191.63 L459.1 191.7 L459.7 191.61 L460.3 191.61 L460.9 191.6 L461.5 191.6 L462.1 191.69 L462.7 191.72 L463.3 191.71 L463.9 191.69 L464.5 191.65 L465.1 191.62 L465.7 191.64 L466.3 191.61 L466.9 191.66 L467.5 191.62 L468.1 191.56 L468.7 191.54 L469.3 191.61 L469.9 191.64 L470.5 191.62 L471.1 191.53 L471.7 191.55 L472.3 191.49 L472.9 191.57 L473.5 191.62 L474.1 191.6 L474.7 191.6 L475.3 191.6 L475.9 191.58 L476.5 191.55 L477.1 191.55 L477.7 191.64 L478.3 191.73 L478.9 191.62 L479.5 191.55 L480.1 191.52" fill="none" stroke="#D51C24" stroke-width="0.8" stroke-linejoin="round"/>
<path d="M397.7 191.56 L398.3 191.59 L398.9 192.73 L399.5 195.11 L400.1 196.31 L400.7 196.82 L401.3 197.08 L401.9 197.27 L402.5 197.31 L403.1 197.34 L403.7 197.47 L404.3 197.43 L404.9 197.37 L405.5 197.32 L406.1 197.41 L406.7 197.45 L407.3 197.49 L407.9 197.47 L408.5 197.53 L409.1 197.58 L409.7 197.56 L410.3 197.5 L410.9 197.45 L411.5 197.49 L412.1 197.55 L412.7 197.51 L413.3 197.43 L413.9 197.44 L414.5 197.37 L415.1 197.38 L415.7 197.47 L416.3 197.42 L416.9 197.43 L417.5 197.47 L418.1 197.38 L418.7 197.4 L419.3 197.46 L419.9 197.42 L420.5 197.38 L421.1 197.39 L421.7 197.46 L422.3 197.47 L422.9 197.44 L423.5 197.43 L424.1 197.49 L424.7 197.62 L425.3 197.53 L425.9 197.56 L426.5 197.51 L427.1 197.5 L427.7 197.5 L428.3 197.51 L428.9 197.52 L429.5 197.62 L430.1 197.54 L430.7 197.42 L431.3 197.51 L431.9 197.47 L432.5 197.44 L433.1 197.47 L433.7 197.43 L434.3 197.46 L434.9 197.45 L435.5 197.49 L436.1 197.44 L436.7 197.41 L437.3 197.42 L437.9 197.35 L438.5 197.39 L439.1 197.28 L439.7 197.3 L440.3 197.25 L440.9 197.31 L441.5 197.42 L442.1 197.49 L442.7 197.39 L443.3 197.36 L443.9 197.37 L444.5 197.45 L445.1 197.47 L445.7 197.43 L446.3 197.37 L446.9 197.48 L447.5 197.44 L448.1 197.4 L448.7 197.51 L449.3 197.5 L449.9 197.45 L450.5 197.48 L451.1 197.45 L451.7 197.47 L452.3 197.52 L452.9 197.42 L453.5 197.51 L454.1 197.48 L454.7 197.5 L455.3 197.54 L455.9 197.51 L456.5 197.5 L457.1 197.47 L457.7 197.5 L458.3 197.51 L458.9 197.53 L459.5 197.5 L460.1 197.48 L460.7 197.51 L461.3 197.46 L461.9 197.48 L462.5 197.5 L463.1 197.45 L463.7 197.46 L464.3 197.44 L464.9 197.46 L465.5 197.43 L466.1 197.5 L466.7 197.55 L467.3 197.55 L467.9 197.57 L468.5 197.48 L469.1 197.53 L469.7 197.57 L470.3 197.56 L470.9 197.55 L471.5 197.59 L472.1 197.56 L472.7 197.55 L473.3 197.57 L473.9 197.62 L474.5 197.64 L475.1 195.86 L475.7 194.43 L476.3 193.45 L476.9 192.75 L477.5 192.31 L478.1 192.04 L478.7 191.92 L479.3 191.74 L479.9 191.76" fill="none" stroke="#D51C24" stroke-width="0.8" stroke-linejoin="round"/>
<path d="M397.7 191.64 L398.3 191.66 L398.9 193.2 L399.5 196.74 L400.1 198.76 L400.7 199.79 L401.3 200.35 L401.9 200.72 L402.5 200.95 L403.1 200.96 L403.7 201.1 L404.3 201.09 L404.9 201.12 L405.5 201.17 L406.1 201.12 L406.7 201.28 L407.3 201.22 L407.9 201.22 L408.5 201.13 L409.1 201.2 L409.7 201.24 L410.3 201.22 L410.9 201.17 L411.5 201.25 L412.1 201.18 L412.7 201.19 L413.3 201.24 L413.9 201.23 L414.5 201.22 L415.1 201.19 L415.7 201.21 L416.3 201.17 L416.9 201.25 L417.5 201.2 L418.1 201.17 L418.7 201.31 L419.3 201.33 L419.9 201.27 L420.5 201.16 L421.1 201.15 L421.7 201.15 L422.3 201.26 L422.9 201.21 L423.5 201.22 L424.1 201.23 L424.7 201.33 L425.3 201.32 L425.9 201.33 L426.5 201.27 L427.1 201.29 L427.7 201.34 L428.3 201.36 L428.9 201.26 L429.5 201.29 L430.1 201.32 L430.7 201.33 L431.3 201.39 L431.9 201.35 L432.5 201.43 L433.1 201.35 L433.7 201.35 L434.3 201.3 L434.9 201.32 L435.5 201.32 L436.1 201.3 L436.7 201.26 L437.3 201.3 L437.9 201.34 L438.5 201.34 L439.1 201.42 L439.7 201.37 L440.3 201.26 L440.9 201.33 L441.5 201.41 L442.1 201.32 L442.7 201.31 L443.3 201.25 L443.9 201.2 L444.5 201.24 L445.1 201.17 L445.7 201.15 L446.3 201.27 L446.9 201.39 L447.5 201.37 L448.1 201.3 L448.7 201.34 L449.3 201.3 L449.9 201.27 L450.5 201.34 L451.1 201.38 L451.7 201.36 L452.3 201.39 L452.9 201.31 L453.5 201.36 L454.1 201.34 L454.7 201.29 L455.3 201.22 L455.9 201.33 L456.5 201.29 L457.1 201.36 L457.7 201.3 L458.3 201.29 L458.9 201.31 L459.5 201.19 L460.1 201.25 L460.7 201.31 L461.3 201.33 L461.9 201.33 L462.5 201.38 L463.1 201.4 L463.7 201.36 L464.3 201.37 L464.9 201.34 L465.5 201.28 L466.1 201.44 L466.7 201.46 L467.3 201.48 L467.9 201.43 L468.5 201.49 L469.1 201.52 L469.7 201.5 L470.3 201.45 L470.9 201.55 L471.5 201.45 L472.1 201.5 L472.7 201.57 L473.3 201.52 L473.9 201.4 L474.5 201.32 L475.1 198.41 L475.7 196.02 L476.3 194.48 L476.9 193.43 L477.5 192.83 L478.1 192.5 L478.7 192.16 L479.3 191.92 L479.9 191.88" fill="none" stroke="#D51C24" stroke-width="0.8" stroke-linejoin="round"/>
<path d="M397.7 191.63 L398.3 191.65 L398.9 193.38 L399.5 197.8 L400.1 200.5 L400.7 202.16 L401.3 203.15 L401.9 203.84 L402.5 204.22 L403.1 204.49 L403.7 204.55 L404.3 204.62 L404.9 204.66 L405.5 204.8 L406.1 204.89 L406.7 204.93 L407.3 204.88 L407.9 204.88 L408.5 204.9 L409.1 204.88 L409.7 205.01 L410.3 204.94 L410.9 204.95 L411.5 204.91 L412.1 204.9 L412.7 204.91 L413.3 204.82 L413.9 204.84 L414.5 204.87 L415.1 204.95 L415.7 204.88 L416.3 204.89 L416.9 204.86 L417.5 204.94 L418.1 204.91 L418.7 205.04 L419.3 205.02 L419.9 204.96 L420.5 204.91 L421.1 204.96 L421.7 204.9 L422.3 204.9 L422.9 204.9 L423.5 204.93 L424.1 205.01 L424.7 205.01 L425.3 204.98 L425.9 205.02 L426.5 205.01 L427.1 205.04 L427.7 205.06 L428.3 204.93 L428.9 204.96 L429.5 205.07 L430.1 204.95 L430.7 204.97 L431.3 205 L431.9 204.99 L432.5 204.94 L433.1 204.99 L433.7 204.96 L434.3 204.93 L434.9 204.92 L435.5 204.93 L436.1 204.9 L436.7 204.86 L437.3 204.94 L437.9 204.97 L438.5 204.95 L439.1 204.97 L439.7 205.01 L440.3 205 L440.9 204.92 L441.5 204.93 L442.1 204.86 L442.7 204.92 L443.3 205.01 L443.9 205.05 L444.5 205.03 L445.1 204.99 L445.7 204.97 L446.3 204.99 L446.9 204.96 L447.5 204.91 L448.1 204.98 L448.7 205 L449.3 205.08 L449.9 205.04 L450.5 205.04 L451.1 205.09 L451.7 205.11 L452.3 205.11 L452.9 205.01 L453.5 205.06 L454.1 204.99 L454.7 205.03 L455.3 204.94 L455.9 204.93 L456.5 204.94 L457.1 205 L457.7 205.05 L458.3 205.07 L458.9 205.07 L459.5 205.03 L460.1 205.07 L460.7 204.97 L461.3 204.97 L461.9 204.99 L462.5 205.13 L463.1 205.12 L463.7 205.07 L464.3 205.04 L464.9 205.03 L465.5 205.08 L466.1 205.09 L466.7 205.09 L467.3 205.09 L467.9 205.17 L468.5 205.15 L469.1 205.19 L469.7 205.07 L470.3 205.09 L470.9 205.09 L471.5 205.12 L472.1 205.07 L472.7 205.04 L473.3 205.13 L473.9 205.07 L474.5 205.08 L475.1 201.05 L475.7 197.77 L476.3 195.6 L476.9 194.1 L477.5 193.27 L478.1 192.7 L478.7 192.28 L479.3 192.04 L479.9 191.83" fill="none" stroke="#D51C24" stroke-width="0.8" stroke-linejoin="round"/>
<path d="M397.7 191.6 L398.3 191.6 L398.9 193.47 L399.5 198.28 L400.1 201.53 L400.7 203.63 L401.3 205 L401.9 205.86 L402.5 206.34 L403.1 206.65 L403.7 207.01 L404.3 207.18 L404.9 207.09 L405.5 207.19 L406.1 207.33 L406.7 207.27 L407.3 207.36 L407.9 207.33 L408.5 207.33 L409.1 207.26 L409.7 207.32 L410.3 207.35 L410.9 207.4 L411.5 207.43 L412.1 207.47 L412.7 207.57 L413.3 207.6 L413.9 207.45 L414.5 207.42 L415.1 207.37 L415.7 207.42 L416.3 207.45 L416.9 207.56 L417.5 207.48 L418.1 207.5 L418.7 207.48 L419.3 207.37 L419.9 207.47 L420.5 207.47 L421.1 207.39 L421.7 207.47 L422.3 207.44 L422.9 207.48 L423.5 207.44 L424.1 207.46 L424.7 207.47 L425.3 207.57 L425.9 207.5 L426.5 207.56 L427.1 207.53 L427.7 207.54 L428.3 207.54 L428.9 207.45 L429.5 207.45 L430.1 207.41 L430.7 207.48 L431.3 207.55 L431.9 207.58 L432.5 207.48 L433.1 207.44 L433.7 207.44 L434.3 207.48 L434.9 207.52 L435.5 207.53 L436.1 207.53 L436.7 207.53 L437.3 207.59 L437.9 207.55 L438.5 207.48 L439.1 207.58 L439.7 207.49 L440.3 207.51 L440.9 207.57 L441.5 207.6 L442.1 207.62 L442.7 207.7 L443.3 207.72 L443.9 207.61 L444.5 207.57 L445.1 207.68 L445.7 207.68 L446.3 207.64 L446.9 207.71 L447.5 207.67 L448.1 207.68 L448.7 207.68 L449.3 207.7 L449.9 207.64 L450.5 207.69 L451.1 207.65 L451.7 207.6 L452.3 207.64 L452.9 207.67 L453.5 207.61 L454.1 207.64 L454.7 207.61 L455.3 207.64 L455.9 207.69 L456.5 207.72 L457.1 207.63 L457.7 207.58 L458.3 207.56 L458.9 207.55 L459.5 207.62 L460.1 207.73 L460.7 207.64 L461.3 207.63 L461.9 207.64 L462.5 207.69 L463.1 207.73 L463.7 207.69 L464.3 207.69 L464.9 207.65 L465.5 207.63 L466.1 207.62 L466.7 207.64 L467.3 207.7 L467.9 207.63 L468.5 207.69 L469.1 207.61 L469.7 207.69 L470.3 207.74 L470.9 207.8 L471.5 207.68 L472.1 207.72 L472.7 207.68 L473.3 207.71 L473.9 207.76 L474.5 207.7 L475.1 202.85 L475.7 198.87 L476.3 196.31 L476.9 194.55 L477.5 193.52 L478.1 192.73 L478.7 192.32 L479.3 192.11 L479.9 192.01" fill="none" stroke="#D51C24" stroke-width="0.8" stroke-linejoin="round"/>
<text transform="translate(0.5 263.6) scale(1.0 1)" font-size="13.8" font-weight="bold" fill="#000" style="stroke:#000;stroke-width:0.3px">e</text>
<line x1="75.8" y1="354" x2="75.8" y2="356.3" stroke="#333" stroke-width="0.9"/>
<line x1="74.1" y1="356.3" x2="77.5" y2="356.3" stroke="#333" stroke-width="0.9"/>
<rect x="67.2" y="271.6" width="17.2" height="82.4" fill="#000" stroke="#1a1000" stroke-width="0.85"/>
<line x1="93" y1="353.4" x2="93" y2="355.5" stroke="#333" stroke-width="0.9"/>
<line x1="91.3" y1="355.5" x2="94.7" y2="355.5" stroke="#333" stroke-width="0.9"/>
<rect x="84.4" y="271.6" width="17.2" height="81.8" fill="#ECDD32" stroke="#1a1000" stroke-width="0.85"/>
<line x1="110.05" y1="352.3" x2="110.05" y2="355.2" stroke="#333" stroke-width="0.9"/>
<line x1="108.35" y1="355.2" x2="111.75" y2="355.2" stroke="#333" stroke-width="0.9"/>
<rect x="101.6" y="271.6" width="16.9" height="80.7" fill="#E69C28" stroke="#1a1000" stroke-width="0.85"/>
<line x1="127.05" y1="348" x2="127.05" y2="350" stroke="#333" stroke-width="0.9"/>
<line x1="125.35" y1="350" x2="128.75" y2="350" stroke="#333" stroke-width="0.9"/>
<rect x="118.5" y="271.6" width="17.1" height="76.4" fill="#D31F27" stroke="#1a1000" stroke-width="0.85"/>
<line x1="60.8" y1="271.5" x2="143.4" y2="271.5" stroke="#222" stroke-width="1"/>
<line x1="61.5" y1="271.5" x2="61.5" y2="373" stroke="#222" stroke-width="1"/>
<text transform="translate(56.6 275.1) scale(1 1.03)" font-size="9.7" text-anchor="end" fill="#111">0</text>
<line x1="59.4" y1="291.82" x2="61.5" y2="291.82" stroke="#222" stroke-width="0.9"/>
<text transform="translate(56.6 295.32) scale(1 1.03)" font-size="9.7" text-anchor="end" fill="#111">−20</text>
<line x1="59.4" y1="312.04" x2="61.5" y2="312.04" stroke="#222" stroke-width="0.9"/>
<text transform="translate(56.6 315.54) scale(1 1.03)" font-size="9.7" text-anchor="end" fill="#111">−40</text>
<line x1="59.4" y1="332.26" x2="61.5" y2="332.26" stroke="#222" stroke-width="0.9"/>
<text transform="translate(56.6 335.76) scale(1 1.03)" font-size="9.7" text-anchor="end" fill="#111">−60</text>
<line x1="59.4" y1="352.48" x2="61.5" y2="352.48" stroke="#222" stroke-width="0.9"/>
<text transform="translate(56.6 355.98) scale(1 1.03)" font-size="9.7" text-anchor="end" fill="#111">−80</text>
<line x1="59.4" y1="372.7" x2="61.5" y2="372.7" stroke="#222" stroke-width="0.9"/>
<text transform="translate(56.6 376.2) scale(1 1.03)" font-size="9.7" text-anchor="end" fill="#111">−100</text>
<text transform="translate(75.4 267.3) scale(1 1.03)" font-size="9.7" text-anchor="middle" fill="#111">6</text>
<text transform="translate(92.8 267.3) scale(1 1.03)" font-size="9.7" text-anchor="middle" fill="#111">15</text>
<text transform="translate(109.8 267.3) scale(1 1.03)" font-size="9.7" text-anchor="middle" fill="#111">7</text>
<text transform="translate(127.4 267.3) scale(1 1.03)" font-size="9.7" text-anchor="middle" fill="#111">11</text>
<text transform="translate(27.2 322.8) rotate(-90) scale(1 1.03)" font-size="9.7" text-anchor="middle" fill="#111">Resting MP (mV)</text>
<path d="M75.1 358.8 L75.1 361.4 L109.8 361.4 L109.8 358.8" fill="none" stroke="#333" stroke-width="0.8" stroke-linejoin="round"/>
<line x1="92.5" y1="358.8" x2="92.5" y2="361.4" stroke="#333" stroke-width="0.75"/>
<text transform="translate(92.6 369.2) scale(1 1.03)" font-size="7.6" text-anchor="middle" fill="#222">NS</text>
<path d="M109.5 364.6 L109.5 366.4 L126.8 366.4 L126.8 352.6" fill="none" stroke="#333" stroke-width="0.8" stroke-linejoin="round"/>
<text transform="translate(118.7 375.53) scale(1 1.03)" font-size="10.3" text-anchor="middle" fill="#222" style="stroke:none">**</text>
<path d="M92.5 369.8 L92.5 373.6 L126.8 373.6 L126.8 369.8" fill="none" stroke="#333" stroke-width="0.8" stroke-linejoin="round"/>
<text transform="translate(110 382.83) scale(1 1.03)" font-size="10.3" text-anchor="middle" fill="#222" style="stroke:none">****</text>
<path d="M75.2 365.1 L75.2 382.1 L126.8 382.1 L126.8 378.3" fill="none" stroke="#333" stroke-width="0.8" stroke-linejoin="round"/>
<text transform="translate(102 392.53) scale(1 1.03)" font-size="10.3" text-anchor="middle" fill="#222" style="stroke:none">****</text>
<text transform="translate(188.9 263.4) scale(1.0 1)" font-size="13.8" font-weight="bold" fill="#000" style="stroke:#000;stroke-width:0.3px">f</text>
<line x1="235.7" y1="343.8" x2="235.7" y2="342" stroke="#333" stroke-width="0.9"/>
<line x1="234" y1="342" x2="237.4" y2="342" stroke="#333" stroke-width="0.9"/>
<rect x="229.2" y="343.8" width="13" height="28.7" fill="#000" stroke="#1a1000" stroke-width="0.85"/>
<line x1="248.65" y1="345.8" x2="248.65" y2="344.5" stroke="#333" stroke-width="0.9"/>
<line x1="246.95" y1="344.5" x2="250.35" y2="344.5" stroke="#333" stroke-width="0.9"/>
<rect x="242.2" y="345.8" width="12.9" height="26.7" fill="#ECDD32" stroke="#1a1000" stroke-width="0.85"/>
<line x1="261.55" y1="341.4" x2="261.55" y2="338.5" stroke="#333" stroke-width="0.9"/>
<line x1="259.85" y1="338.5" x2="263.25" y2="338.5" stroke="#333" stroke-width="0.9"/>
<rect x="255.1" y="341.4" width="12.9" height="31.1" fill="#E69C28" stroke="#1a1000" stroke-width="0.85"/>
<line x1="274.5" y1="317.9" x2="274.5" y2="314.4" stroke="#333" stroke-width="0.9"/>
<line x1="272.8" y1="314.4" x2="276.2" y2="314.4" stroke="#333" stroke-width="0.9"/>
<rect x="268" y="317.9" width="13" height="54.6" fill="#D31F27" stroke="#1a1000" stroke-width="0.85"/>
<line x1="296.65" y1="328.8" x2="296.65" y2="326.4" stroke="#333" stroke-width="0.9"/>
<line x1="294.95" y1="326.4" x2="298.35" y2="326.4" stroke="#333" stroke-width="0.9"/>
<rect x="290.2" y="328.8" width="12.9" height="43.7" fill="#000" stroke="#1a1000" stroke-width="0.85"/>
<line x1="309.6" y1="335.4" x2="309.6" y2="332.9" stroke="#333" stroke-width="0.9"/>
<line x1="307.9" y1="332.9" x2="311.3" y2="332.9" stroke="#333" stroke-width="0.9"/>
<rect x="303.1" y="335.4" width="13" height="37.1" fill="#ECDD32" stroke="#1a1000" stroke-width="0.85"/>
<line x1="322.6" y1="323.2" x2="322.6" y2="321.5" stroke="#333" stroke-width="0.9"/>
<line x1="320.9" y1="321.5" x2="324.3" y2="321.5" stroke="#333" stroke-width="0.9"/>
<rect x="316.1" y="323.2" width="13" height="49.3" fill="#E69C28" stroke="#1a1000" stroke-width="0.85"/>
<line x1="335.5" y1="292.4" x2="335.5" y2="289.6" stroke="#333" stroke-width="0.9"/>
<line x1="333.8" y1="289.6" x2="337.2" y2="289.6" stroke="#333" stroke-width="0.9"/>
<rect x="329.1" y="292.4" width="12.8" height="80.1" fill="#D31F27" stroke="#1a1000" stroke-width="0.85"/>
<line x1="223.4" y1="372.5" x2="345" y2="372.5" stroke="#222" stroke-width="1"/>
<line x1="224.4" y1="269" x2="224.4" y2="372.5" stroke="#222" stroke-width="1"/>
<line x1="222.2" y1="372.8" x2="224.4" y2="372.8" stroke="#222" stroke-width="0.9"/>
<text transform="translate(218 376.3) scale(1 1.03)" font-size="9.7" text-anchor="end" fill="#111">0</text>
<line x1="222.2" y1="346.9" x2="224.4" y2="346.9" stroke="#222" stroke-width="0.9"/>
<text transform="translate(218 350.4) scale(1 1.03)" font-size="9.7" text-anchor="end" fill="#111">100</text>
<line x1="222.2" y1="321" x2="224.4" y2="321" stroke="#222" stroke-width="0.9"/>
<text transform="translate(218 324.5) scale(1 1.03)" font-size="9.7" text-anchor="end" fill="#111">200</text>
<line x1="222.2" y1="295.1" x2="224.4" y2="295.1" stroke="#222" stroke-width="0.9"/>
<text transform="translate(218 298.6) scale(1 1.03)" font-size="9.7" text-anchor="end" fill="#111">300</text>
<line x1="222.2" y1="269.2" x2="224.4" y2="269.2" stroke="#222" stroke-width="0.9"/>
<text transform="translate(218 272.7) scale(1 1.03)" font-size="9.7" text-anchor="end" fill="#111">400</text>
<text transform="translate(235.4 270.5) scale(1 1.03)" font-size="9.7" text-anchor="middle" fill="#111">7</text>
<text transform="translate(247.8 270.5) scale(1 1.03)" font-size="9.7" text-anchor="middle" fill="#111">7</text>
<text transform="translate(260.2 270.5) scale(1 1.03)" font-size="9.7" text-anchor="middle" fill="#111">9</text>
<text transform="translate(273 270.5) scale(1 1.03)" font-size="9.7" text-anchor="middle" fill="#111">8</text>
<text transform="translate(296.6 270.5) scale(1 1.03)" font-size="9.7" text-anchor="middle" fill="#111">7</text>
<text transform="translate(309.1 270.5) scale(1 1.03)" font-size="9.7" text-anchor="middle" fill="#111">7</text>
<text transform="translate(321.4 270.5) scale(1 1.03)" font-size="9.7" text-anchor="middle" fill="#111">9</text>
<text transform="translate(334.2 270.5) scale(1 1.03)" font-size="9.7" text-anchor="middle" fill="#111">8</text>
<text transform="translate(194.4 319.5) rotate(-90) scale(1 1.03)" font-size="9.7" text-anchor="middle" fill="#111"><tspan font-style="italic">R</tspan> (MΩ)</text>
<path d="M235.5 336 L235.5 294.5 L274.4 294.5 L274.4 308.4" fill="none" stroke="#333" stroke-width="0.75" stroke-linejoin="round"/>
<text transform="translate(255.4 293.03) scale(1 1.03)" font-size="10.3" text-anchor="middle" fill="#222" style="stroke:none">****</text>
<path d="M296.5 321.6 L296.5 283.7 L335.6 283.7 L335.6 286.8" fill="none" stroke="#333" stroke-width="0.75" stroke-linejoin="round"/>
<text transform="translate(316.3 285.33) scale(1 1.03)" font-size="10.3" text-anchor="middle" fill="#222" style="stroke:none">****</text>
<text transform="translate(245 383.2) scale(1 1.03)" font-size="9.7" fill="#111"><tspan font-style="italic">R</tspan><tspan font-size="6.4" dy="2.8">Neg</tspan></text>
<text transform="translate(306.2 383.2) scale(1 1.03)" font-size="9.7" fill="#111"><tspan font-style="italic">R</tspan><tspan font-size="6.4" dy="2.8">Pos</tspan></text>
<text transform="translate(371.5 263) scale(1.0 1)" font-size="13.8" font-weight="bold" fill="#000" style="stroke:#000;stroke-width:0.3px">g</text>
<line x1="409.75" y1="299.3" x2="409.75" y2="295.6" stroke="#333" stroke-width="0.9"/>
<line x1="408.05" y1="295.6" x2="411.45" y2="295.6" stroke="#333" stroke-width="0.9"/>
<rect x="403.3" y="299.3" width="12.9" height="73" fill="#000" stroke="#1a1000" stroke-width="0.85"/>
<line x1="422.55" y1="292.3" x2="422.55" y2="285.2" stroke="#333" stroke-width="0.9"/>
<line x1="420.85" y1="285.2" x2="424.25" y2="285.2" stroke="#333" stroke-width="0.9"/>
<rect x="416.2" y="292.3" width="12.7" height="80" fill="#ECDD32" stroke="#1a1000" stroke-width="0.85"/>
<line x1="435.25" y1="301.6" x2="435.25" y2="298.2" stroke="#333" stroke-width="0.9"/>
<line x1="433.55" y1="298.2" x2="436.95" y2="298.2" stroke="#333" stroke-width="0.9"/>
<rect x="428.9" y="301.6" width="12.7" height="70.7" fill="#E69C28" stroke="#1a1000" stroke-width="0.85"/>
<line x1="447.9" y1="313.6" x2="447.9" y2="307.5" stroke="#333" stroke-width="0.9"/>
<line x1="446.2" y1="307.5" x2="449.6" y2="307.5" stroke="#333" stroke-width="0.9"/>
<rect x="441.6" y="313.6" width="12.6" height="58.7" fill="#D31F27" stroke="#1a1000" stroke-width="0.85"/>
<line x1="470.35" y1="333.4" x2="470.35" y2="325.4" stroke="#333" stroke-width="0.9"/>
<line x1="468.65" y1="325.4" x2="472.05" y2="325.4" stroke="#333" stroke-width="0.9"/>
<rect x="463.9" y="333.4" width="12.9" height="38.9" fill="#000" stroke="#1a1000" stroke-width="0.85"/>
<line x1="483.05" y1="336.1" x2="483.05" y2="325.4" stroke="#333" stroke-width="0.9"/>
<line x1="481.35" y1="325.4" x2="484.75" y2="325.4" stroke="#333" stroke-width="0.9"/>
<rect x="476.8" y="336.1" width="12.5" height="36.2" fill="#ECDD32" stroke="#1a1000" stroke-width="0.85"/>
<line x1="495.5" y1="331.3" x2="495.5" y2="319.2" stroke="#333" stroke-width="0.9"/>
<line x1="493.8" y1="319.2" x2="497.2" y2="319.2" stroke="#333" stroke-width="0.9"/>
<rect x="489.3" y="331.3" width="12.4" height="41" fill="#E69C28" stroke="#1a1000" stroke-width="0.85"/>
<line x1="508.15" y1="340.9" x2="508.15" y2="327.3" stroke="#333" stroke-width="0.9"/>
<line x1="506.45" y1="327.3" x2="509.85" y2="327.3" stroke="#333" stroke-width="0.9"/>
<rect x="501.7" y="340.9" width="12.9" height="31.4" fill="#D31F27" stroke="#1a1000" stroke-width="0.85"/>
<line x1="397.4" y1="372.5" x2="518.5" y2="372.5" stroke="#222" stroke-width="1"/>
<line x1="398.3" y1="269" x2="398.3" y2="372.5" stroke="#222" stroke-width="1"/>
<line x1="396.2" y1="372.6" x2="398.3" y2="372.6" stroke="#222" stroke-width="0.9"/>
<text transform="translate(392.4 376.1) scale(1 1.03)" font-size="9.7" text-anchor="end" fill="#111">0</text>
<line x1="396.2" y1="355.4" x2="398.3" y2="355.4" stroke="#222" stroke-width="0.9"/>
<text transform="translate(392.4 358.9) scale(1 1.03)" font-size="9.7" text-anchor="end" fill="#111">1</text>
<line x1="396.2" y1="338.2" x2="398.3" y2="338.2" stroke="#222" stroke-width="0.9"/>
<text transform="translate(392.4 341.7) scale(1 1.03)" font-size="9.7" text-anchor="end" fill="#111">2</text>
<line x1="396.2" y1="321" x2="398.3" y2="321" stroke="#222" stroke-width="0.9"/>
<text transform="translate(392.4 324.5) scale(1 1.03)" font-size="9.7" text-anchor="end" fill="#111">3</text>
<line x1="396.2" y1="303.8" x2="398.3" y2="303.8" stroke="#222" stroke-width="0.9"/>
<text transform="translate(392.4 307.3) scale(1 1.03)" font-size="9.7" text-anchor="end" fill="#111">4</text>
<line x1="396.2" y1="286.6" x2="398.3" y2="286.6" stroke="#222" stroke-width="0.9"/>
<text transform="translate(392.4 290.1) scale(1 1.03)" font-size="9.7" text-anchor="end" fill="#111">5</text>
<line x1="396.2" y1="269.4" x2="398.3" y2="269.4" stroke="#222" stroke-width="0.9"/>
<text transform="translate(392.4 272.9) scale(1 1.03)" font-size="9.7" text-anchor="end" fill="#111">6</text>
<text transform="translate(410.5 270.5) scale(1 1.03)" font-size="9.7" text-anchor="middle" fill="#111">7</text>
<text transform="translate(422.7 270.5) scale(1 1.03)" font-size="9.7" text-anchor="middle" fill="#111">9</text>
<text transform="translate(435.1 270.5) scale(1 1.03)" font-size="9.7" text-anchor="middle" fill="#111">9</text>
<text transform="translate(447.8 270.5) scale(1 1.03)" font-size="9.7" text-anchor="middle" fill="#111">6</text>
<text transform="translate(470.8 270.5) scale(1 1.03)" font-size="9.7" text-anchor="middle" fill="#111">6</text>
<text transform="translate(482.6 270.5) scale(1 1.03)" font-size="9.7" text-anchor="middle" fill="#111">5</text>
<text transform="translate(494.6 270.5) scale(1 1.03)" font-size="9.7" text-anchor="middle" fill="#111">5</text>
<text transform="translate(506.8 270.5) scale(1 1.03)" font-size="9.7" text-anchor="middle" fill="#111">6</text>
<text transform="translate(380.2 322.3) rotate(-90) scale(1 1.03)" font-size="9.45" text-anchor="middle" fill="#111">EPSC frequency (Hz)</text>
<text transform="translate(428.3 383.5) scale(1 1.03)" font-size="9.7" text-anchor="middle" fill="#111">sEPSC</text>
<text transform="translate(489.4 383.5) scale(1 1.03)" font-size="9.7" text-anchor="middle" fill="#111">mEPSC</text>
<text transform="translate(532.3 263.4) scale(1.0 1)" font-size="13.8" font-weight="bold" fill="#000" style="stroke:#000;stroke-width:0.3px">h</text>
<line x1="576.45" y1="292.8" x2="576.45" y2="289.9" stroke="#333" stroke-width="0.9"/>
<line x1="574.75" y1="289.9" x2="578.15" y2="289.9" stroke="#333" stroke-width="0.9"/>
<rect x="570.1" y="292.8" width="12.7" height="79.4" fill="#000" stroke="#1a1000" stroke-width="0.85"/>
<line x1="589.05" y1="287.6" x2="589.05" y2="279.3" stroke="#333" stroke-width="0.9"/>
<line x1="587.35" y1="279.3" x2="590.75" y2="279.3" stroke="#333" stroke-width="0.9"/>
<rect x="582.8" y="287.6" width="12.5" height="84.6" fill="#ECDD32" stroke="#1a1000" stroke-width="0.85"/>
<line x1="601.65" y1="307.3" x2="601.65" y2="300.6" stroke="#333" stroke-width="0.9"/>
<line x1="599.95" y1="300.6" x2="603.35" y2="300.6" stroke="#333" stroke-width="0.9"/>
<rect x="595.3" y="307.3" width="12.7" height="64.9" fill="#E69C28" stroke="#1a1000" stroke-width="0.85"/>
<line x1="614.3" y1="293.9" x2="614.3" y2="285.2" stroke="#333" stroke-width="0.9"/>
<line x1="612.6" y1="285.2" x2="616" y2="285.2" stroke="#333" stroke-width="0.9"/>
<rect x="608" y="293.9" width="12.6" height="78.3" fill="#D31F27" stroke="#1a1000" stroke-width="0.85"/>
<line x1="636.3" y1="324.5" x2="636.3" y2="320.1" stroke="#333" stroke-width="0.9"/>
<line x1="634.6" y1="320.1" x2="638" y2="320.1" stroke="#333" stroke-width="0.9"/>
<rect x="630.1" y="324.5" width="12.4" height="47.7" fill="#000" stroke="#1a1000" stroke-width="0.85"/>
<line x1="648.75" y1="319.5" x2="648.75" y2="313.7" stroke="#333" stroke-width="0.9"/>
<line x1="647.05" y1="313.7" x2="650.45" y2="313.7" stroke="#333" stroke-width="0.9"/>
<rect x="642.5" y="319.5" width="12.5" height="52.7" fill="#ECDD32" stroke="#1a1000" stroke-width="0.85"/>
<line x1="661.35" y1="316.6" x2="661.35" y2="307.9" stroke="#333" stroke-width="0.9"/>
<line x1="659.65" y1="307.9" x2="663.05" y2="307.9" stroke="#333" stroke-width="0.9"/>
<rect x="655" y="316.6" width="12.7" height="55.6" fill="#E69C28" stroke="#1a1000" stroke-width="0.85"/>
<line x1="674" y1="323.9" x2="674" y2="319" stroke="#333" stroke-width="0.9"/>
<line x1="672.3" y1="319" x2="675.7" y2="319" stroke="#333" stroke-width="0.9"/>
<rect x="667.7" y="323.9" width="12.6" height="48.3" fill="#D31F27" stroke="#1a1000" stroke-width="0.85"/>
<line x1="563.4" y1="372.5" x2="685" y2="372.5" stroke="#222" stroke-width="1"/>
<line x1="564.5" y1="267.2" x2="564.5" y2="372.5" stroke="#222" stroke-width="1"/>
<line x1="562.2" y1="372.3" x2="564.5" y2="372.3" stroke="#222" stroke-width="0.9"/>
<text transform="translate(559.2 375.8) scale(1 1.03)" font-size="9.7" text-anchor="end" fill="#111">0</text>
<line x1="563" y1="362.08" x2="564.5" y2="362.08" stroke="#222" stroke-width="0.8"/>
<line x1="562.2" y1="351.86" x2="564.5" y2="351.86" stroke="#222" stroke-width="0.9"/>
<text transform="translate(559.2 355.36) scale(1 1.03)" font-size="9.7" text-anchor="end" fill="#111">4</text>
<line x1="563" y1="341.64" x2="564.5" y2="341.64" stroke="#222" stroke-width="0.8"/>
<line x1="562.2" y1="331.42" x2="564.5" y2="331.42" stroke="#222" stroke-width="0.9"/>
<text transform="translate(559.2 334.92) scale(1 1.03)" font-size="9.7" text-anchor="end" fill="#111">8</text>
<line x1="563" y1="321.2" x2="564.5" y2="321.2" stroke="#222" stroke-width="0.8"/>
<line x1="562.2" y1="310.98" x2="564.5" y2="310.98" stroke="#222" stroke-width="0.9"/>
<text transform="translate(559.2 314.48) scale(1 1.03)" font-size="9.7" text-anchor="end" fill="#111">12</text>
<line x1="563" y1="300.76" x2="564.5" y2="300.76" stroke="#222" stroke-width="0.8"/>
<line x1="562.2" y1="290.54" x2="564.5" y2="290.54" stroke="#222" stroke-width="0.9"/>
<text transform="translate(559.2 294.04) scale(1 1.03)" font-size="9.7" text-anchor="end" fill="#111">16</text>
<line x1="563" y1="280.32" x2="564.5" y2="280.32" stroke="#222" stroke-width="0.8"/>
<line x1="562.2" y1="267.6" x2="564.5" y2="267.6" stroke="#222" stroke-width="0.9"/>
<text transform="translate(559.2 271.1) scale(1 1.03)" font-size="9.7" text-anchor="end" fill="#111">20</text>
<text transform="translate(576.1 270.5) scale(1 1.03)" font-size="9.7" text-anchor="middle" fill="#111">7</text>
<text transform="translate(589.2 270.5) scale(1 1.03)" font-size="9.7" text-anchor="middle" fill="#111">9</text>
<text transform="translate(601.6 270.5) scale(1 1.03)" font-size="9.7" text-anchor="middle" fill="#111">9</text>
<text transform="translate(614.3 270.5) scale(1 1.03)" font-size="9.7" text-anchor="middle" fill="#111">6</text>
<text transform="translate(637 270.5) scale(1 1.03)" font-size="9.7" text-anchor="middle" fill="#111">6</text>
<text transform="translate(649.3 270.5) scale(1 1.03)" font-size="9.7" text-anchor="middle" fill="#111">5</text>
<text transform="translate(661.3 270.5) scale(1 1.03)" font-size="9.7" text-anchor="middle" fill="#111">5</text>
<text transform="translate(673.4 270.5) scale(1 1.03)" font-size="9.7" text-anchor="middle" fill="#111">6</text>
<text transform="translate(540.2 320.7) rotate(-90) scale(1 1.03)" font-size="9.7" text-anchor="middle" fill="#111">EPSC amplitude (pA)</text>
<text transform="translate(595.2 383.3) scale(1 1.03)" font-size="9.7" text-anchor="middle" fill="#111">sEPSC</text>
<text transform="translate(655.3 383.3) scale(1 1.03)" font-size="9.7" text-anchor="middle" fill="#111">mEPSC</text>
<rect x="171.6" y="398.8" width="19.1" height="12.5" fill="#000" stroke="#1a1000" stroke-width="0.8"/>
<text transform="translate(195.3 408.2) scale(1 1.03)" font-size="9.6" fill="#111">Untreated</text>
<rect x="245.3" y="398.8" width="19.1" height="12.5" fill="#ECDD32" stroke="#1a1000" stroke-width="0.8"/>
<text transform="translate(268.9 408.2) scale(1 1.03)" font-size="9.6" fill="#111">hGPC-EGFP</text>
<rect x="338.2" y="398.8" width="19.1" height="12.5" fill="#E69C28" stroke="#1a1000" stroke-width="0.8"/>
<text transform="translate(361 408.2) scale(1 1.03)" font-size="9.6" fill="#111">hGPC-23Q</text>
<rect x="418.8" y="398.8" width="19.1" height="12.5" fill="#D31F27" stroke="#1a1000" stroke-width="0.8"/>
<text transform="translate(442.2 408.2) scale(1 1.03)" font-size="9.6" fill="#111">hGPC-73Q</text>
</svg>
</body></html>
